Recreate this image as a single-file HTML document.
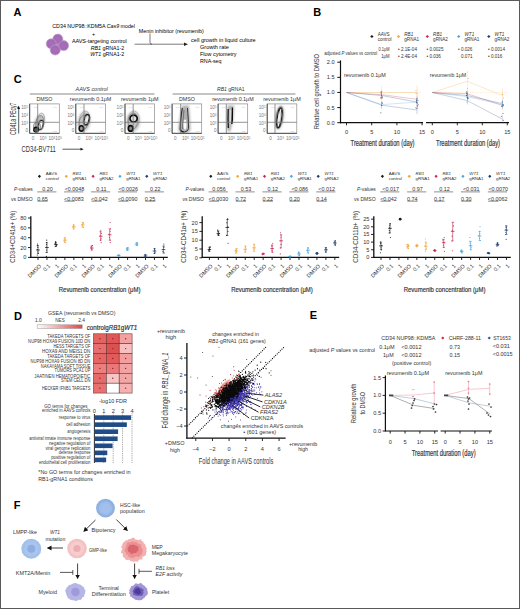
<!DOCTYPE html>
<html><head><meta charset="utf-8"><style>
html,body{margin:0;padding:0;background:#fff;}
#f{position:relative;width:520px;height:609px;overflow:hidden;background:#fff;}
svg{position:absolute;left:0;top:0;font-family:"Liberation Sans", sans-serif;}
</style></head><body><div id="f">
<svg width="520" height="609" viewBox="0 0 520 609">
<rect x="0.5" y="0.5" width="519" height="608" fill="#fff" stroke="#5a5a5a" stroke-width="1"/>
<text x="13.60" y="15.96" font-size="11" fill="#000" font-weight="bold" >A</text>
<text x="313.30" y="15.96" font-size="11" fill="#000" font-weight="bold" >B</text>
<text x="13.80" y="83.16" font-size="11" fill="#000" font-weight="bold" >C</text>
<text x="14.00" y="319.76" font-size="11" fill="#000" font-weight="bold" >D</text>
<text x="309.70" y="318.96" font-size="11" fill="#000" font-weight="bold" >E</text>
<text x="13.80" y="508.96" font-size="11" fill="#000" font-weight="bold" >F</text>
<circle cx="57.00" cy="44.60" r="5.50" fill="#b482c4" />
<circle cx="57.80" cy="39.20" r="5.10" fill="#a56fb7" stroke="#c19ad0" stroke-width="0.6"/>
<circle cx="57.80" cy="39.20" r="3.16" fill="none" stroke="#9a62ad" stroke-width="0.5" opacity="0.7"/>
<circle cx="51.20" cy="43.80" r="5.00" fill="#a56fb7" stroke="#c19ad0" stroke-width="0.6"/>
<circle cx="51.20" cy="43.80" r="3.10" fill="none" stroke="#9a62ad" stroke-width="0.5" opacity="0.7"/>
<circle cx="63.60" cy="45.60" r="5.00" fill="#a56fb7" stroke="#c19ad0" stroke-width="0.6"/>
<circle cx="63.60" cy="45.60" r="3.10" fill="none" stroke="#9a62ad" stroke-width="0.5" opacity="0.7"/>
<circle cx="55.20" cy="50.00" r="5.10" fill="#a56fb7" stroke="#c19ad0" stroke-width="0.6"/>
<circle cx="55.20" cy="50.00" r="3.16" fill="none" stroke="#9a62ad" stroke-width="0.5" opacity="0.7"/>
<text x="52.30" y="27.99" font-size="5.8" textLength="82.70" lengthAdjust="spacingAndGlyphs" >CD34 NUP98::KDM5A <tspan font-style="italic">Cas9</tspan> model</text>
<text x="93.50" y="35.71" font-size="5.3" text-anchor="middle" >+</text>
<text x="71.90" y="42.59" font-size="5.8" textLength="54.80" lengthAdjust="spacingAndGlyphs" >AAVS-targeting control</text>
<text x="90.80" y="49.59" font-size="5.8" textLength="33.40" lengthAdjust="spacingAndGlyphs" ><tspan font-style="italic">RB1</tspan> gRNA1-2</text>
<text x="90.20" y="56.29" font-size="5.8" textLength="34.00" lengthAdjust="spacingAndGlyphs" ><tspan font-style="italic">WT1</tspan> gRNA1-2</text>
<text x="138.80" y="33.09" font-size="5.8" textLength="65.00" lengthAdjust="spacingAndGlyphs" >Menin inhibitor (revumenib)</text>
<line x1="134.60" y1="44.20" x2="185.00" y2="44.20" stroke="#222" stroke-width="0.6" />
<path d="M150,33.5 L150,42.5 Q150,44.2 152,44.2" fill="none" stroke="#222" stroke-width="0.6" />
<path d="M184,42.5 L188,44.2 L184,45.9 Z" fill="#222" stroke="none" stroke-width="1" />
<text x="191.10" y="42.39" font-size="5.8" textLength="64.60" lengthAdjust="spacingAndGlyphs" >cell growth in liquid culture</text>
<text x="200.00" y="48.89" font-size="5.8" textLength="28.90" lengthAdjust="spacingAndGlyphs" >Growth rate</text>
<text x="200.00" y="55.99" font-size="5.8" textLength="36.60" lengthAdjust="spacingAndGlyphs" >Flow cytometry</text>
<text x="200.00" y="62.99" font-size="5.8" textLength="21.50" lengthAdjust="spacingAndGlyphs" >RNA-seq</text>
<path d="M370.20,36.5 L371.90,34.9 L373.60,36.5 L371.90,38.1 Z" fill="#1a1a1a"/>
<text x="377.70" y="35.86" font-size="4.6" fill="#333" >AAVS</text>
<text x="377.70" y="40.76" font-size="4.6" fill="#333" >control</text>
<path d="M396.80,36.5 L398.50,34.9 L400.20,36.5 L398.50,38.1 Z" fill="#f0a63a"/>
<text x="404.30" y="35.86" font-size="4.6" fill="#333" font-style="italic" >RB1</text>
<text x="404.30" y="40.76" font-size="4.6" fill="#333" >gRNA1</text>
<path d="M425.60,36.5 L427.30,34.9 L429.00,36.5 L427.30,38.1 Z" fill="#c42a52"/>
<text x="433.10" y="35.86" font-size="4.6" fill="#333" font-style="italic" >RB1</text>
<text x="433.10" y="40.76" font-size="4.6" fill="#333" >gRNA2</text>
<path d="M457.00,36.5 L458.70,34.9 L460.40,36.5 L458.70,38.1 Z" fill="#4aa6dc"/>
<text x="464.50" y="35.86" font-size="4.6" fill="#333" font-style="italic" >WT1</text>
<text x="464.50" y="40.76" font-size="4.6" fill="#333" >gRNA1</text>
<path d="M487.10,36.5 L488.80,34.9 L490.50,36.5 L488.80,38.1 Z" fill="#1e3c6c"/>
<text x="494.60" y="35.86" font-size="4.6" fill="#333" font-style="italic" >WT1</text>
<text x="494.60" y="40.76" font-size="4.6" fill="#333" >gRNA2</text>
<text x="324.20" y="55.40" font-size="5.0" textLength="53.00" lengthAdjust="spacingAndGlyphs" fill="#333" >adjusted <tspan font-style="italic">P</tspan> values vs control</text>
<text x="389.60" y="50.86" font-size="4.6" text-anchor="end" textLength="11.10" lengthAdjust="spacingAndGlyphs" fill="#333" >0.1μM</text>
<text x="389.60" y="58.16" font-size="4.6" text-anchor="end" textLength="8.40" lengthAdjust="spacingAndGlyphs" fill="#333" >1μM</text>
<text x="398.00" y="50.86" font-size="4.6" fill="#333" >• 2.1E-04</text>
<text x="398.00" y="58.16" font-size="4.6" fill="#333" >• 2.4E-04</text>
<text x="426.50" y="50.86" font-size="4.6" fill="#333" >• 0.0025</text>
<text x="426.50" y="58.16" font-size="4.6" fill="#333" >• 0.036</text>
<text x="458.00" y="50.86" font-size="4.6" fill="#333" >• 0.026</text>
<text x="461.00" y="58.16" font-size="4.6" fill="#333" >0.071</text>
<text x="488.00" y="50.86" font-size="4.6" fill="#333" >• 0.0014</text>
<text x="488.00" y="58.16" font-size="4.6" fill="#333" >• 0.016</text>
<line x1="340.50" y1="60.40" x2="340.50" y2="123.30" stroke="#111" stroke-width="1.2" />
<line x1="337.30" y1="62.20" x2="340.50" y2="62.20" stroke="#111" stroke-width="1" />
<text x="334.60" y="64.22" font-size="5.6" text-anchor="end" fill="#333" >2.0</text>
<line x1="337.30" y1="77.33" x2="340.50" y2="77.33" stroke="#111" stroke-width="1" />
<text x="334.60" y="79.34" font-size="5.6" text-anchor="end" fill="#333" >1.5</text>
<line x1="337.30" y1="92.45" x2="340.50" y2="92.45" stroke="#111" stroke-width="1" />
<text x="334.60" y="94.47" font-size="5.6" text-anchor="end" fill="#333" >1.0</text>
<line x1="337.30" y1="107.58" x2="340.50" y2="107.58" stroke="#111" stroke-width="1" />
<text x="334.60" y="109.59" font-size="5.6" text-anchor="end" fill="#333" >0.5</text>
<line x1="337.30" y1="122.70" x2="340.50" y2="122.70" stroke="#111" stroke-width="1" />
<text x="334.60" y="124.72" font-size="5.6" text-anchor="end" fill="#333" >0.0</text>
<line x1="340.00" y1="122.70" x2="423.00" y2="122.70" stroke="#111" stroke-width="1.2" />
<line x1="346.50" y1="122.70" x2="346.50" y2="125.30" stroke="#111" stroke-width="0.9" />
<text x="346.50" y="134.02" font-size="5.6" text-anchor="middle" fill="#333" >0</text>
<line x1="371.70" y1="122.70" x2="371.70" y2="125.30" stroke="#111" stroke-width="0.9" />
<text x="371.70" y="134.02" font-size="5.6" text-anchor="middle" fill="#333" >5</text>
<line x1="396.90" y1="122.70" x2="396.90" y2="125.30" stroke="#111" stroke-width="0.9" />
<text x="396.90" y="134.02" font-size="5.6" text-anchor="middle" fill="#333" >10</text>
<line x1="422.10" y1="122.70" x2="422.10" y2="125.30" stroke="#111" stroke-width="0.9" />
<text x="422.10" y="134.02" font-size="5.6" text-anchor="middle" fill="#333" >15</text>
<text x="382.54" y="145.62" font-size="8.4" text-anchor="middle" textLength="64.00" lengthAdjust="spacingAndGlyphs" fill="#333" stroke="#333" stroke-width="0.18">Treatment duration (day)</text>
<text x="343.90" y="76.56" font-size="6.0" textLength="42.00" lengthAdjust="spacingAndGlyphs" fill="#333" >revumenib 0.1μM</text>
<line x1="426.00" y1="122.70" x2="509.00" y2="122.70" stroke="#111" stroke-width="1.2" />
<line x1="432.30" y1="122.70" x2="432.30" y2="125.30" stroke="#111" stroke-width="0.9" />
<text x="432.30" y="134.02" font-size="5.6" text-anchor="middle" fill="#333" >0</text>
<line x1="457.30" y1="122.70" x2="457.30" y2="125.30" stroke="#111" stroke-width="0.9" />
<text x="457.30" y="134.02" font-size="5.6" text-anchor="middle" fill="#333" >5</text>
<line x1="482.30" y1="122.70" x2="482.30" y2="125.30" stroke="#111" stroke-width="0.9" />
<text x="482.30" y="134.02" font-size="5.6" text-anchor="middle" fill="#333" >10</text>
<line x1="507.30" y1="122.70" x2="507.30" y2="125.30" stroke="#111" stroke-width="0.9" />
<text x="507.30" y="134.02" font-size="5.6" text-anchor="middle" fill="#333" >15</text>
<text x="468.05" y="145.62" font-size="8.4" text-anchor="middle" textLength="64.00" lengthAdjust="spacingAndGlyphs" fill="#333" stroke="#333" stroke-width="0.18">Treatment duration (day)</text>
<text x="429.70" y="76.56" font-size="6.0" textLength="36.50" lengthAdjust="spacingAndGlyphs" fill="#333" >revumenib 1μM</text>
<text x="316.60" y="94.41" font-size="7.8" text-anchor="middle" textLength="75.40" lengthAdjust="spacingAndGlyphs" fill="#333" transform="rotate(-90 316.60 91.60)" >Relative cell growth to DMSO</text>
<path d="M346.5,92.5 L381.8,92.5 L417.1,92.5" fill="none" stroke="#f0a63a" stroke-width="0.6" opacity="0.45"/>
<line x1="381.78" y1="85.25" x2="381.78" y2="99.65" stroke="#f0a63a" stroke-width="0.4" opacity="0.6"/>
<circle cx="381.36" cy="96.72" r="0.50" fill="#f0a63a" />
<circle cx="380.75" cy="98.39" r="0.50" fill="#f0a63a" />
<circle cx="381.87" cy="91.29" r="0.50" fill="#f0a63a" />
<line x1="417.06" y1="85.25" x2="417.06" y2="99.65" stroke="#f0a63a" stroke-width="0.4" opacity="0.6"/>
<circle cx="417.08" cy="93.75" r="0.50" fill="#f0a63a" />
<circle cx="415.95" cy="90.70" r="0.50" fill="#f0a63a" />
<circle cx="416.08" cy="93.23" r="0.50" fill="#f0a63a" />
<path d="M346.5,92.5 L381.8,94.6 L417.1,99.4" fill="none" stroke="#c42a52" stroke-width="0.6" opacity="0.45"/>
<line x1="381.78" y1="90.57" x2="381.78" y2="98.57" stroke="#c42a52" stroke-width="0.4" opacity="0.6"/>
<circle cx="381.60" cy="95.24" r="0.50" fill="#c42a52" />
<circle cx="381.12" cy="93.29" r="0.50" fill="#c42a52" />
<circle cx="382.09" cy="98.04" r="0.50" fill="#c42a52" />
<line x1="417.06" y1="95.41" x2="417.06" y2="103.41" stroke="#c42a52" stroke-width="0.4" opacity="0.6"/>
<circle cx="416.81" cy="98.22" r="0.50" fill="#c42a52" />
<circle cx="418.20" cy="104.71" r="0.50" fill="#c42a52" />
<circle cx="416.56" cy="101.01" r="0.50" fill="#c42a52" />
<path d="M346.5,92.5 L381.8,95.5 L417.1,102.1" fill="none" stroke="#1e3c6c" stroke-width="0.6" opacity="0.45"/>
<line x1="381.78" y1="91.47" x2="381.78" y2="99.47" stroke="#1e3c6c" stroke-width="0.4" opacity="0.6"/>
<circle cx="380.93" cy="97.25" r="0.50" fill="#1e3c6c" />
<circle cx="382.54" cy="97.10" r="0.50" fill="#1e3c6c" />
<circle cx="381.01" cy="91.99" r="0.50" fill="#1e3c6c" />
<line x1="417.06" y1="98.13" x2="417.06" y2="106.13" stroke="#1e3c6c" stroke-width="0.4" opacity="0.6"/>
<circle cx="416.75" cy="100.17" r="0.50" fill="#1e3c6c" />
<circle cx="417.17" cy="103.04" r="0.50" fill="#1e3c6c" />
<circle cx="416.35" cy="102.51" r="0.50" fill="#1e3c6c" />
<path d="M346.5,92.5 L381.8,104.6 L417.1,102.1" fill="none" stroke="#4aa6dc" stroke-width="0.6" opacity="0.45"/>
<line x1="381.78" y1="100.55" x2="381.78" y2="108.55" stroke="#4aa6dc" stroke-width="0.4" opacity="0.6"/>
<circle cx="382.21" cy="102.37" r="0.50" fill="#4aa6dc" />
<circle cx="381.99" cy="105.62" r="0.50" fill="#4aa6dc" />
<circle cx="381.67" cy="103.02" r="0.50" fill="#4aa6dc" />
<line x1="417.06" y1="98.13" x2="417.06" y2="106.13" stroke="#4aa6dc" stroke-width="0.4" opacity="0.6"/>
<circle cx="417.54" cy="106.87" r="0.50" fill="#4aa6dc" />
<circle cx="416.45" cy="99.08" r="0.50" fill="#4aa6dc" />
<circle cx="417.96" cy="100.59" r="0.50" fill="#4aa6dc" />
<path d="M346.5,92.5 L381.8,105.2 L417.1,110.0" fill="none" stroke="#3c4c88" stroke-width="0.6" opacity="0.45"/>
<line x1="381.78" y1="101.16" x2="381.78" y2="109.16" stroke="#3c4c88" stroke-width="0.4" opacity="0.6"/>
<circle cx="382.33" cy="103.30" r="0.50" fill="#3c4c88" />
<circle cx="380.86" cy="112.77" r="0.50" fill="#3c4c88" />
<circle cx="381.58" cy="105.23" r="0.50" fill="#3c4c88" />
<line x1="417.06" y1="106.00" x2="417.06" y2="114.00" stroke="#3c4c88" stroke-width="0.4" opacity="0.6"/>
<circle cx="417.03" cy="108.39" r="0.50" fill="#3c4c88" />
<circle cx="415.95" cy="107.65" r="0.50" fill="#3c4c88" />
<circle cx="417.24" cy="105.85" r="0.50" fill="#3c4c88" />
<path d="M432.3,92.5 L467.3,81.3 L502.3,95.5" fill="none" stroke="#f0a63a" stroke-width="0.6" opacity="0.45"/>
<line x1="467.30" y1="74.06" x2="467.30" y2="88.46" stroke="#f0a63a" stroke-width="0.4" opacity="0.6"/>
<circle cx="468.20" cy="78.23" r="0.50" fill="#f0a63a" />
<circle cx="467.53" cy="88.41" r="0.50" fill="#f0a63a" />
<circle cx="467.49" cy="71.97" r="0.50" fill="#f0a63a" />
<line x1="502.30" y1="88.27" x2="502.30" y2="102.67" stroke="#f0a63a" stroke-width="0.4" opacity="0.6"/>
<circle cx="503.37" cy="98.10" r="0.50" fill="#f0a63a" />
<circle cx="502.24" cy="94.56" r="0.50" fill="#f0a63a" />
<circle cx="502.78" cy="93.95" r="0.50" fill="#f0a63a" />
<path d="M432.3,92.5 L467.3,93.7 L502.3,105.5" fill="none" stroke="#c42a52" stroke-width="0.6" opacity="0.45"/>
<line x1="467.30" y1="89.66" x2="467.30" y2="97.66" stroke="#c42a52" stroke-width="0.4" opacity="0.6"/>
<circle cx="467.65" cy="98.86" r="0.50" fill="#c42a52" />
<circle cx="466.78" cy="93.43" r="0.50" fill="#c42a52" />
<circle cx="467.03" cy="93.37" r="0.50" fill="#c42a52" />
<line x1="502.30" y1="101.46" x2="502.30" y2="109.46" stroke="#c42a52" stroke-width="0.4" opacity="0.6"/>
<circle cx="502.21" cy="104.94" r="0.50" fill="#c42a52" />
<circle cx="501.50" cy="106.18" r="0.50" fill="#c42a52" />
<circle cx="502.94" cy="106.11" r="0.50" fill="#c42a52" />
<path d="M432.3,92.5 L467.3,95.5 L502.3,103.6" fill="none" stroke="#1e3c6c" stroke-width="0.6" opacity="0.45"/>
<line x1="467.30" y1="91.47" x2="467.30" y2="99.47" stroke="#1e3c6c" stroke-width="0.4" opacity="0.6"/>
<circle cx="466.41" cy="95.52" r="0.50" fill="#1e3c6c" />
<circle cx="468.19" cy="98.26" r="0.50" fill="#1e3c6c" />
<circle cx="466.29" cy="92.12" r="0.50" fill="#1e3c6c" />
<line x1="502.30" y1="99.64" x2="502.30" y2="107.64" stroke="#1e3c6c" stroke-width="0.4" opacity="0.6"/>
<circle cx="503.22" cy="104.75" r="0.50" fill="#1e3c6c" />
<circle cx="503.07" cy="105.13" r="0.50" fill="#1e3c6c" />
<circle cx="502.10" cy="101.94" r="0.50" fill="#1e3c6c" />
<path d="M432.3,92.5 L467.3,96.7 L502.3,104.6" fill="none" stroke="#4aa6dc" stroke-width="0.6" opacity="0.45"/>
<line x1="467.30" y1="92.69" x2="467.30" y2="100.69" stroke="#4aa6dc" stroke-width="0.4" opacity="0.6"/>
<circle cx="466.96" cy="101.94" r="0.50" fill="#4aa6dc" />
<circle cx="466.46" cy="92.00" r="0.50" fill="#4aa6dc" />
<circle cx="466.52" cy="96.92" r="0.50" fill="#4aa6dc" />
<line x1="502.30" y1="100.55" x2="502.30" y2="108.55" stroke="#4aa6dc" stroke-width="0.4" opacity="0.6"/>
<circle cx="502.26" cy="106.58" r="0.50" fill="#4aa6dc" />
<circle cx="502.51" cy="104.53" r="0.50" fill="#4aa6dc" />
<circle cx="502.11" cy="104.80" r="0.50" fill="#4aa6dc" />
<path d="M432.3,92.5 L467.3,100.6 L502.3,119.1" fill="none" stroke="#3c4c88" stroke-width="0.6" opacity="0.45"/>
<line x1="467.30" y1="96.62" x2="467.30" y2="104.62" stroke="#3c4c88" stroke-width="0.4" opacity="0.6"/>
<circle cx="466.99" cy="94.28" r="0.50" fill="#3c4c88" />
<circle cx="467.76" cy="97.81" r="0.50" fill="#3c4c88" />
<circle cx="467.34" cy="97.51" r="0.50" fill="#3c4c88" />
<line x1="502.30" y1="115.07" x2="502.30" y2="123.07" stroke="#3c4c88" stroke-width="0.4" opacity="0.6"/>
<circle cx="501.23" cy="116.24" r="0.50" fill="#3c4c88" />
<circle cx="503.26" cy="120.14" r="0.50" fill="#3c4c88" />
<circle cx="503.01" cy="113.47" r="0.50" fill="#3c4c88" />
<line x1="346.50" y1="92.45" x2="422.00" y2="92.45" stroke="#f0a63a" stroke-width="0.4" stroke-dasharray="1 1" opacity="0.6"/>
<line x1="432.30" y1="92.45" x2="508.00" y2="92.45" stroke="#f0a63a" stroke-width="0.4" stroke-dasharray="1 1" opacity="0.6"/>
<text x="13.20" y="121.90" font-size="8.6" text-anchor="middle" textLength="32.50" lengthAdjust="spacingAndGlyphs" fill="#333" transform="rotate(-90 13.20 118.80)" >CD41a PEcy7</text>
<line x1="18.70" y1="133.50" x2="18.70" y2="108.00" stroke="#111" stroke-width="0.7" />
<path d="M17.3,109 L18.7,105.6 L20.1,109 Z" fill="#111" stroke="none" stroke-width="1" />
<text x="21.50" y="151.75" font-size="8.2" textLength="34.30" lengthAdjust="spacingAndGlyphs" fill="#333" >CD34-BV711</text>
<line x1="62.50" y1="149.20" x2="81.00" y2="149.20" stroke="#111" stroke-width="0.7" />
<path d="M80.5,147.8 L83.6,149.2 L80.5,150.6 Z" fill="#111" stroke="none" stroke-width="1" />
<text x="75.60" y="91.02" font-size="5.9" textLength="32.20" lengthAdjust="spacingAndGlyphs" fill="#333" font-style="italic" >AAVS control</text>
<line x1="29.80" y1="94.00" x2="154.50" y2="94.00" stroke="#8a8a8a" stroke-width="1.2" />
<text x="217.00" y="91.12" font-size="5.9" textLength="27.60" lengthAdjust="spacingAndGlyphs" fill="#333" ><tspan font-style="italic">RB1</tspan> gRNA1</text>
<line x1="172.60" y1="94.00" x2="295.40" y2="94.00" stroke="#8a8a8a" stroke-width="1.2" />
<defs><filter id="bl" x="-50%" y="-50%" width="200%" height="200%"><feGaussianBlur stdDeviation="0.6"/></filter><filter id="bl2" x="-50%" y="-50%" width="200%" height="200%"><feGaussianBlur stdDeviation="1.1"/></filter></defs>
<text x="44.50" y="101.42" font-size="5.9" text-anchor="middle" textLength="16.00" lengthAdjust="spacingAndGlyphs" fill="#333" >DMSO</text>
<rect x="29.70" y="103.90" width="29.60" height="29.40" fill="#fff" stroke="#8a8a8a" stroke-width="0.7"/>
<ellipse cx="39.50" cy="122.50" rx="4.8" ry="8.5" fill="#bdbdbd" stroke="none" stroke-width="1" transform="rotate(15 39.50 122.50)" filter="url(#bl2)"/>
<ellipse cx="40.50" cy="120.50" rx="3.8" ry="7.5" fill="none" stroke="#999" stroke-width="0.7" transform="rotate(12 40.50 120.50)" />
<ellipse cx="39.50" cy="122.50" rx="3.6" ry="7" fill="none" stroke="#777" stroke-width="0.7" transform="rotate(15 39.50 122.50)" />
<ellipse cx="40.80" cy="125.00" rx="2.2" ry="4.6" fill="#fff" stroke="#1a1a1a" stroke-width="1.3" transform="rotate(12 40.80 125.00)" filter="url(#bl)"/>
<ellipse cx="36.00" cy="129.60" rx="2.3" ry="2.3" fill="#555" stroke="#111" stroke-width="1.5" filter="url(#bl)"/>
<ellipse cx="37.00" cy="127.00" rx="3.5" ry="4.5" fill="none" stroke="#666" stroke-width="0.7" />
<line x1="37.70" y1="103.90" x2="37.70" y2="133.30" stroke="#7a7a7a" stroke-width="0.8" />
<line x1="29.70" y1="122.30" x2="59.30" y2="122.30" stroke="#7a7a7a" stroke-width="0.8" />
<line x1="29.70" y1="103.90" x2="29.70" y2="133.30" stroke="#333" stroke-width="0.8" />
<line x1="29.70" y1="133.30" x2="59.30" y2="133.30" stroke="#333" stroke-width="0.8" />
<text x="28.10" y="109.06" font-size="4.6" text-anchor="end" fill="#777" >10<tspan dy="-1" font-size="3">5</tspan></text>
<text x="28.10" y="117.06" font-size="4.6" text-anchor="end" fill="#777" >10<tspan dy="-1" font-size="3">4</tspan></text>
<text x="28.10" y="124.96" font-size="4.6" text-anchor="end" fill="#777" >10<tspan dy="-1" font-size="3">3</tspan></text>
<text x="28.10" y="131.96" font-size="4.6" text-anchor="end" fill="#777" >0</text>
<text x="33.00" y="139.76" font-size="4.6" text-anchor="middle" fill="#777" >0</text>
<text x="42.90" y="139.76" font-size="4.6" text-anchor="middle" fill="#777" >10<tspan dy="-1.2" font-size="3">3</tspan></text>
<text x="55.20" y="139.76" font-size="4.6" text-anchor="middle" fill="#777" >10<tspan dy="-1.2" font-size="3">4</tspan><tspan dy="1.2">10</tspan><tspan dy="-1.2" font-size="3">5</tspan></text>
<text x="33.70" y="107.76" font-size="2.4" fill="#aaa" >0.1</text>
<text x="53.30" y="107.76" font-size="2.4" fill="#aaa" >0.6</text>
<text x="53.30" y="131.66" font-size="2.4" fill="#aaa" >0.2</text>
<text x="90.60" y="101.42" font-size="5.9" text-anchor="middle" textLength="41.50" lengthAdjust="spacingAndGlyphs" fill="#333" >revumenib 0.1μM</text>
<rect x="75.80" y="103.90" width="29.60" height="29.40" fill="#fff" stroke="#8a8a8a" stroke-width="0.7"/>
<ellipse cx="84.00" cy="121.50" rx="6.5" ry="10.5" fill="#c4c4c4" stroke="none" stroke-width="1" transform="rotate(10 84.00 121.50)" filter="url(#bl2)"/>
<ellipse cx="84.50" cy="120.00" rx="5.2" ry="9" fill="none" stroke="#aaa" stroke-width="0.7" transform="rotate(10 84.50 120.00)" />
<ellipse cx="83.50" cy="122.50" rx="4.4" ry="7.5" fill="none" stroke="#777" stroke-width="0.7" transform="rotate(10 83.50 122.50)" />
<ellipse cx="86.60" cy="119.80" rx="2.3" ry="5.2" fill="#eee" stroke="#111" stroke-width="1.5" transform="rotate(12 86.60 119.80)" filter="url(#bl)"/>
<ellipse cx="81.40" cy="128.40" rx="2.2" ry="2.7" fill="#999" stroke="#111" stroke-width="1.6" filter="url(#bl)"/>
<line x1="84.00" y1="103.90" x2="84.00" y2="133.30" stroke="#7a7a7a" stroke-width="0.8" />
<line x1="75.80" y1="122.30" x2="105.40" y2="122.30" stroke="#7a7a7a" stroke-width="0.8" />
<line x1="75.80" y1="103.90" x2="75.80" y2="133.30" stroke="#333" stroke-width="0.8" />
<line x1="75.80" y1="133.30" x2="105.40" y2="133.30" stroke="#333" stroke-width="0.8" />
<text x="74.20" y="109.06" font-size="4.6" text-anchor="end" fill="#777" >10<tspan dy="-1" font-size="3">5</tspan></text>
<text x="74.20" y="117.06" font-size="4.6" text-anchor="end" fill="#777" >10<tspan dy="-1" font-size="3">4</tspan></text>
<text x="74.20" y="124.96" font-size="4.6" text-anchor="end" fill="#777" >10<tspan dy="-1" font-size="3">3</tspan></text>
<text x="74.20" y="131.96" font-size="4.6" text-anchor="end" fill="#777" >0</text>
<text x="79.10" y="139.76" font-size="4.6" text-anchor="middle" fill="#777" >0</text>
<text x="89.00" y="139.76" font-size="4.6" text-anchor="middle" fill="#777" >10<tspan dy="-1.2" font-size="3">3</tspan></text>
<text x="101.30" y="139.76" font-size="4.6" text-anchor="middle" fill="#777" >10<tspan dy="-1.2" font-size="3">4</tspan><tspan dy="1.2">10</tspan><tspan dy="-1.2" font-size="3">5</tspan></text>
<text x="79.80" y="107.76" font-size="2.4" fill="#aaa" >0.1</text>
<text x="99.40" y="107.76" font-size="2.4" fill="#aaa" >0.6</text>
<text x="99.40" y="131.66" font-size="2.4" fill="#aaa" >0.2</text>
<text x="139.80" y="101.42" font-size="5.9" text-anchor="middle" textLength="37.50" lengthAdjust="spacingAndGlyphs" fill="#333" >revumenib 1μM</text>
<rect x="125.00" y="103.90" width="29.60" height="29.40" fill="#fff" stroke="#8a8a8a" stroke-width="0.7"/>
<ellipse cx="133.00" cy="121.50" rx="7" ry="10.5" fill="#c4c4c4" stroke="none" stroke-width="1" transform="rotate(5 133.00 121.50)" filter="url(#bl2)"/>
<ellipse cx="133.50" cy="120.00" rx="5.8" ry="9" fill="none" stroke="#aaa" stroke-width="0.7" transform="rotate(5 133.50 120.00)" />
<ellipse cx="133.00" cy="121.00" rx="4.8" ry="8" fill="none" stroke="#777" stroke-width="0.7" transform="rotate(5 133.00 121.00)" />
<ellipse cx="133.60" cy="118.50" rx="3.6" ry="3.4" fill="#ddd" stroke="#111" stroke-width="1.7" filter="url(#bl)"/>
<line x1="130.00" y1="116.00" x2="130.00" y2="130.00" stroke="#111" stroke-width="1.6" filter="url(#bl)"/>
<ellipse cx="130.60" cy="128.40" rx="2.3" ry="2.8" fill="#888" stroke="#111" stroke-width="1.7" filter="url(#bl)"/>
<line x1="133.20" y1="103.90" x2="133.20" y2="133.30" stroke="#7a7a7a" stroke-width="0.8" />
<line x1="125.00" y1="122.30" x2="154.60" y2="122.30" stroke="#7a7a7a" stroke-width="0.8" />
<line x1="125.00" y1="103.90" x2="125.00" y2="133.30" stroke="#333" stroke-width="0.8" />
<line x1="125.00" y1="133.30" x2="154.60" y2="133.30" stroke="#333" stroke-width="0.8" />
<text x="123.40" y="109.06" font-size="4.6" text-anchor="end" fill="#777" >10<tspan dy="-1" font-size="3">5</tspan></text>
<text x="123.40" y="117.06" font-size="4.6" text-anchor="end" fill="#777" >10<tspan dy="-1" font-size="3">4</tspan></text>
<text x="123.40" y="124.96" font-size="4.6" text-anchor="end" fill="#777" >10<tspan dy="-1" font-size="3">3</tspan></text>
<text x="123.40" y="131.96" font-size="4.6" text-anchor="end" fill="#777" >0</text>
<text x="128.30" y="139.76" font-size="4.6" text-anchor="middle" fill="#777" >0</text>
<text x="138.20" y="139.76" font-size="4.6" text-anchor="middle" fill="#777" >10<tspan dy="-1.2" font-size="3">3</tspan></text>
<text x="150.50" y="139.76" font-size="4.6" text-anchor="middle" fill="#777" >10<tspan dy="-1.2" font-size="3">4</tspan><tspan dy="1.2">10</tspan><tspan dy="-1.2" font-size="3">5</tspan></text>
<text x="129.00" y="107.76" font-size="2.4" fill="#aaa" >0.1</text>
<text x="148.60" y="107.76" font-size="2.4" fill="#aaa" >0.6</text>
<text x="148.60" y="131.66" font-size="2.4" fill="#aaa" >0.2</text>
<text x="186.90" y="101.42" font-size="5.9" text-anchor="middle" textLength="16.00" lengthAdjust="spacingAndGlyphs" fill="#333" >DMSO</text>
<rect x="172.10" y="103.90" width="29.60" height="29.40" fill="#fff" stroke="#8a8a8a" stroke-width="0.7"/>
<path d="M182,105.5 C180.5,112 179,122 178.3,129.5 Q178.5,133 184,133 Q190.5,133 190.5,129 C190.3,120 189.5,112 189,105.5 Z" fill="#b0b0b0" stroke="none" stroke-width="1" filter="url(#bl2)"/>
<path d="M182.3,108 C181,116 180.2,124 180.2,129.5 Q181,132 184.5,132" fill="none" stroke="#1a1a1a" stroke-width="1.1" filter="url(#bl)"/>
<path d="M187.5,108 C188,116 188.6,123 188.6,128.5 Q188,131.5 184.5,132" fill="none" stroke="#333" stroke-width="1.0" filter="url(#bl)"/>
<path d="M184,110 C183.3,117 182.5,124 182.6,129" fill="none" stroke="#555" stroke-width="0.7" />
<ellipse cx="185.00" cy="124.50" rx="1.5" ry="5" fill="#fafafa" stroke="none" stroke-width="1" />
<line x1="180.70" y1="103.90" x2="180.70" y2="133.30" stroke="#7a7a7a" stroke-width="0.8" />
<line x1="172.10" y1="122.30" x2="201.70" y2="122.30" stroke="#7a7a7a" stroke-width="0.8" />
<line x1="172.10" y1="103.90" x2="172.10" y2="133.30" stroke="#333" stroke-width="0.8" />
<line x1="172.10" y1="133.30" x2="201.70" y2="133.30" stroke="#333" stroke-width="0.8" />
<text x="170.50" y="109.06" font-size="4.6" text-anchor="end" fill="#777" >10<tspan dy="-1" font-size="3">5</tspan></text>
<text x="170.50" y="117.06" font-size="4.6" text-anchor="end" fill="#777" >10<tspan dy="-1" font-size="3">4</tspan></text>
<text x="170.50" y="124.96" font-size="4.6" text-anchor="end" fill="#777" >10<tspan dy="-1" font-size="3">3</tspan></text>
<text x="170.50" y="131.96" font-size="4.6" text-anchor="end" fill="#777" >0</text>
<text x="175.40" y="139.76" font-size="4.6" text-anchor="middle" fill="#777" >0</text>
<text x="185.30" y="139.76" font-size="4.6" text-anchor="middle" fill="#777" >10<tspan dy="-1.2" font-size="3">3</tspan></text>
<text x="197.60" y="139.76" font-size="4.6" text-anchor="middle" fill="#777" >10<tspan dy="-1.2" font-size="3">4</tspan><tspan dy="1.2">10</tspan><tspan dy="-1.2" font-size="3">5</tspan></text>
<text x="176.10" y="107.76" font-size="2.4" fill="#aaa" >0.1</text>
<text x="195.70" y="107.76" font-size="2.4" fill="#aaa" >0.6</text>
<text x="195.70" y="131.66" font-size="2.4" fill="#aaa" >0.2</text>
<text x="232.90" y="101.42" font-size="5.9" text-anchor="middle" textLength="41.50" lengthAdjust="spacingAndGlyphs" fill="#333" >revumenib 0.1μM</text>
<rect x="218.10" y="103.90" width="29.60" height="29.40" fill="#fff" stroke="#8a8a8a" stroke-width="0.7"/>
<path d="M227.5,105.5 C227,113 226.8,122 227.3,131 L230,132 C232,126 234,118 234,105.5 Z" fill="#b0b0b0" stroke="none" stroke-width="1" filter="url(#bl2)"/>
<path d="M228.2,109 C227.9,116 227.9,122 228.3,128" fill="none" stroke="#111" stroke-width="1.3" filter="url(#bl)"/>
<path d="M232.6,107.5 C232.6,114 232.5,119 231.8,124" fill="none" stroke="#111" stroke-width="1.5" filter="url(#bl)"/>
<line x1="230.20" y1="110.00" x2="230.20" y2="124.00" stroke="#f6f6f6" stroke-width="0.9" />
<line x1="226.30" y1="103.90" x2="226.30" y2="133.30" stroke="#7a7a7a" stroke-width="0.8" />
<line x1="218.10" y1="122.30" x2="247.70" y2="122.30" stroke="#7a7a7a" stroke-width="0.8" />
<line x1="218.10" y1="103.90" x2="218.10" y2="133.30" stroke="#333" stroke-width="0.8" />
<line x1="218.10" y1="133.30" x2="247.70" y2="133.30" stroke="#333" stroke-width="0.8" />
<text x="216.50" y="109.06" font-size="4.6" text-anchor="end" fill="#777" >10<tspan dy="-1" font-size="3">5</tspan></text>
<text x="216.50" y="117.06" font-size="4.6" text-anchor="end" fill="#777" >10<tspan dy="-1" font-size="3">4</tspan></text>
<text x="216.50" y="124.96" font-size="4.6" text-anchor="end" fill="#777" >10<tspan dy="-1" font-size="3">3</tspan></text>
<text x="216.50" y="131.96" font-size="4.6" text-anchor="end" fill="#777" >0</text>
<text x="221.40" y="139.76" font-size="4.6" text-anchor="middle" fill="#777" >0</text>
<text x="231.30" y="139.76" font-size="4.6" text-anchor="middle" fill="#777" >10<tspan dy="-1.2" font-size="3">3</tspan></text>
<text x="243.60" y="139.76" font-size="4.6" text-anchor="middle" fill="#777" >10<tspan dy="-1.2" font-size="3">4</tspan><tspan dy="1.2">10</tspan><tspan dy="-1.2" font-size="3">5</tspan></text>
<text x="222.10" y="107.76" font-size="2.4" fill="#aaa" >0.1</text>
<text x="241.70" y="107.76" font-size="2.4" fill="#aaa" >0.6</text>
<text x="241.70" y="131.66" font-size="2.4" fill="#aaa" >0.2</text>
<text x="282.00" y="101.42" font-size="5.9" text-anchor="middle" textLength="37.50" lengthAdjust="spacingAndGlyphs" fill="#333" >revumenib 1μM</text>
<rect x="267.20" y="103.90" width="29.60" height="29.40" fill="#fff" stroke="#8a8a8a" stroke-width="0.7"/>
<ellipse cx="279.40" cy="117.50" rx="4.4" ry="12.5" fill="#c4c4c4" stroke="none" stroke-width="1" transform="rotate(8 279.40 117.50)" filter="url(#bl2)"/>
<ellipse cx="279.40" cy="117.50" rx="3.6" ry="11.5" fill="none" stroke="#999" stroke-width="0.7" transform="rotate(8 279.40 117.50)" />
<ellipse cx="279.40" cy="117.80" rx="2.2" ry="10" fill="#f4f4f4" stroke="#111" stroke-width="1.5" transform="rotate(8 279.40 117.80)" filter="url(#bl)"/>
<line x1="275.00" y1="103.90" x2="275.00" y2="133.30" stroke="#7a7a7a" stroke-width="0.8" />
<line x1="267.20" y1="122.30" x2="296.80" y2="122.30" stroke="#7a7a7a" stroke-width="0.8" />
<line x1="267.20" y1="103.90" x2="267.20" y2="133.30" stroke="#333" stroke-width="0.8" />
<line x1="267.20" y1="133.30" x2="296.80" y2="133.30" stroke="#333" stroke-width="0.8" />
<text x="265.60" y="109.06" font-size="4.6" text-anchor="end" fill="#777" >10<tspan dy="-1" font-size="3">5</tspan></text>
<text x="265.60" y="117.06" font-size="4.6" text-anchor="end" fill="#777" >10<tspan dy="-1" font-size="3">4</tspan></text>
<text x="265.60" y="124.96" font-size="4.6" text-anchor="end" fill="#777" >10<tspan dy="-1" font-size="3">3</tspan></text>
<text x="265.60" y="131.96" font-size="4.6" text-anchor="end" fill="#777" >0</text>
<text x="270.50" y="139.76" font-size="4.6" text-anchor="middle" fill="#777" >0</text>
<text x="280.40" y="139.76" font-size="4.6" text-anchor="middle" fill="#777" >10<tspan dy="-1.2" font-size="3">3</tspan></text>
<text x="292.70" y="139.76" font-size="4.6" text-anchor="middle" fill="#777" >10<tspan dy="-1.2" font-size="3">4</tspan><tspan dy="1.2">10</tspan><tspan dy="-1.2" font-size="3">5</tspan></text>
<text x="271.20" y="107.76" font-size="2.4" fill="#aaa" >0.1</text>
<text x="290.80" y="107.76" font-size="2.4" fill="#aaa" >0.6</text>
<text x="290.80" y="131.66" font-size="2.4" fill="#aaa" >0.2</text>
<path d="M37.80,176.3 L39.40,174.7 L41.00,176.3 L39.40,177.9 Z" fill="#1a1a1a"/>
<text x="45.70" y="175.48" font-size="4.4" fill="#333" >AAVS</text>
<text x="45.70" y="180.08" font-size="4.4" fill="#333" >control</text>
<path d="M64.65,176.3 L66.25,174.7 L67.85,176.3 L66.25,177.9 Z" fill="#f0a63a"/>
<text x="72.55" y="175.48" font-size="4.4" fill="#333" font-style="italic" >RB1</text>
<text x="72.55" y="180.08" font-size="4.4" fill="#333" >gRNA1</text>
<path d="M91.50,176.3 L93.10,174.7 L94.70,176.3 L93.10,177.9 Z" fill="#c42a52"/>
<text x="99.40" y="175.48" font-size="4.4" fill="#333" font-style="italic" >RB1</text>
<text x="99.40" y="180.08" font-size="4.4" fill="#333" >gRNA2</text>
<path d="M118.35,176.3 L119.95,174.7 L121.55,176.3 L119.95,177.9 Z" fill="#4aa6dc"/>
<text x="126.25" y="175.48" font-size="4.4" fill="#333" font-style="italic" >WT1</text>
<text x="126.25" y="180.08" font-size="4.4" fill="#333" >gRNA1</text>
<path d="M145.20,176.3 L146.80,174.7 L148.40,176.3 L146.80,177.9 Z" fill="#1e3c6c"/>
<text x="153.10" y="175.48" font-size="4.4" fill="#333" font-style="italic" >WT1</text>
<text x="153.10" y="180.08" font-size="4.4" fill="#333" >gRNA2</text>
<text x="14.00" y="191.24" font-size="5.4" textLength="18.80" lengthAdjust="spacingAndGlyphs" fill="#333" ><tspan font-style="italic">P</tspan>-values</text>
<text x="11.00" y="200.64" font-size="5.4" textLength="21.60" lengthAdjust="spacingAndGlyphs" fill="#333" >vs DMSO</text>
<line x1="37.20" y1="191.90" x2="56.40" y2="191.90" stroke="#444" stroke-width="0.6" />
<text x="47.60" y="191.14" font-size="5.4" text-anchor="middle" fill="#333" >0.20</text>
<line x1="37.50" y1="201.20" x2="47.80" y2="201.20" stroke="#444" stroke-width="0.6" />
<text x="37.20" y="200.64" font-size="5.4" fill="#333" >0.65</text>
<line x1="64.10" y1="191.90" x2="83.30" y2="191.90" stroke="#444" stroke-width="0.6" />
<text x="74.50" y="191.14" font-size="5.4" text-anchor="middle" fill="#333" >&lt;0.0048</text>
<line x1="64.40" y1="201.20" x2="74.70" y2="201.20" stroke="#444" stroke-width="0.6" />
<text x="64.10" y="200.64" font-size="5.4" fill="#333" >&lt;0.0083</text>
<line x1="91.00" y1="191.90" x2="110.20" y2="191.90" stroke="#444" stroke-width="0.6" />
<text x="101.40" y="191.14" font-size="5.4" text-anchor="middle" fill="#333" >0.11</text>
<line x1="91.30" y1="201.20" x2="101.60" y2="201.20" stroke="#444" stroke-width="0.6" />
<text x="91.00" y="200.64" font-size="5.4" fill="#333" >&lt;0.042</text>
<line x1="117.90" y1="191.90" x2="137.10" y2="191.90" stroke="#444" stroke-width="0.6" />
<text x="128.30" y="191.14" font-size="5.4" text-anchor="middle" fill="#333" >&lt;0.0026</text>
<line x1="118.20" y1="201.20" x2="128.50" y2="201.20" stroke="#444" stroke-width="0.6" />
<text x="117.90" y="200.64" font-size="5.4" fill="#333" >&lt;0.0090</text>
<line x1="144.80" y1="191.90" x2="164.00" y2="191.90" stroke="#444" stroke-width="0.6" />
<text x="155.20" y="191.14" font-size="5.4" text-anchor="middle" fill="#333" >0.22</text>
<line x1="145.10" y1="201.20" x2="155.40" y2="201.20" stroke="#444" stroke-width="0.6" />
<text x="144.80" y="200.64" font-size="5.4" fill="#333" >0.25</text>
<line x1="30.80" y1="216.20" x2="30.80" y2="258.00" stroke="#111" stroke-width="1.3" />
<line x1="30.20" y1="257.40" x2="167.80" y2="257.40" stroke="#111" stroke-width="1.3" />
<line x1="28.00" y1="257.40" x2="30.80" y2="257.40" stroke="#111" stroke-width="0.9" />
<text x="26.40" y="259.42" font-size="5.6" text-anchor="end" fill="#333" >0</text>
<line x1="28.00" y1="247.55" x2="30.80" y2="247.55" stroke="#111" stroke-width="0.9" />
<text x="26.40" y="249.57" font-size="5.6" text-anchor="end" fill="#333" >20</text>
<line x1="28.00" y1="237.70" x2="30.80" y2="237.70" stroke="#111" stroke-width="0.9" />
<text x="26.40" y="239.72" font-size="5.6" text-anchor="end" fill="#333" >40</text>
<line x1="28.00" y1="227.85" x2="30.80" y2="227.85" stroke="#111" stroke-width="0.9" />
<text x="26.40" y="229.87" font-size="5.6" text-anchor="end" fill="#333" >60</text>
<line x1="28.00" y1="218.00" x2="30.80" y2="218.00" stroke="#111" stroke-width="0.9" />
<text x="26.40" y="220.02" font-size="5.6" text-anchor="end" fill="#333" >80</text>
<text x="12.20" y="239.46" font-size="7.4" text-anchor="middle" textLength="52.00" lengthAdjust="spacingAndGlyphs" fill="#333" transform="rotate(-90 12.20 236.80)" >CD34+CD41a+ (%)</text>
<line x1="38.00" y1="257.40" x2="38.00" y2="260.00" stroke="#111" stroke-width="0.9" />
<text x="40.20" y="266.98" font-size="5.5" text-anchor="end" fill="#333" transform="rotate(-45 40.20 265.00)" >DMSO</text>
<line x1="46.96" y1="257.40" x2="46.96" y2="260.00" stroke="#111" stroke-width="0.9" />
<text x="49.16" y="266.98" font-size="5.5" text-anchor="end" fill="#333" transform="rotate(-45 49.16 265.00)" >0.1</text>
<line x1="55.92" y1="257.40" x2="55.92" y2="260.00" stroke="#111" stroke-width="0.9" />
<text x="58.12" y="266.98" font-size="5.5" text-anchor="end" fill="#333" transform="rotate(-45 58.12 265.00)" >1</text>
<line x1="64.88" y1="257.40" x2="64.88" y2="260.00" stroke="#111" stroke-width="0.9" />
<text x="67.08" y="266.98" font-size="5.5" text-anchor="end" fill="#333" transform="rotate(-45 67.08 265.00)" >DMSO</text>
<line x1="73.84" y1="257.40" x2="73.84" y2="260.00" stroke="#111" stroke-width="0.9" />
<text x="76.04" y="266.98" font-size="5.5" text-anchor="end" fill="#333" transform="rotate(-45 76.04 265.00)" >0.1</text>
<line x1="82.80" y1="257.40" x2="82.80" y2="260.00" stroke="#111" stroke-width="0.9" />
<text x="85.00" y="266.98" font-size="5.5" text-anchor="end" fill="#333" transform="rotate(-45 85.00 265.00)" >1</text>
<line x1="91.76" y1="257.40" x2="91.76" y2="260.00" stroke="#111" stroke-width="0.9" />
<text x="93.96" y="266.98" font-size="5.5" text-anchor="end" fill="#333" transform="rotate(-45 93.96 265.00)" >DMSO</text>
<line x1="100.72" y1="257.40" x2="100.72" y2="260.00" stroke="#111" stroke-width="0.9" />
<text x="102.92" y="266.98" font-size="5.5" text-anchor="end" fill="#333" transform="rotate(-45 102.92 265.00)" >0.1</text>
<line x1="109.68" y1="257.40" x2="109.68" y2="260.00" stroke="#111" stroke-width="0.9" />
<text x="111.88" y="266.98" font-size="5.5" text-anchor="end" fill="#333" transform="rotate(-45 111.88 265.00)" >1</text>
<line x1="118.64" y1="257.40" x2="118.64" y2="260.00" stroke="#111" stroke-width="0.9" />
<text x="120.84" y="266.98" font-size="5.5" text-anchor="end" fill="#333" transform="rotate(-45 120.84 265.00)" >DMSO</text>
<line x1="127.60" y1="257.40" x2="127.60" y2="260.00" stroke="#111" stroke-width="0.9" />
<text x="129.80" y="266.98" font-size="5.5" text-anchor="end" fill="#333" transform="rotate(-45 129.80 265.00)" >0.1</text>
<line x1="136.56" y1="257.40" x2="136.56" y2="260.00" stroke="#111" stroke-width="0.9" />
<text x="138.76" y="266.98" font-size="5.5" text-anchor="end" fill="#333" transform="rotate(-45 138.76 265.00)" >1</text>
<line x1="145.52" y1="257.40" x2="145.52" y2="260.00" stroke="#111" stroke-width="0.9" />
<text x="147.72" y="266.98" font-size="5.5" text-anchor="end" fill="#333" transform="rotate(-45 147.72 265.00)" >DMSO</text>
<line x1="154.48" y1="257.40" x2="154.48" y2="260.00" stroke="#111" stroke-width="0.9" />
<text x="156.68" y="266.98" font-size="5.5" text-anchor="end" fill="#333" transform="rotate(-45 156.68 265.00)" >0.1</text>
<line x1="163.44" y1="257.40" x2="163.44" y2="260.00" stroke="#111" stroke-width="0.9" />
<text x="165.64" y="266.98" font-size="5.5" text-anchor="end" fill="#333" transform="rotate(-45 165.64 265.00)" >1</text>
<text x="99.60" y="291.70" font-size="7.5" text-anchor="middle" textLength="81.70" lengthAdjust="spacingAndGlyphs" fill="#333" stroke="#333" stroke-width="0.18">Revumenib concentration (μM)</text>
<circle cx="37.83" cy="247.35" r="0.55" fill="#1a1a1a" />
<circle cx="37.84" cy="251.74" r="0.55" fill="#1a1a1a" />
<circle cx="37.37" cy="249.57" r="0.55" fill="#1a1a1a" />
<circle cx="38.21" cy="253.46" r="0.55" fill="#1a1a1a" />
<circle cx="37.30" cy="245.58" r="0.55" fill="#1a1a1a" />
<circle cx="37.31" cy="254.94" r="0.55" fill="#1a1a1a" />
<circle cx="37.53" cy="244.10" r="0.55" fill="#1a1a1a" />
<line x1="38.00" y1="253.46" x2="38.00" y2="245.58" stroke="#1a1a1a" stroke-width="0.6" />
<line x1="36.20" y1="250.01" x2="39.80" y2="250.01" stroke="#1a1a1a" stroke-width="0.8" />
<line x1="36.90" y1="253.46" x2="39.10" y2="253.46" stroke="#1a1a1a" stroke-width="0.5" />
<line x1="36.90" y1="245.58" x2="39.10" y2="245.58" stroke="#1a1a1a" stroke-width="0.5" />
<circle cx="46.42" cy="244.59" r="0.55" fill="#1a1a1a" />
<circle cx="46.70" cy="250.01" r="0.55" fill="#1a1a1a" />
<circle cx="46.24" cy="247.06" r="0.55" fill="#1a1a1a" />
<circle cx="46.16" cy="252.47" r="0.55" fill="#1a1a1a" />
<circle cx="46.40" cy="242.62" r="0.55" fill="#1a1a1a" />
<circle cx="46.32" cy="256.41" r="0.55" fill="#1a1a1a" />
<circle cx="46.74" cy="240.16" r="0.55" fill="#1a1a1a" />
<line x1="46.96" y1="252.47" x2="46.96" y2="242.62" stroke="#1a1a1a" stroke-width="0.6" />
<line x1="45.16" y1="247.55" x2="48.76" y2="247.55" stroke="#1a1a1a" stroke-width="0.8" />
<line x1="45.86" y1="252.47" x2="48.06" y2="252.47" stroke="#1a1a1a" stroke-width="0.5" />
<line x1="45.86" y1="242.62" x2="48.06" y2="242.62" stroke="#1a1a1a" stroke-width="0.5" />
<circle cx="55.16" cy="243.41" r="0.55" fill="#1a1a1a" />
<circle cx="56.52" cy="245.58" r="0.55" fill="#1a1a1a" />
<circle cx="56.10" cy="244.40" r="0.55" fill="#1a1a1a" />
<circle cx="55.36" cy="246.56" r="0.55" fill="#1a1a1a" />
<circle cx="55.52" cy="242.62" r="0.55" fill="#1a1a1a" />
<circle cx="55.68" cy="241.64" r="0.55" fill="#1a1a1a" />
<line x1="55.92" y1="246.56" x2="55.92" y2="242.62" stroke="#1a1a1a" stroke-width="0.6" />
<line x1="54.12" y1="244.59" x2="57.72" y2="244.59" stroke="#1a1a1a" stroke-width="0.8" />
<line x1="54.82" y1="246.56" x2="57.02" y2="246.56" stroke="#1a1a1a" stroke-width="0.5" />
<line x1="54.82" y1="242.62" x2="57.02" y2="242.62" stroke="#1a1a1a" stroke-width="0.5" />
<circle cx="64.66" cy="238.68" r="0.55" fill="#f0a63a" />
<circle cx="64.28" cy="241.39" r="0.55" fill="#f0a63a" />
<circle cx="65.44" cy="239.92" r="0.55" fill="#f0a63a" />
<circle cx="65.67" cy="242.62" r="0.55" fill="#f0a63a" />
<circle cx="64.83" cy="237.70" r="0.55" fill="#f0a63a" />
<line x1="64.88" y1="242.62" x2="64.88" y2="237.70" stroke="#f0a63a" stroke-width="0.6" />
<line x1="63.08" y1="240.16" x2="66.68" y2="240.16" stroke="#f0a63a" stroke-width="0.8" />
<line x1="63.78" y1="242.62" x2="65.98" y2="242.62" stroke="#f0a63a" stroke-width="0.5" />
<line x1="63.78" y1="237.70" x2="65.98" y2="237.70" stroke="#f0a63a" stroke-width="0.5" />
<circle cx="73.81" cy="225.68" r="0.55" fill="#f0a63a" />
<circle cx="73.18" cy="227.85" r="0.55" fill="#f0a63a" />
<circle cx="73.20" cy="226.67" r="0.55" fill="#f0a63a" />
<circle cx="73.59" cy="228.83" r="0.55" fill="#f0a63a" />
<circle cx="73.46" cy="224.89" r="0.55" fill="#f0a63a" />
<line x1="73.84" y1="228.83" x2="73.84" y2="224.89" stroke="#f0a63a" stroke-width="0.6" />
<line x1="72.04" y1="226.86" x2="75.64" y2="226.86" stroke="#f0a63a" stroke-width="0.8" />
<line x1="72.74" y1="228.83" x2="74.94" y2="228.83" stroke="#f0a63a" stroke-width="0.5" />
<line x1="72.74" y1="224.89" x2="74.94" y2="224.89" stroke="#f0a63a" stroke-width="0.5" />
<circle cx="83.33" cy="223.42" r="0.55" fill="#f0a63a" />
<circle cx="82.26" cy="226.13" r="0.55" fill="#f0a63a" />
<circle cx="82.04" cy="224.65" r="0.55" fill="#f0a63a" />
<circle cx="83.52" cy="227.36" r="0.55" fill="#f0a63a" />
<circle cx="82.85" cy="222.43" r="0.55" fill="#f0a63a" />
<line x1="82.80" y1="227.36" x2="82.80" y2="222.43" stroke="#f0a63a" stroke-width="0.6" />
<line x1="81.00" y1="224.89" x2="84.60" y2="224.89" stroke="#f0a63a" stroke-width="0.8" />
<line x1="81.70" y1="227.36" x2="83.90" y2="227.36" stroke="#f0a63a" stroke-width="0.5" />
<line x1="81.70" y1="222.43" x2="83.90" y2="222.43" stroke="#f0a63a" stroke-width="0.5" />
<circle cx="91.19" cy="246.56" r="0.55" fill="#c42a52" />
<circle cx="91.83" cy="249.03" r="0.55" fill="#c42a52" />
<circle cx="91.00" cy="247.80" r="0.55" fill="#c42a52" />
<circle cx="91.80" cy="250.01" r="0.55" fill="#c42a52" />
<circle cx="92.53" cy="245.58" r="0.55" fill="#c42a52" />
<line x1="91.76" y1="250.01" x2="91.76" y2="245.58" stroke="#c42a52" stroke-width="0.6" />
<line x1="89.96" y1="248.04" x2="93.56" y2="248.04" stroke="#c42a52" stroke-width="0.8" />
<line x1="90.66" y1="250.01" x2="92.86" y2="250.01" stroke="#c42a52" stroke-width="0.5" />
<line x1="90.66" y1="245.58" x2="92.86" y2="245.58" stroke="#c42a52" stroke-width="0.5" />
<circle cx="101.30" cy="233.56" r="0.55" fill="#c42a52" />
<circle cx="101.03" cy="238.19" r="0.55" fill="#c42a52" />
<circle cx="100.34" cy="235.78" r="0.55" fill="#c42a52" />
<circle cx="100.51" cy="240.16" r="0.55" fill="#c42a52" />
<circle cx="100.19" cy="231.79" r="0.55" fill="#c42a52" />
<circle cx="101.16" cy="242.62" r="0.55" fill="#c42a52" />
<circle cx="100.77" cy="230.31" r="0.55" fill="#c42a52" />
<line x1="100.72" y1="240.16" x2="100.72" y2="231.79" stroke="#c42a52" stroke-width="0.6" />
<line x1="98.92" y1="236.22" x2="102.52" y2="236.22" stroke="#c42a52" stroke-width="0.8" />
<line x1="99.62" y1="240.16" x2="101.82" y2="240.16" stroke="#c42a52" stroke-width="0.5" />
<line x1="99.62" y1="231.79" x2="101.82" y2="231.79" stroke="#c42a52" stroke-width="0.5" />
<circle cx="110.13" cy="231.20" r="0.55" fill="#c42a52" />
<circle cx="109.41" cy="237.45" r="0.55" fill="#c42a52" />
<circle cx="109.24" cy="234.15" r="0.55" fill="#c42a52" />
<circle cx="110.18" cy="240.16" r="0.55" fill="#c42a52" />
<circle cx="110.46" cy="228.83" r="0.55" fill="#c42a52" />
<circle cx="110.24" cy="242.62" r="0.55" fill="#c42a52" />
<circle cx="110.17" cy="222.43" r="0.55" fill="#c42a52" />
<line x1="109.68" y1="240.16" x2="109.68" y2="228.83" stroke="#c42a52" stroke-width="0.6" />
<line x1="107.88" y1="234.74" x2="111.48" y2="234.74" stroke="#c42a52" stroke-width="0.8" />
<line x1="108.58" y1="240.16" x2="110.78" y2="240.16" stroke="#c42a52" stroke-width="0.5" />
<line x1="108.58" y1="228.83" x2="110.78" y2="228.83" stroke="#c42a52" stroke-width="0.5" />
<circle cx="119.15" cy="255.13" r="0.55" fill="#4aa6dc" />
<circle cx="119.02" cy="255.68" r="0.55" fill="#4aa6dc" />
<circle cx="118.20" cy="255.38" r="0.55" fill="#4aa6dc" />
<circle cx="118.67" cy="255.92" r="0.55" fill="#4aa6dc" />
<circle cx="118.41" cy="254.94" r="0.55" fill="#4aa6dc" />
<line x1="118.64" y1="255.92" x2="118.64" y2="254.94" stroke="#4aa6dc" stroke-width="0.6" />
<line x1="116.84" y1="255.43" x2="120.44" y2="255.43" stroke="#4aa6dc" stroke-width="0.8" />
<line x1="117.54" y1="255.92" x2="119.74" y2="255.92" stroke="#4aa6dc" stroke-width="0.5" />
<line x1="117.54" y1="254.94" x2="119.74" y2="254.94" stroke="#4aa6dc" stroke-width="0.5" />
<circle cx="126.85" cy="248.14" r="0.55" fill="#4aa6dc" />
<circle cx="126.84" cy="249.77" r="0.55" fill="#4aa6dc" />
<circle cx="127.25" cy="248.88" r="0.55" fill="#4aa6dc" />
<circle cx="127.21" cy="250.50" r="0.55" fill="#4aa6dc" />
<circle cx="127.91" cy="247.55" r="0.55" fill="#4aa6dc" />
<line x1="127.60" y1="250.50" x2="127.60" y2="247.55" stroke="#4aa6dc" stroke-width="0.6" />
<line x1="125.80" y1="249.03" x2="129.40" y2="249.03" stroke="#4aa6dc" stroke-width="0.8" />
<line x1="126.50" y1="250.50" x2="128.70" y2="250.50" stroke="#4aa6dc" stroke-width="0.5" />
<line x1="126.50" y1="247.55" x2="128.70" y2="247.55" stroke="#4aa6dc" stroke-width="0.5" />
<circle cx="137.29" cy="243.22" r="0.55" fill="#4aa6dc" />
<circle cx="136.48" cy="244.84" r="0.55" fill="#4aa6dc" />
<circle cx="137.26" cy="243.95" r="0.55" fill="#4aa6dc" />
<circle cx="137.34" cy="245.58" r="0.55" fill="#4aa6dc" />
<circle cx="137.29" cy="242.62" r="0.55" fill="#4aa6dc" />
<line x1="136.56" y1="245.58" x2="136.56" y2="242.62" stroke="#4aa6dc" stroke-width="0.6" />
<line x1="134.76" y1="244.10" x2="138.36" y2="244.10" stroke="#4aa6dc" stroke-width="0.8" />
<line x1="135.46" y1="245.58" x2="137.66" y2="245.58" stroke="#4aa6dc" stroke-width="0.5" />
<line x1="135.46" y1="242.62" x2="137.66" y2="242.62" stroke="#4aa6dc" stroke-width="0.5" />
<circle cx="145.30" cy="255.04" r="0.55" fill="#1e3c6c" />
<circle cx="145.07" cy="256.66" r="0.55" fill="#1e3c6c" />
<circle cx="145.08" cy="255.77" r="0.55" fill="#1e3c6c" />
<circle cx="145.03" cy="257.40" r="0.55" fill="#1e3c6c" />
<circle cx="145.05" cy="254.44" r="0.55" fill="#1e3c6c" />
<line x1="145.52" y1="257.40" x2="145.52" y2="254.44" stroke="#1e3c6c" stroke-width="0.6" />
<line x1="143.72" y1="255.92" x2="147.32" y2="255.92" stroke="#1e3c6c" stroke-width="0.8" />
<line x1="144.42" y1="257.40" x2="146.62" y2="257.40" stroke="#1e3c6c" stroke-width="0.5" />
<line x1="144.42" y1="254.44" x2="146.62" y2="254.44" stroke="#1e3c6c" stroke-width="0.5" />
<circle cx="154.68" cy="249.52" r="0.55" fill="#1e3c6c" />
<circle cx="155.12" cy="252.23" r="0.55" fill="#1e3c6c" />
<circle cx="155.02" cy="250.75" r="0.55" fill="#1e3c6c" />
<circle cx="154.45" cy="253.46" r="0.55" fill="#1e3c6c" />
<circle cx="154.72" cy="248.53" r="0.55" fill="#1e3c6c" />
<line x1="154.48" y1="253.46" x2="154.48" y2="248.53" stroke="#1e3c6c" stroke-width="0.6" />
<line x1="152.68" y1="251.00" x2="156.28" y2="251.00" stroke="#1e3c6c" stroke-width="0.8" />
<line x1="153.38" y1="253.46" x2="155.58" y2="253.46" stroke="#1e3c6c" stroke-width="0.5" />
<line x1="153.38" y1="248.53" x2="155.58" y2="248.53" stroke="#1e3c6c" stroke-width="0.5" />
<circle cx="163.92" cy="247.45" r="0.55" fill="#1e3c6c" />
<circle cx="162.78" cy="251.24" r="0.55" fill="#1e3c6c" />
<circle cx="163.70" cy="249.18" r="0.55" fill="#1e3c6c" />
<circle cx="164.10" cy="252.97" r="0.55" fill="#1e3c6c" />
<circle cx="163.89" cy="246.07" r="0.55" fill="#1e3c6c" />
<circle cx="163.84" cy="244.10" r="0.55" fill="#1e3c6c" />
<line x1="163.44" y1="252.97" x2="163.44" y2="246.07" stroke="#1e3c6c" stroke-width="0.6" />
<line x1="161.64" y1="249.52" x2="165.24" y2="249.52" stroke="#1e3c6c" stroke-width="0.8" />
<line x1="162.34" y1="252.97" x2="164.54" y2="252.97" stroke="#1e3c6c" stroke-width="0.5" />
<line x1="162.34" y1="246.07" x2="164.54" y2="246.07" stroke="#1e3c6c" stroke-width="0.5" />
<path d="M209.20,176.3 L210.80,174.7 L212.40,176.3 L210.80,177.9 Z" fill="#1a1a1a"/>
<text x="217.10" y="175.48" font-size="4.4" fill="#333" >AAVS</text>
<text x="217.10" y="180.08" font-size="4.4" fill="#333" >control</text>
<path d="M236.05,176.3 L237.65,174.7 L239.25,176.3 L237.65,177.9 Z" fill="#f0a63a"/>
<text x="243.95" y="175.48" font-size="4.4" fill="#333" font-style="italic" >RB1</text>
<text x="243.95" y="180.08" font-size="4.4" fill="#333" >gRNA1</text>
<path d="M262.90,176.3 L264.50,174.7 L266.10,176.3 L264.50,177.9 Z" fill="#c42a52"/>
<text x="270.80" y="175.48" font-size="4.4" fill="#333" font-style="italic" >RB1</text>
<text x="270.80" y="180.08" font-size="4.4" fill="#333" >gRNA2</text>
<path d="M289.75,176.3 L291.35,174.7 L292.95,176.3 L291.35,177.9 Z" fill="#4aa6dc"/>
<text x="297.65" y="175.48" font-size="4.4" fill="#333" font-style="italic" >WT1</text>
<text x="297.65" y="180.08" font-size="4.4" fill="#333" >gRNA1</text>
<path d="M316.60,176.3 L318.20,174.7 L319.80,176.3 L318.20,177.9 Z" fill="#1e3c6c"/>
<text x="324.50" y="175.48" font-size="4.4" fill="#333" font-style="italic" >WT1</text>
<text x="324.50" y="180.08" font-size="4.4" fill="#333" >gRNA2</text>
<text x="185.40" y="191.24" font-size="5.4" textLength="18.80" lengthAdjust="spacingAndGlyphs" fill="#333" ><tspan font-style="italic">P</tspan>-values</text>
<text x="182.40" y="200.64" font-size="5.4" textLength="21.60" lengthAdjust="spacingAndGlyphs" fill="#333" >vs DMSO</text>
<line x1="208.60" y1="191.90" x2="227.80" y2="191.90" stroke="#444" stroke-width="0.6" />
<text x="219.00" y="191.14" font-size="5.4" text-anchor="middle" fill="#333" >0.056</text>
<line x1="208.90" y1="201.20" x2="219.20" y2="201.20" stroke="#444" stroke-width="0.6" />
<text x="208.60" y="200.64" font-size="5.4" fill="#333" >&lt;0.0030</text>
<line x1="235.50" y1="191.90" x2="254.70" y2="191.90" stroke="#444" stroke-width="0.6" />
<text x="245.90" y="191.14" font-size="5.4" text-anchor="middle" fill="#333" >0.53</text>
<line x1="235.80" y1="201.20" x2="246.10" y2="201.20" stroke="#444" stroke-width="0.6" />
<text x="235.50" y="200.64" font-size="5.4" fill="#333" >0.72</text>
<line x1="262.40" y1="191.90" x2="281.60" y2="191.90" stroke="#444" stroke-width="0.6" />
<text x="272.80" y="191.14" font-size="5.4" text-anchor="middle" fill="#333" >0.12</text>
<line x1="262.70" y1="201.20" x2="273.00" y2="201.20" stroke="#444" stroke-width="0.6" />
<text x="262.40" y="200.64" font-size="5.4" fill="#333" >0.22</text>
<line x1="289.30" y1="191.90" x2="308.50" y2="191.90" stroke="#444" stroke-width="0.6" />
<text x="299.70" y="191.14" font-size="5.4" text-anchor="middle" fill="#333" >&lt;0.086</text>
<line x1="289.60" y1="201.20" x2="299.90" y2="201.20" stroke="#444" stroke-width="0.6" />
<text x="289.30" y="200.64" font-size="5.4" fill="#333" >0.20</text>
<line x1="316.20" y1="191.90" x2="335.40" y2="191.90" stroke="#444" stroke-width="0.6" />
<text x="326.60" y="191.14" font-size="5.4" text-anchor="middle" fill="#333" >&lt;0.012</text>
<line x1="316.50" y1="201.20" x2="326.80" y2="201.20" stroke="#444" stroke-width="0.6" />
<text x="316.20" y="200.64" font-size="5.4" fill="#333" >0.14</text>
<line x1="202.20" y1="216.20" x2="202.20" y2="258.00" stroke="#111" stroke-width="1.3" />
<line x1="201.60" y1="257.40" x2="339.20" y2="257.40" stroke="#111" stroke-width="1.3" />
<line x1="199.40" y1="257.80" x2="202.20" y2="257.80" stroke="#111" stroke-width="0.9" />
<text x="197.80" y="259.82" font-size="5.6" text-anchor="end" fill="#333" >0</text>
<line x1="199.40" y1="249.00" x2="202.20" y2="249.00" stroke="#111" stroke-width="0.9" />
<text x="197.80" y="251.02" font-size="5.6" text-anchor="end" fill="#333" >5</text>
<line x1="199.40" y1="240.20" x2="202.20" y2="240.20" stroke="#111" stroke-width="0.9" />
<text x="197.80" y="242.22" font-size="5.6" text-anchor="end" fill="#333" >10</text>
<line x1="199.40" y1="231.40" x2="202.20" y2="231.40" stroke="#111" stroke-width="0.9" />
<text x="197.80" y="233.42" font-size="5.6" text-anchor="end" fill="#333" >15</text>
<line x1="199.40" y1="222.60" x2="202.20" y2="222.60" stroke="#111" stroke-width="0.9" />
<text x="197.80" y="224.62" font-size="5.6" text-anchor="end" fill="#333" >20</text>
<text x="183.60" y="239.46" font-size="7.4" text-anchor="middle" textLength="52.00" lengthAdjust="spacingAndGlyphs" fill="#333" transform="rotate(-90 183.60 236.80)" >CD34-CD41a+ (%)</text>
<line x1="209.40" y1="257.40" x2="209.40" y2="260.00" stroke="#111" stroke-width="0.9" />
<text x="211.60" y="266.98" font-size="5.5" text-anchor="end" fill="#333" transform="rotate(-45 211.60 265.00)" >DMSO</text>
<line x1="218.36" y1="257.40" x2="218.36" y2="260.00" stroke="#111" stroke-width="0.9" />
<text x="220.56" y="266.98" font-size="5.5" text-anchor="end" fill="#333" transform="rotate(-45 220.56 265.00)" >0.1</text>
<line x1="227.32" y1="257.40" x2="227.32" y2="260.00" stroke="#111" stroke-width="0.9" />
<text x="229.52" y="266.98" font-size="5.5" text-anchor="end" fill="#333" transform="rotate(-45 229.52 265.00)" >1</text>
<line x1="236.28" y1="257.40" x2="236.28" y2="260.00" stroke="#111" stroke-width="0.9" />
<text x="238.48" y="266.98" font-size="5.5" text-anchor="end" fill="#333" transform="rotate(-45 238.48 265.00)" >DMSO</text>
<line x1="245.24" y1="257.40" x2="245.24" y2="260.00" stroke="#111" stroke-width="0.9" />
<text x="247.44" y="266.98" font-size="5.5" text-anchor="end" fill="#333" transform="rotate(-45 247.44 265.00)" >0.1</text>
<line x1="254.20" y1="257.40" x2="254.20" y2="260.00" stroke="#111" stroke-width="0.9" />
<text x="256.40" y="266.98" font-size="5.5" text-anchor="end" fill="#333" transform="rotate(-45 256.40 265.00)" >1</text>
<line x1="263.16" y1="257.40" x2="263.16" y2="260.00" stroke="#111" stroke-width="0.9" />
<text x="265.36" y="266.98" font-size="5.5" text-anchor="end" fill="#333" transform="rotate(-45 265.36 265.00)" >DMSO</text>
<line x1="272.12" y1="257.40" x2="272.12" y2="260.00" stroke="#111" stroke-width="0.9" />
<text x="274.32" y="266.98" font-size="5.5" text-anchor="end" fill="#333" transform="rotate(-45 274.32 265.00)" >0.1</text>
<line x1="281.08" y1="257.40" x2="281.08" y2="260.00" stroke="#111" stroke-width="0.9" />
<text x="283.28" y="266.98" font-size="5.5" text-anchor="end" fill="#333" transform="rotate(-45 283.28 265.00)" >1</text>
<line x1="290.04" y1="257.40" x2="290.04" y2="260.00" stroke="#111" stroke-width="0.9" />
<text x="292.24" y="266.98" font-size="5.5" text-anchor="end" fill="#333" transform="rotate(-45 292.24 265.00)" >DMSO</text>
<line x1="299.00" y1="257.40" x2="299.00" y2="260.00" stroke="#111" stroke-width="0.9" />
<text x="301.20" y="266.98" font-size="5.5" text-anchor="end" fill="#333" transform="rotate(-45 301.20 265.00)" >0.1</text>
<line x1="307.96" y1="257.40" x2="307.96" y2="260.00" stroke="#111" stroke-width="0.9" />
<text x="310.16" y="266.98" font-size="5.5" text-anchor="end" fill="#333" transform="rotate(-45 310.16 265.00)" >1</text>
<line x1="316.92" y1="257.40" x2="316.92" y2="260.00" stroke="#111" stroke-width="0.9" />
<text x="319.12" y="266.98" font-size="5.5" text-anchor="end" fill="#333" transform="rotate(-45 319.12 265.00)" >DMSO</text>
<line x1="325.88" y1="257.40" x2="325.88" y2="260.00" stroke="#111" stroke-width="0.9" />
<text x="328.08" y="266.98" font-size="5.5" text-anchor="end" fill="#333" transform="rotate(-45 328.08 265.00)" >0.1</text>
<line x1="334.84" y1="257.40" x2="334.84" y2="260.00" stroke="#111" stroke-width="0.9" />
<text x="337.04" y="266.98" font-size="5.5" text-anchor="end" fill="#333" transform="rotate(-45 337.04 265.00)" >1</text>
<text x="271.99" y="291.70" font-size="7.5" text-anchor="middle" textLength="81.70" lengthAdjust="spacingAndGlyphs" fill="#333" stroke="#333" stroke-width="0.18">Revumenib concentration (μM)</text>
<circle cx="209.36" cy="248.11" r="0.55" fill="#1a1a1a" />
<circle cx="208.89" cy="250.36" r="0.55" fill="#1a1a1a" />
<circle cx="209.86" cy="249.25" r="0.55" fill="#1a1a1a" />
<circle cx="209.13" cy="251.24" r="0.55" fill="#1a1a1a" />
<circle cx="209.88" cy="247.19" r="0.55" fill="#1a1a1a" />
<circle cx="210.15" cy="246.84" r="0.55" fill="#1a1a1a" />
<line x1="209.40" y1="251.24" x2="209.40" y2="247.19" stroke="#1a1a1a" stroke-width="0.6" />
<line x1="207.60" y1="249.48" x2="211.20" y2="249.48" stroke="#1a1a1a" stroke-width="0.8" />
<line x1="208.30" y1="251.24" x2="210.50" y2="251.24" stroke="#1a1a1a" stroke-width="0.5" />
<line x1="208.30" y1="247.19" x2="210.50" y2="247.19" stroke="#1a1a1a" stroke-width="0.5" />
<circle cx="218.19" cy="232.06" r="0.55" fill="#1a1a1a" />
<circle cx="218.20" cy="234.52" r="0.55" fill="#1a1a1a" />
<circle cx="219.07" cy="233.38" r="0.55" fill="#1a1a1a" />
<circle cx="218.72" cy="235.40" r="0.55" fill="#1a1a1a" />
<circle cx="217.83" cy="231.00" r="0.55" fill="#1a1a1a" />
<circle cx="217.76" cy="230.12" r="0.55" fill="#1a1a1a" />
<line x1="218.36" y1="235.40" x2="218.36" y2="231.00" stroke="#1a1a1a" stroke-width="0.6" />
<line x1="216.56" y1="233.64" x2="220.16" y2="233.64" stroke="#1a1a1a" stroke-width="0.8" />
<line x1="217.26" y1="235.40" x2="219.46" y2="235.40" stroke="#1a1a1a" stroke-width="0.5" />
<line x1="217.26" y1="231.00" x2="219.46" y2="231.00" stroke="#1a1a1a" stroke-width="0.5" />
<circle cx="226.76" cy="222.73" r="0.55" fill="#1a1a1a" />
<circle cx="227.97" cy="231.44" r="0.55" fill="#1a1a1a" />
<circle cx="227.81" cy="226.69" r="0.55" fill="#1a1a1a" />
<circle cx="226.75" cy="235.40" r="0.55" fill="#1a1a1a" />
<circle cx="227.84" cy="219.56" r="0.55" fill="#1a1a1a" />
<circle cx="228.09" cy="243.32" r="0.55" fill="#1a1a1a" />
<circle cx="227.57" cy="218.68" r="0.55" fill="#1a1a1a" />
<line x1="227.32" y1="235.40" x2="227.32" y2="219.56" stroke="#1a1a1a" stroke-width="0.6" />
<line x1="225.52" y1="227.48" x2="229.12" y2="227.48" stroke="#1a1a1a" stroke-width="0.8" />
<line x1="226.22" y1="235.40" x2="228.42" y2="235.40" stroke="#1a1a1a" stroke-width="0.5" />
<line x1="226.22" y1="219.56" x2="228.42" y2="219.56" stroke="#1a1a1a" stroke-width="0.5" />
<circle cx="236.04" cy="249.52" r="0.55" fill="#f0a63a" />
<circle cx="236.36" cy="251.94" r="0.55" fill="#f0a63a" />
<circle cx="235.69" cy="250.66" r="0.55" fill="#f0a63a" />
<circle cx="235.50" cy="253.00" r="0.55" fill="#f0a63a" />
<circle cx="237.03" cy="248.60" r="0.55" fill="#f0a63a" />
<line x1="236.28" y1="253.00" x2="236.28" y2="248.60" stroke="#f0a63a" stroke-width="0.6" />
<line x1="234.48" y1="250.89" x2="238.08" y2="250.89" stroke="#f0a63a" stroke-width="0.8" />
<line x1="235.18" y1="253.00" x2="237.38" y2="253.00" stroke="#f0a63a" stroke-width="0.5" />
<line x1="235.18" y1="248.60" x2="237.38" y2="248.60" stroke="#f0a63a" stroke-width="0.5" />
<circle cx="245.48" cy="247.30" r="0.55" fill="#f0a63a" />
<circle cx="245.28" cy="250.71" r="0.55" fill="#f0a63a" />
<circle cx="245.93" cy="248.97" r="0.55" fill="#f0a63a" />
<circle cx="245.13" cy="252.12" r="0.55" fill="#f0a63a" />
<circle cx="245.83" cy="245.96" r="0.55" fill="#f0a63a" />
<line x1="245.24" y1="252.12" x2="245.24" y2="245.96" stroke="#f0a63a" stroke-width="0.6" />
<line x1="243.44" y1="249.30" x2="247.04" y2="249.30" stroke="#f0a63a" stroke-width="0.8" />
<line x1="244.14" y1="252.12" x2="246.34" y2="252.12" stroke="#f0a63a" stroke-width="0.5" />
<line x1="244.14" y1="245.96" x2="246.34" y2="245.96" stroke="#f0a63a" stroke-width="0.5" />
<circle cx="254.72" cy="245.68" r="0.55" fill="#f0a63a" />
<circle cx="253.74" cy="249.57" r="0.55" fill="#f0a63a" />
<circle cx="253.80" cy="247.53" r="0.55" fill="#f0a63a" />
<circle cx="253.87" cy="251.24" r="0.55" fill="#f0a63a" />
<circle cx="253.78" cy="244.20" r="0.55" fill="#f0a63a" />
<line x1="254.20" y1="251.24" x2="254.20" y2="244.20" stroke="#f0a63a" stroke-width="0.6" />
<line x1="252.40" y1="247.90" x2="256.00" y2="247.90" stroke="#f0a63a" stroke-width="0.8" />
<line x1="253.10" y1="251.24" x2="255.30" y2="251.24" stroke="#f0a63a" stroke-width="0.5" />
<line x1="253.10" y1="244.20" x2="255.30" y2="244.20" stroke="#f0a63a" stroke-width="0.5" />
<circle cx="263.30" cy="253.46" r="0.55" fill="#c42a52" />
<circle cx="262.77" cy="254.23" r="0.55" fill="#c42a52" />
<circle cx="263.03" cy="253.81" r="0.55" fill="#c42a52" />
<circle cx="262.57" cy="254.58" r="0.55" fill="#c42a52" />
<circle cx="263.82" cy="253.18" r="0.55" fill="#c42a52" />
<line x1="263.16" y1="254.58" x2="263.16" y2="253.18" stroke="#c42a52" stroke-width="0.6" />
<line x1="261.36" y1="253.88" x2="264.96" y2="253.88" stroke="#c42a52" stroke-width="0.8" />
<line x1="262.06" y1="254.58" x2="264.26" y2="254.58" stroke="#c42a52" stroke-width="0.5" />
<line x1="262.06" y1="253.18" x2="264.26" y2="253.18" stroke="#c42a52" stroke-width="0.5" />
<circle cx="271.89" cy="246.49" r="0.55" fill="#c42a52" />
<circle cx="272.05" cy="250.36" r="0.55" fill="#c42a52" />
<circle cx="272.25" cy="248.25" r="0.55" fill="#c42a52" />
<circle cx="272.77" cy="252.12" r="0.55" fill="#c42a52" />
<circle cx="271.99" cy="245.08" r="0.55" fill="#c42a52" />
<circle cx="272.79" cy="243.32" r="0.55" fill="#c42a52" />
<line x1="272.12" y1="252.12" x2="272.12" y2="245.08" stroke="#c42a52" stroke-width="0.6" />
<line x1="270.32" y1="248.60" x2="273.92" y2="248.60" stroke="#c42a52" stroke-width="0.8" />
<line x1="271.02" y1="252.12" x2="273.22" y2="252.12" stroke="#c42a52" stroke-width="0.5" />
<line x1="271.02" y1="245.08" x2="273.22" y2="245.08" stroke="#c42a52" stroke-width="0.5" />
<circle cx="281.08" cy="237.27" r="0.55" fill="#c42a52" />
<circle cx="281.13" cy="244.38" r="0.55" fill="#c42a52" />
<circle cx="281.12" cy="240.26" r="0.55" fill="#c42a52" />
<circle cx="280.31" cy="247.90" r="0.55" fill="#c42a52" />
<circle cx="280.98" cy="234.87" r="0.55" fill="#c42a52" />
<circle cx="280.57" cy="232.76" r="0.55" fill="#c42a52" />
<circle cx="280.29" cy="253.88" r="0.55" fill="#c42a52" />
<line x1="281.08" y1="247.90" x2="281.08" y2="234.87" stroke="#c42a52" stroke-width="0.6" />
<line x1="279.28" y1="240.86" x2="282.88" y2="240.86" stroke="#c42a52" stroke-width="0.8" />
<line x1="279.98" y1="247.90" x2="282.18" y2="247.90" stroke="#c42a52" stroke-width="0.5" />
<line x1="279.98" y1="234.87" x2="282.18" y2="234.87" stroke="#c42a52" stroke-width="0.5" />
<circle cx="290.52" cy="256.20" r="0.55" fill="#4aa6dc" />
<circle cx="289.52" cy="256.78" r="0.55" fill="#4aa6dc" />
<circle cx="290.00" cy="256.47" r="0.55" fill="#4aa6dc" />
<circle cx="290.40" cy="257.05" r="0.55" fill="#4aa6dc" />
<circle cx="290.13" cy="255.99" r="0.55" fill="#4aa6dc" />
<line x1="290.04" y1="257.05" x2="290.04" y2="255.99" stroke="#4aa6dc" stroke-width="0.6" />
<line x1="288.24" y1="256.52" x2="291.84" y2="256.52" stroke="#4aa6dc" stroke-width="0.8" />
<line x1="288.94" y1="257.05" x2="291.14" y2="257.05" stroke="#4aa6dc" stroke-width="0.5" />
<line x1="288.94" y1="255.99" x2="291.14" y2="255.99" stroke="#4aa6dc" stroke-width="0.5" />
<circle cx="298.72" cy="252.82" r="0.55" fill="#4aa6dc" />
<circle cx="299.03" cy="254.76" r="0.55" fill="#4aa6dc" />
<circle cx="299.09" cy="253.70" r="0.55" fill="#4aa6dc" />
<circle cx="299.45" cy="255.64" r="0.55" fill="#4aa6dc" />
<circle cx="298.37" cy="252.12" r="0.55" fill="#4aa6dc" />
<line x1="299.00" y1="255.64" x2="299.00" y2="252.12" stroke="#4aa6dc" stroke-width="0.6" />
<line x1="297.20" y1="253.88" x2="300.80" y2="253.88" stroke="#4aa6dc" stroke-width="0.8" />
<line x1="297.90" y1="255.64" x2="300.10" y2="255.64" stroke="#4aa6dc" stroke-width="0.5" />
<line x1="297.90" y1="252.12" x2="300.10" y2="252.12" stroke="#4aa6dc" stroke-width="0.5" />
<circle cx="308.06" cy="248.78" r="0.55" fill="#4aa6dc" />
<circle cx="307.56" cy="251.68" r="0.55" fill="#4aa6dc" />
<circle cx="307.60" cy="250.10" r="0.55" fill="#4aa6dc" />
<circle cx="308.40" cy="253.00" r="0.55" fill="#4aa6dc" />
<circle cx="307.97" cy="247.72" r="0.55" fill="#4aa6dc" />
<line x1="307.96" y1="253.00" x2="307.96" y2="247.72" stroke="#4aa6dc" stroke-width="0.6" />
<line x1="306.16" y1="250.36" x2="309.76" y2="250.36" stroke="#4aa6dc" stroke-width="0.8" />
<line x1="306.86" y1="253.00" x2="309.06" y2="253.00" stroke="#4aa6dc" stroke-width="0.5" />
<line x1="306.86" y1="247.72" x2="309.06" y2="247.72" stroke="#4aa6dc" stroke-width="0.5" />
<circle cx="317.02" cy="252.82" r="0.55" fill="#1e3c6c" />
<circle cx="317.34" cy="253.79" r="0.55" fill="#1e3c6c" />
<circle cx="317.58" cy="253.26" r="0.55" fill="#1e3c6c" />
<circle cx="316.83" cy="254.23" r="0.55" fill="#1e3c6c" />
<circle cx="317.10" cy="252.47" r="0.55" fill="#1e3c6c" />
<line x1="316.92" y1="254.23" x2="316.92" y2="252.47" stroke="#1e3c6c" stroke-width="0.6" />
<line x1="315.12" y1="253.35" x2="318.72" y2="253.35" stroke="#1e3c6c" stroke-width="0.8" />
<line x1="315.82" y1="254.23" x2="318.02" y2="254.23" stroke="#1e3c6c" stroke-width="0.5" />
<line x1="315.82" y1="252.47" x2="318.02" y2="252.47" stroke="#1e3c6c" stroke-width="0.5" />
<circle cx="325.89" cy="248.46" r="0.55" fill="#1e3c6c" />
<circle cx="325.90" cy="250.98" r="0.55" fill="#1e3c6c" />
<circle cx="326.19" cy="249.60" r="0.55" fill="#1e3c6c" />
<circle cx="325.80" cy="252.12" r="0.55" fill="#1e3c6c" />
<circle cx="325.93" cy="247.54" r="0.55" fill="#1e3c6c" />
<line x1="325.88" y1="252.12" x2="325.88" y2="247.54" stroke="#1e3c6c" stroke-width="0.6" />
<line x1="324.08" y1="249.83" x2="327.68" y2="249.83" stroke="#1e3c6c" stroke-width="0.8" />
<line x1="324.78" y1="252.12" x2="326.98" y2="252.12" stroke="#1e3c6c" stroke-width="0.5" />
<line x1="324.78" y1="247.54" x2="326.98" y2="247.54" stroke="#1e3c6c" stroke-width="0.5" />
<circle cx="334.80" cy="241.70" r="0.55" fill="#1e3c6c" />
<circle cx="335.55" cy="244.02" r="0.55" fill="#1e3c6c" />
<circle cx="335.16" cy="242.76" r="0.55" fill="#1e3c6c" />
<circle cx="335.44" cy="245.08" r="0.55" fill="#1e3c6c" />
<circle cx="335.55" cy="240.86" r="0.55" fill="#1e3c6c" />
<line x1="334.84" y1="245.08" x2="334.84" y2="240.86" stroke="#1e3c6c" stroke-width="0.6" />
<line x1="333.04" y1="242.97" x2="336.64" y2="242.97" stroke="#1e3c6c" stroke-width="0.8" />
<line x1="333.74" y1="245.08" x2="335.94" y2="245.08" stroke="#1e3c6c" stroke-width="0.5" />
<line x1="333.74" y1="240.86" x2="335.94" y2="240.86" stroke="#1e3c6c" stroke-width="0.5" />
<path d="M380.80,176.3 L382.40,174.7 L384.00,176.3 L382.40,177.9 Z" fill="#1a1a1a"/>
<text x="388.70" y="175.48" font-size="4.4" fill="#333" >AAVS</text>
<text x="388.70" y="180.08" font-size="4.4" fill="#333" >control</text>
<path d="M407.65,176.3 L409.25,174.7 L410.85,176.3 L409.25,177.9 Z" fill="#f0a63a"/>
<text x="415.55" y="175.48" font-size="4.4" fill="#333" font-style="italic" >RB1</text>
<text x="415.55" y="180.08" font-size="4.4" fill="#333" >gRNA1</text>
<path d="M434.50,176.3 L436.10,174.7 L437.70,176.3 L436.10,177.9 Z" fill="#c42a52"/>
<text x="442.40" y="175.48" font-size="4.4" fill="#333" font-style="italic" >RB1</text>
<text x="442.40" y="180.08" font-size="4.4" fill="#333" >gRNA2</text>
<path d="M461.35,176.3 L462.95,174.7 L464.55,176.3 L462.95,177.9 Z" fill="#4aa6dc"/>
<text x="469.25" y="175.48" font-size="4.4" fill="#333" font-style="italic" >WT1</text>
<text x="469.25" y="180.08" font-size="4.4" fill="#333" >gRNA1</text>
<path d="M488.20,176.3 L489.80,174.7 L491.40,176.3 L489.80,177.9 Z" fill="#1e3c6c"/>
<text x="496.10" y="175.48" font-size="4.4" fill="#333" font-style="italic" >WT1</text>
<text x="496.10" y="180.08" font-size="4.4" fill="#333" >gRNA2</text>
<text x="357.00" y="191.24" font-size="5.4" textLength="18.80" lengthAdjust="spacingAndGlyphs" fill="#333" ><tspan font-style="italic">P</tspan>-values</text>
<text x="354.00" y="200.64" font-size="5.4" textLength="21.60" lengthAdjust="spacingAndGlyphs" fill="#333" >vs DMSO</text>
<line x1="380.20" y1="191.90" x2="399.40" y2="191.90" stroke="#444" stroke-width="0.6" />
<text x="390.60" y="191.14" font-size="5.4" text-anchor="middle" fill="#333" >&lt;0.017</text>
<line x1="380.50" y1="201.20" x2="390.80" y2="201.20" stroke="#444" stroke-width="0.6" />
<text x="380.20" y="200.64" font-size="5.4" fill="#333" >&lt;0.042</text>
<line x1="407.10" y1="191.90" x2="426.30" y2="191.90" stroke="#444" stroke-width="0.6" />
<text x="417.50" y="191.14" font-size="5.4" text-anchor="middle" fill="#333" >0.97</text>
<line x1="407.40" y1="201.20" x2="417.70" y2="201.20" stroke="#444" stroke-width="0.6" />
<text x="407.10" y="200.64" font-size="5.4" fill="#333" >0.74</text>
<line x1="434.00" y1="191.90" x2="453.20" y2="191.90" stroke="#444" stroke-width="0.6" />
<text x="444.40" y="191.14" font-size="5.4" text-anchor="middle" fill="#333" >0.12</text>
<line x1="434.30" y1="201.20" x2="444.60" y2="201.20" stroke="#444" stroke-width="0.6" />
<text x="434.00" y="200.64" font-size="5.4" fill="#333" >0.17</text>
<line x1="460.90" y1="191.90" x2="480.10" y2="191.90" stroke="#444" stroke-width="0.6" />
<text x="471.30" y="191.14" font-size="5.4" text-anchor="middle" fill="#333" >&lt;0.031</text>
<line x1="461.20" y1="201.20" x2="471.50" y2="201.20" stroke="#444" stroke-width="0.6" />
<text x="460.90" y="200.64" font-size="5.4" fill="#333" >0.30</text>
<line x1="487.80" y1="191.90" x2="507.00" y2="191.90" stroke="#444" stroke-width="0.6" />
<text x="498.20" y="191.14" font-size="5.4" text-anchor="middle" fill="#333" >&lt;0.0070</text>
<line x1="488.10" y1="201.20" x2="498.40" y2="201.20" stroke="#444" stroke-width="0.6" />
<text x="487.80" y="200.64" font-size="5.4" fill="#333" >&lt;0.0062</text>
<line x1="373.80" y1="216.20" x2="373.80" y2="258.00" stroke="#111" stroke-width="1.3" />
<line x1="373.20" y1="257.40" x2="510.80" y2="257.40" stroke="#111" stroke-width="1.3" />
<line x1="371.00" y1="257.40" x2="373.80" y2="257.40" stroke="#111" stroke-width="0.9" />
<text x="369.40" y="259.42" font-size="5.6" text-anchor="end" fill="#333" >0</text>
<line x1="371.00" y1="249.75" x2="373.80" y2="249.75" stroke="#111" stroke-width="0.9" />
<text x="369.40" y="251.77" font-size="5.6" text-anchor="end" fill="#333" >5</text>
<line x1="371.00" y1="242.10" x2="373.80" y2="242.10" stroke="#111" stroke-width="0.9" />
<text x="369.40" y="244.12" font-size="5.6" text-anchor="end" fill="#333" >10</text>
<line x1="371.00" y1="234.45" x2="373.80" y2="234.45" stroke="#111" stroke-width="0.9" />
<text x="369.40" y="236.47" font-size="5.6" text-anchor="end" fill="#333" >15</text>
<line x1="371.00" y1="226.80" x2="373.80" y2="226.80" stroke="#111" stroke-width="0.9" />
<text x="369.40" y="228.82" font-size="5.6" text-anchor="end" fill="#333" >20</text>
<line x1="371.00" y1="219.15" x2="373.80" y2="219.15" stroke="#111" stroke-width="0.9" />
<text x="369.40" y="221.17" font-size="5.6" text-anchor="end" fill="#333" >25</text>
<text x="355.20" y="239.46" font-size="7.4" text-anchor="middle" textLength="52.00" lengthAdjust="spacingAndGlyphs" fill="#333" transform="rotate(-90 355.20 236.80)" >CD34-CD11b+ (%)</text>
<line x1="381.00" y1="257.40" x2="381.00" y2="260.00" stroke="#111" stroke-width="0.9" />
<text x="383.20" y="266.98" font-size="5.5" text-anchor="end" fill="#333" transform="rotate(-45 383.20 265.00)" >DMSO</text>
<line x1="389.96" y1="257.40" x2="389.96" y2="260.00" stroke="#111" stroke-width="0.9" />
<text x="392.16" y="266.98" font-size="5.5" text-anchor="end" fill="#333" transform="rotate(-45 392.16 265.00)" >0.1</text>
<line x1="398.92" y1="257.40" x2="398.92" y2="260.00" stroke="#111" stroke-width="0.9" />
<text x="401.12" y="266.98" font-size="5.5" text-anchor="end" fill="#333" transform="rotate(-45 401.12 265.00)" >1</text>
<line x1="407.88" y1="257.40" x2="407.88" y2="260.00" stroke="#111" stroke-width="0.9" />
<text x="410.08" y="266.98" font-size="5.5" text-anchor="end" fill="#333" transform="rotate(-45 410.08 265.00)" >DMSO</text>
<line x1="416.84" y1="257.40" x2="416.84" y2="260.00" stroke="#111" stroke-width="0.9" />
<text x="419.04" y="266.98" font-size="5.5" text-anchor="end" fill="#333" transform="rotate(-45 419.04 265.00)" >0.1</text>
<line x1="425.80" y1="257.40" x2="425.80" y2="260.00" stroke="#111" stroke-width="0.9" />
<text x="428.00" y="266.98" font-size="5.5" text-anchor="end" fill="#333" transform="rotate(-45 428.00 265.00)" >1</text>
<line x1="434.76" y1="257.40" x2="434.76" y2="260.00" stroke="#111" stroke-width="0.9" />
<text x="436.96" y="266.98" font-size="5.5" text-anchor="end" fill="#333" transform="rotate(-45 436.96 265.00)" >DMSO</text>
<line x1="443.72" y1="257.40" x2="443.72" y2="260.00" stroke="#111" stroke-width="0.9" />
<text x="445.92" y="266.98" font-size="5.5" text-anchor="end" fill="#333" transform="rotate(-45 445.92 265.00)" >0.1</text>
<line x1="452.68" y1="257.40" x2="452.68" y2="260.00" stroke="#111" stroke-width="0.9" />
<text x="454.88" y="266.98" font-size="5.5" text-anchor="end" fill="#333" transform="rotate(-45 454.88 265.00)" >1</text>
<line x1="461.64" y1="257.40" x2="461.64" y2="260.00" stroke="#111" stroke-width="0.9" />
<text x="463.84" y="266.98" font-size="5.5" text-anchor="end" fill="#333" transform="rotate(-45 463.84 265.00)" >DMSO</text>
<line x1="470.60" y1="257.40" x2="470.60" y2="260.00" stroke="#111" stroke-width="0.9" />
<text x="472.80" y="266.98" font-size="5.5" text-anchor="end" fill="#333" transform="rotate(-45 472.80 265.00)" >0.1</text>
<line x1="479.56" y1="257.40" x2="479.56" y2="260.00" stroke="#111" stroke-width="0.9" />
<text x="481.76" y="266.98" font-size="5.5" text-anchor="end" fill="#333" transform="rotate(-45 481.76 265.00)" >1</text>
<line x1="488.52" y1="257.40" x2="488.52" y2="260.00" stroke="#111" stroke-width="0.9" />
<text x="490.72" y="266.98" font-size="5.5" text-anchor="end" fill="#333" transform="rotate(-45 490.72 265.00)" >DMSO</text>
<line x1="497.48" y1="257.40" x2="497.48" y2="260.00" stroke="#111" stroke-width="0.9" />
<text x="499.68" y="266.98" font-size="5.5" text-anchor="end" fill="#333" transform="rotate(-45 499.68 265.00)" >0.1</text>
<line x1="506.44" y1="257.40" x2="506.44" y2="260.00" stroke="#111" stroke-width="0.9" />
<text x="508.64" y="266.98" font-size="5.5" text-anchor="end" fill="#333" transform="rotate(-45 508.64 265.00)" >1</text>
<text x="444.59" y="291.70" font-size="7.5" text-anchor="middle" textLength="81.70" lengthAdjust="spacingAndGlyphs" fill="#333" stroke="#333" stroke-width="0.18">Revumenib concentration (μM)</text>
<circle cx="380.62" cy="243.63" r="0.55" fill="#1a1a1a" />
<circle cx="381.10" cy="247.84" r="0.55" fill="#1a1a1a" />
<circle cx="381.71" cy="245.54" r="0.55" fill="#1a1a1a" />
<circle cx="381.54" cy="249.75" r="0.55" fill="#1a1a1a" />
<circle cx="380.42" cy="242.10" r="0.55" fill="#1a1a1a" />
<circle cx="380.39" cy="252.81" r="0.55" fill="#1a1a1a" />
<line x1="381.00" y1="249.75" x2="381.00" y2="242.10" stroke="#1a1a1a" stroke-width="0.6" />
<line x1="379.20" y1="245.92" x2="382.80" y2="245.92" stroke="#1a1a1a" stroke-width="0.8" />
<line x1="379.90" y1="249.75" x2="382.10" y2="249.75" stroke="#1a1a1a" stroke-width="0.5" />
<line x1="379.90" y1="242.10" x2="382.10" y2="242.10" stroke="#1a1a1a" stroke-width="0.5" />
<circle cx="389.87" cy="225.58" r="0.55" fill="#1a1a1a" />
<circle cx="389.28" cy="230.62" r="0.55" fill="#1a1a1a" />
<circle cx="389.55" cy="227.87" r="0.55" fill="#1a1a1a" />
<circle cx="389.28" cy="232.92" r="0.55" fill="#1a1a1a" />
<circle cx="390.23" cy="223.74" r="0.55" fill="#1a1a1a" />
<circle cx="390.41" cy="237.51" r="0.55" fill="#1a1a1a" />
<line x1="389.96" y1="232.92" x2="389.96" y2="223.74" stroke="#1a1a1a" stroke-width="0.6" />
<line x1="388.16" y1="228.33" x2="391.76" y2="228.33" stroke="#1a1a1a" stroke-width="0.8" />
<line x1="388.86" y1="232.92" x2="391.06" y2="232.92" stroke="#1a1a1a" stroke-width="0.5" />
<line x1="388.86" y1="223.74" x2="391.06" y2="223.74" stroke="#1a1a1a" stroke-width="0.5" />
<circle cx="408.52" cy="245.13" r="0.55" fill="#f0a63a" />
<circle cx="407.33" cy="247.23" r="0.55" fill="#f0a63a" />
<circle cx="408.23" cy="246.05" r="0.55" fill="#f0a63a" />
<circle cx="408.14" cy="248.22" r="0.55" fill="#f0a63a" />
<circle cx="407.31" cy="244.39" r="0.55" fill="#f0a63a" />
<circle cx="408.49" cy="248.22" r="0.55" fill="#f0a63a" />
<line x1="407.88" y1="248.22" x2="407.88" y2="244.39" stroke="#f0a63a" stroke-width="0.6" />
<line x1="406.08" y1="246.23" x2="409.68" y2="246.23" stroke="#f0a63a" stroke-width="0.8" />
<line x1="406.78" y1="248.22" x2="408.98" y2="248.22" stroke="#f0a63a" stroke-width="0.5" />
<line x1="406.78" y1="244.39" x2="408.98" y2="244.39" stroke="#f0a63a" stroke-width="0.5" />
<circle cx="417.59" cy="245.13" r="0.55" fill="#f0a63a" />
<circle cx="416.39" cy="246.23" r="0.55" fill="#f0a63a" />
<circle cx="417.56" cy="245.66" r="0.55" fill="#f0a63a" />
<circle cx="416.68" cy="246.69" r="0.55" fill="#f0a63a" />
<circle cx="416.82" cy="244.70" r="0.55" fill="#f0a63a" />
<line x1="416.84" y1="246.69" x2="416.84" y2="244.70" stroke="#f0a63a" stroke-width="0.6" />
<line x1="415.04" y1="245.77" x2="418.64" y2="245.77" stroke="#f0a63a" stroke-width="0.8" />
<line x1="415.74" y1="246.69" x2="417.94" y2="246.69" stroke="#f0a63a" stroke-width="0.5" />
<line x1="415.74" y1="244.70" x2="417.94" y2="244.70" stroke="#f0a63a" stroke-width="0.5" />
<circle cx="426.58" cy="243.75" r="0.55" fill="#f0a63a" />
<circle cx="426.33" cy="247.99" r="0.55" fill="#f0a63a" />
<circle cx="425.26" cy="245.82" r="0.55" fill="#f0a63a" />
<circle cx="425.69" cy="249.75" r="0.55" fill="#f0a63a" />
<circle cx="425.82" cy="242.10" r="0.55" fill="#f0a63a" />
<circle cx="425.54" cy="251.28" r="0.55" fill="#f0a63a" />
<circle cx="425.31" cy="239.04" r="0.55" fill="#f0a63a" />
<line x1="425.80" y1="249.75" x2="425.80" y2="242.10" stroke="#f0a63a" stroke-width="0.6" />
<line x1="424.00" y1="246.23" x2="427.60" y2="246.23" stroke="#f0a63a" stroke-width="0.8" />
<line x1="424.70" y1="249.75" x2="426.90" y2="249.75" stroke="#f0a63a" stroke-width="0.5" />
<line x1="424.70" y1="242.10" x2="426.90" y2="242.10" stroke="#f0a63a" stroke-width="0.5" />
<circle cx="434.47" cy="250.06" r="0.55" fill="#c42a52" />
<circle cx="435.12" cy="250.90" r="0.55" fill="#c42a52" />
<circle cx="433.99" cy="250.44" r="0.55" fill="#c42a52" />
<circle cx="434.85" cy="251.28" r="0.55" fill="#c42a52" />
<circle cx="434.66" cy="249.75" r="0.55" fill="#c42a52" />
<line x1="434.76" y1="251.28" x2="434.76" y2="249.75" stroke="#c42a52" stroke-width="0.6" />
<line x1="432.96" y1="250.51" x2="436.56" y2="250.51" stroke="#c42a52" stroke-width="0.8" />
<line x1="433.66" y1="251.28" x2="435.86" y2="251.28" stroke="#c42a52" stroke-width="0.5" />
<line x1="433.66" y1="249.75" x2="435.86" y2="249.75" stroke="#c42a52" stroke-width="0.5" />
<circle cx="442.95" cy="240.69" r="0.55" fill="#c42a52" />
<circle cx="443.45" cy="245.08" r="0.55" fill="#c42a52" />
<circle cx="443.92" cy="242.38" r="0.55" fill="#c42a52" />
<circle cx="443.74" cy="247.45" r="0.55" fill="#c42a52" />
<circle cx="443.02" cy="239.35" r="0.55" fill="#c42a52" />
<circle cx="444.50" cy="251.28" r="0.55" fill="#c42a52" />
<circle cx="444.18" cy="237.51" r="0.55" fill="#c42a52" />
<line x1="443.72" y1="247.45" x2="443.72" y2="239.35" stroke="#c42a52" stroke-width="0.6" />
<line x1="441.92" y1="242.71" x2="445.52" y2="242.71" stroke="#c42a52" stroke-width="0.8" />
<line x1="442.62" y1="247.45" x2="444.82" y2="247.45" stroke="#c42a52" stroke-width="0.5" />
<line x1="442.62" y1="239.35" x2="444.82" y2="239.35" stroke="#c42a52" stroke-width="0.5" />
<circle cx="453.43" cy="225.88" r="0.55" fill="#c42a52" />
<circle cx="452.05" cy="236.13" r="0.55" fill="#c42a52" />
<circle cx="452.30" cy="230.47" r="0.55" fill="#c42a52" />
<circle cx="451.94" cy="240.88" r="0.55" fill="#c42a52" />
<circle cx="453.13" cy="222.21" r="0.55" fill="#c42a52" />
<circle cx="452.31" cy="250.82" r="0.55" fill="#c42a52" />
<line x1="452.68" y1="240.88" x2="452.68" y2="222.21" stroke="#c42a52" stroke-width="0.6" />
<line x1="450.88" y1="231.39" x2="454.48" y2="231.39" stroke="#c42a52" stroke-width="0.8" />
<line x1="451.58" y1="240.88" x2="453.78" y2="240.88" stroke="#c42a52" stroke-width="0.5" />
<line x1="451.58" y1="222.21" x2="453.78" y2="222.21" stroke="#c42a52" stroke-width="0.5" />
<circle cx="461.05" cy="250.61" r="0.55" fill="#4aa6dc" />
<circle cx="461.52" cy="252.12" r="0.55" fill="#4aa6dc" />
<circle cx="462.30" cy="251.30" r="0.55" fill="#4aa6dc" />
<circle cx="462.15" cy="252.81" r="0.55" fill="#4aa6dc" />
<circle cx="461.25" cy="250.06" r="0.55" fill="#4aa6dc" />
<line x1="461.64" y1="252.81" x2="461.64" y2="250.06" stroke="#4aa6dc" stroke-width="0.6" />
<line x1="459.84" y1="251.43" x2="463.44" y2="251.43" stroke="#4aa6dc" stroke-width="0.8" />
<line x1="460.54" y1="252.81" x2="462.74" y2="252.81" stroke="#4aa6dc" stroke-width="0.5" />
<line x1="460.54" y1="250.06" x2="462.74" y2="250.06" stroke="#4aa6dc" stroke-width="0.5" />
<circle cx="470.04" cy="243.11" r="0.55" fill="#4aa6dc" />
<circle cx="471.27" cy="247.76" r="0.55" fill="#4aa6dc" />
<circle cx="470.71" cy="245.33" r="0.55" fill="#4aa6dc" />
<circle cx="470.92" cy="249.75" r="0.55" fill="#4aa6dc" />
<circle cx="469.94" cy="241.33" r="0.55" fill="#4aa6dc" />
<circle cx="469.89" cy="237.51" r="0.55" fill="#4aa6dc" />
<line x1="470.60" y1="249.75" x2="470.60" y2="241.33" stroke="#4aa6dc" stroke-width="0.6" />
<line x1="468.80" y1="245.77" x2="472.40" y2="245.77" stroke="#4aa6dc" stroke-width="0.8" />
<line x1="469.50" y1="249.75" x2="471.70" y2="249.75" stroke="#4aa6dc" stroke-width="0.5" />
<line x1="469.50" y1="241.33" x2="471.70" y2="241.33" stroke="#4aa6dc" stroke-width="0.5" />
<circle cx="479.86" cy="233.23" r="0.55" fill="#4aa6dc" />
<circle cx="479.44" cy="238.27" r="0.55" fill="#4aa6dc" />
<circle cx="478.88" cy="235.52" r="0.55" fill="#4aa6dc" />
<circle cx="480.26" cy="240.57" r="0.55" fill="#4aa6dc" />
<circle cx="479.78" cy="231.39" r="0.55" fill="#4aa6dc" />
<circle cx="480.04" cy="226.80" r="0.55" fill="#4aa6dc" />
<line x1="479.56" y1="240.57" x2="479.56" y2="231.39" stroke="#4aa6dc" stroke-width="0.6" />
<line x1="477.76" y1="235.98" x2="481.36" y2="235.98" stroke="#4aa6dc" stroke-width="0.8" />
<line x1="478.46" y1="240.57" x2="480.66" y2="240.57" stroke="#4aa6dc" stroke-width="0.5" />
<line x1="478.46" y1="231.39" x2="480.66" y2="231.39" stroke="#4aa6dc" stroke-width="0.5" />
<circle cx="487.85" cy="252.75" r="0.55" fill="#1e3c6c" />
<circle cx="489.09" cy="253.42" r="0.55" fill="#1e3c6c" />
<circle cx="487.83" cy="253.05" r="0.55" fill="#1e3c6c" />
<circle cx="489.10" cy="253.73" r="0.55" fill="#1e3c6c" />
<circle cx="488.45" cy="252.50" r="0.55" fill="#1e3c6c" />
<circle cx="488.26" cy="257.40" r="0.55" fill="#1e3c6c" />
<line x1="488.52" y1="253.73" x2="488.52" y2="252.50" stroke="#1e3c6c" stroke-width="0.6" />
<line x1="486.72" y1="253.12" x2="490.32" y2="253.12" stroke="#1e3c6c" stroke-width="0.8" />
<line x1="487.42" y1="253.73" x2="489.62" y2="253.73" stroke="#1e3c6c" stroke-width="0.5" />
<line x1="487.42" y1="252.50" x2="489.62" y2="252.50" stroke="#1e3c6c" stroke-width="0.5" />
<circle cx="497.56" cy="243.48" r="0.55" fill="#1e3c6c" />
<circle cx="498.16" cy="245.16" r="0.55" fill="#1e3c6c" />
<circle cx="497.11" cy="244.24" r="0.55" fill="#1e3c6c" />
<circle cx="496.89" cy="245.92" r="0.55" fill="#1e3c6c" />
<circle cx="497.52" cy="242.86" r="0.55" fill="#1e3c6c" />
<line x1="497.48" y1="245.92" x2="497.48" y2="242.86" stroke="#1e3c6c" stroke-width="0.6" />
<line x1="495.68" y1="244.39" x2="499.28" y2="244.39" stroke="#1e3c6c" stroke-width="0.8" />
<line x1="496.38" y1="245.92" x2="498.58" y2="245.92" stroke="#1e3c6c" stroke-width="0.5" />
<line x1="496.38" y1="242.86" x2="498.58" y2="242.86" stroke="#1e3c6c" stroke-width="0.5" />
<circle cx="506.02" cy="227.60" r="0.55" fill="#1e3c6c" />
<circle cx="505.82" cy="232.31" r="0.55" fill="#1e3c6c" />
<circle cx="505.90" cy="229.74" r="0.55" fill="#1e3c6c" />
<circle cx="505.72" cy="234.45" r="0.55" fill="#1e3c6c" />
<circle cx="505.96" cy="225.88" r="0.55" fill="#1e3c6c" />
<circle cx="506.14" cy="239.35" r="0.55" fill="#1e3c6c" />
<line x1="506.44" y1="234.45" x2="506.44" y2="225.88" stroke="#1e3c6c" stroke-width="0.6" />
<line x1="504.64" y1="230.17" x2="508.24" y2="230.17" stroke="#1e3c6c" stroke-width="0.8" />
<line x1="505.34" y1="234.45" x2="507.54" y2="234.45" stroke="#1e3c6c" stroke-width="0.5" />
<line x1="505.34" y1="225.88" x2="507.54" y2="225.88" stroke="#1e3c6c" stroke-width="0.5" />
<circle cx="400.20" cy="219.20" r="1.40" fill="#1a1a1a" />
<text x="48.00" y="314.57" font-size="5.2" textLength="67.40" lengthAdjust="spacingAndGlyphs" fill="#333" >GSEA (revumenib vs DMSO)</text>
<text x="35.00" y="322.07" font-size="5.2" textLength="6.80" lengthAdjust="spacingAndGlyphs" fill="#333" >1.0</text>
<text x="60.00" y="322.07" font-size="5.2" text-anchor="middle" textLength="9.40" lengthAdjust="spacingAndGlyphs" fill="#333" >NES</text>
<text x="78.20" y="322.07" font-size="5.2" textLength="6.70" lengthAdjust="spacingAndGlyphs" fill="#333" >2.4</text>
<defs><linearGradient id="nes" x1="0" x2="1" y1="0" y2="0"><stop offset="0" stop-color="#ffffff"/><stop offset="1" stop-color="#e04848"/></linearGradient></defs>
<rect x="37.20" y="324.80" width="45.00" height="3.80" fill="url(#nes)" stroke="#999" stroke-width="0.5"/>
<text x="86.70" y="329.99" font-size="7.2" textLength="50.60" lengthAdjust="spacingAndGlyphs" fill="#333" stroke="#333" stroke-width="0.2">controlg<tspan font-style="italic">RB1</tspan>g<tspan font-style="italic">WT1</tspan></text>
<rect x="93.40" y="333.80" width="12.90" height="9.88" fill="#e46262" stroke="#5a3434" stroke-width="0.55"/>
<circle cx="99.85" cy="338.74" r="0.65" fill="#8a1828" />
<rect x="106.30" y="333.80" width="12.90" height="9.88" fill="#e05656" stroke="#5a3434" stroke-width="0.55"/>
<circle cx="112.75" cy="338.74" r="0.65" fill="#8a1828" />
<rect x="119.20" y="333.80" width="12.90" height="9.88" fill="#f2a0a0" stroke="#5a3434" stroke-width="0.55"/>
<circle cx="125.65" cy="338.74" r="0.65" fill="#8a1828" />
<rect x="93.40" y="343.68" width="12.90" height="9.88" fill="#e76e6e" stroke="#5a3434" stroke-width="0.55"/>
<circle cx="99.85" cy="348.62" r="0.65" fill="#8a1828" />
<rect x="106.30" y="343.68" width="12.90" height="9.88" fill="#dd5050" stroke="#5a3434" stroke-width="0.55"/>
<circle cx="112.75" cy="348.62" r="0.65" fill="#8a1828" />
<rect x="119.20" y="343.68" width="12.90" height="9.88" fill="#f6c0c0" stroke="#5a3434" stroke-width="0.55"/>
<circle cx="125.65" cy="348.62" r="0.65" fill="#8a1828" />
<rect x="93.40" y="353.56" width="12.90" height="9.88" fill="#e56464" stroke="#5a3434" stroke-width="0.55"/>
<circle cx="99.85" cy="358.50" r="0.65" fill="#8a1828" />
<rect x="106.30" y="353.56" width="12.90" height="9.88" fill="#e25a5a" stroke="#5a3434" stroke-width="0.55"/>
<circle cx="112.75" cy="358.50" r="0.65" fill="#8a1828" />
<rect x="119.20" y="353.56" width="12.90" height="9.88" fill="#f29e9e" stroke="#5a3434" stroke-width="0.55"/>
<circle cx="125.65" cy="358.50" r="0.65" fill="#8a1828" />
<rect x="93.40" y="363.44" width="12.90" height="9.88" fill="#ec7e7e" stroke="#5a3434" stroke-width="0.55"/>
<circle cx="99.85" cy="368.38" r="0.65" fill="#8a1828" />
<rect x="106.30" y="363.44" width="12.90" height="9.88" fill="#ea7878" stroke="#5a3434" stroke-width="0.55"/>
<circle cx="112.75" cy="368.38" r="0.65" fill="#8a1828" />
<rect x="119.20" y="363.44" width="12.90" height="9.88" fill="#f2a2a2" stroke="#5a3434" stroke-width="0.55"/>
<circle cx="125.65" cy="368.38" r="0.65" fill="#8a1828" />
<rect x="93.40" y="373.32" width="12.90" height="9.88" fill="#e66a6a" stroke="#5a3434" stroke-width="0.55"/>
<circle cx="99.85" cy="378.26" r="0.65" fill="#8a1828" />
<rect x="106.30" y="373.32" width="12.90" height="9.88" fill="#f6c6c6" stroke="#5a3434" stroke-width="0.55"/>
<circle cx="112.75" cy="378.26" r="0.65" fill="#8a1828" />
<rect x="119.20" y="373.32" width="12.90" height="9.88" fill="#f3a6a6" stroke="#5a3434" stroke-width="0.55"/>
<circle cx="125.65" cy="378.26" r="0.65" fill="#8a1828" />
<rect x="93.40" y="383.20" width="12.90" height="9.88" fill="#e97070" stroke="#5a3434" stroke-width="0.55"/>
<circle cx="99.85" cy="388.14" r="0.65" fill="#8a1828" />
<rect x="106.30" y="383.20" width="12.90" height="9.88" fill="#ffffff" stroke="#5a3434" stroke-width="0.55"/>
<rect x="119.20" y="383.20" width="12.90" height="9.88" fill="#f5b0b0" stroke="#5a3434" stroke-width="0.55"/>
<circle cx="125.65" cy="388.14" r="0.65" fill="#8a1828" />
<text x="90.40" y="338.10" font-size="4.6" text-anchor="end" textLength="43.10" lengthAdjust="spacingAndGlyphs" fill="#333" >TAKEDA TARGETS OF</text>
<text x="90.40" y="342.80" font-size="4.6" text-anchor="end" textLength="62.30" lengthAdjust="spacingAndGlyphs" fill="#333" >NUP98 HOXA9 FUSION 10D DN</text>
<text x="90.40" y="347.98" font-size="4.6" text-anchor="end" textLength="36.90" lengthAdjust="spacingAndGlyphs" fill="#333" >HESS TARGETS OF</text>
<text x="90.40" y="352.68" font-size="4.6" text-anchor="end" textLength="48.50" lengthAdjust="spacingAndGlyphs" fill="#333" >HOXA9 AND MEIS1 DN</text>
<text x="90.40" y="357.86" font-size="4.6" text-anchor="end" textLength="43.10" lengthAdjust="spacingAndGlyphs" fill="#333" >TAKEDA TARGETS OF</text>
<text x="90.40" y="362.56" font-size="4.6" text-anchor="end" textLength="60.00" lengthAdjust="spacingAndGlyphs" fill="#333" >NUP98 HOXA9 FUSION 8D DN</text>
<text x="90.40" y="367.74" font-size="4.6" text-anchor="end" textLength="49.60" lengthAdjust="spacingAndGlyphs" fill="#333" >NAKAYAMA SOFT TISSUE</text>
<text x="90.40" y="372.44" font-size="4.6" text-anchor="end" textLength="35.80" lengthAdjust="spacingAndGlyphs" fill="#333" >TUMORS PCA1 UP</text>
<text x="90.40" y="377.62" font-size="4.6" text-anchor="end" textLength="56.10" lengthAdjust="spacingAndGlyphs" fill="#333" >JAATINEN HEMATOPOIETIC</text>
<text x="90.40" y="382.32" font-size="4.6" text-anchor="end" textLength="29.30" lengthAdjust="spacingAndGlyphs" fill="#333" >STEM CELL DN</text>
<text x="90.40" y="389.80" font-size="4.6" text-anchor="end" textLength="48.50" lengthAdjust="spacingAndGlyphs" fill="#333" >HECKER IFNB1 TARGETS</text>
<text x="113.00" y="402.73" font-size="6.2" text-anchor="middle" textLength="27.90" lengthAdjust="spacingAndGlyphs" fill="#333" >-log10 FDR</text>
<text x="87.40" y="407.89" font-size="4.7" text-anchor="end" textLength="43.20" lengthAdjust="spacingAndGlyphs" fill="#333" >GO terms for changes</text>
<text x="90.40" y="412.49" font-size="4.7" text-anchor="end" textLength="48.40" lengthAdjust="spacingAndGlyphs" fill="#333" >enriched in AAVS controls</text>
<text x="94.40" y="412.82" font-size="5.6" text-anchor="middle" fill="#333" >0</text>
<text x="103.80" y="412.82" font-size="5.6" text-anchor="middle" fill="#333" >1</text>
<line x1="103.80" y1="413.50" x2="103.80" y2="463.00" stroke="#444" stroke-width="0.6" stroke-dasharray="0.8 1.0"/>
<text x="113.20" y="412.82" font-size="5.6" text-anchor="middle" fill="#333" >2</text>
<line x1="113.20" y1="413.50" x2="113.20" y2="463.00" stroke="#444" stroke-width="0.6" stroke-dasharray="0.8 1.0"/>
<text x="122.60" y="412.82" font-size="5.6" text-anchor="middle" fill="#333" >3</text>
<line x1="122.60" y1="413.50" x2="122.60" y2="463.00" stroke="#444" stroke-width="0.6" stroke-dasharray="0.8 1.0"/>
<text x="132.00" y="412.82" font-size="5.6" text-anchor="middle" fill="#333" >4</text>
<line x1="132.00" y1="413.50" x2="132.00" y2="463.00" stroke="#444" stroke-width="0.6" stroke-dasharray="0.8 1.0"/>
<line x1="94.40" y1="414.00" x2="94.40" y2="463.00" stroke="#111" stroke-width="0.9" />
<rect x="94.80" y="415.30" width="36.26" height="4.60" fill="#1f4c86" />
<text x="90.40" y="419.12" font-size="4.5" text-anchor="end" textLength="31.60" lengthAdjust="spacingAndGlyphs" fill="#333" >response to virus</text>
<rect x="94.80" y="422.35" width="32.03" height="4.60" fill="#1f4c86" />
<text x="90.40" y="426.17" font-size="4.5" text-anchor="end" textLength="24.20" lengthAdjust="spacingAndGlyphs" fill="#333" >cell adhesion</text>
<rect x="94.80" y="429.40" width="23.29" height="4.60" fill="#1f4c86" />
<text x="90.40" y="433.22" font-size="4.5" text-anchor="end" textLength="23.10" lengthAdjust="spacingAndGlyphs" fill="#333" >angiogenesis</text>
<rect x="94.80" y="436.45" width="22.82" height="4.60" fill="#1f4c86" />
<text x="90.40" y="440.27" font-size="4.5" text-anchor="end" textLength="61.20" lengthAdjust="spacingAndGlyphs" fill="#333" >antiviral innate immune response</text>
<rect x="94.80" y="443.50" width="17.74" height="4.60" fill="#1f4c86" />
<text x="90.40" y="445.22" font-size="4.5" text-anchor="end" textLength="41.50" lengthAdjust="spacingAndGlyphs" fill="#333" >negative regulation of</text>
<text x="90.40" y="449.52" font-size="4.5" text-anchor="end" textLength="45.00" lengthAdjust="spacingAndGlyphs" fill="#333" >viral genome replication</text>
<rect x="94.80" y="450.55" width="12.48" height="4.60" fill="#1f4c86" />
<text x="90.40" y="454.37" font-size="4.5" text-anchor="end" textLength="31.60" lengthAdjust="spacingAndGlyphs" fill="#333" >defense response</text>
<rect x="94.80" y="457.60" width="11.35" height="4.60" fill="#1f4c86" />
<text x="90.40" y="459.32" font-size="4.5" text-anchor="end" textLength="39.20" lengthAdjust="spacingAndGlyphs" fill="#333" >positive regulation of</text>
<text x="90.40" y="463.62" font-size="4.5" text-anchor="end" textLength="51.50" lengthAdjust="spacingAndGlyphs" fill="#333" >endothelial cell proliferation</text>
<text x="38.30" y="474.22" font-size="5.9" textLength="92.20" lengthAdjust="spacingAndGlyphs" fill="#333" >*No GO terms for changes enriched in</text>
<text x="38.30" y="481.02" font-size="5.9" textLength="54.50" lengthAdjust="spacingAndGlyphs" fill="#333" >RB1-gRNA1 conditions</text>
<text x="170.90" y="333.37" font-size="5.2" text-anchor="middle" textLength="28.00" lengthAdjust="spacingAndGlyphs" fill="#333" >+revumenib</text>
<text x="170.80" y="339.07" font-size="5.2" text-anchor="middle" textLength="10.80" lengthAdjust="spacingAndGlyphs" fill="#333" >high</text>
<text x="235.50" y="336.32" font-size="5.6" text-anchor="middle" textLength="46.70" lengthAdjust="spacingAndGlyphs" fill="#333" >changes enriched in</text>
<text x="237.00" y="343.22" font-size="5.6" text-anchor="middle" textLength="57.40" lengthAdjust="spacingAndGlyphs" fill="#333" ><tspan font-style="italic">RB1</tspan>-gRNA1 (161 genes)</text>
<text x="164.60" y="393.50" font-size="8.6" text-anchor="middle" textLength="76.00" lengthAdjust="spacingAndGlyphs" fill="#333" transform="rotate(-90 164.60 390.40)" >Fold change in <tspan font-style="italic">RB1_gRNA_1</tspan></text>
<text x="236.10" y="463.60" font-size="8.6" text-anchor="middle" textLength="74.50" lengthAdjust="spacingAndGlyphs" fill="#333" >Fold change in AAVS controls</text>
<text x="174.70" y="445.27" font-size="5.2" text-anchor="middle" textLength="19.70" lengthAdjust="spacingAndGlyphs" fill="#333" >+DMSO</text>
<text x="175.00" y="451.87" font-size="5.2" text-anchor="middle" textLength="10.00" lengthAdjust="spacingAndGlyphs" fill="#333" >high</text>
<text x="303.10" y="446.27" font-size="5.2" text-anchor="middle" textLength="28.30" lengthAdjust="spacingAndGlyphs" fill="#333" >+revumenib</text>
<text x="303.10" y="451.47" font-size="5.2" text-anchor="middle" textLength="9.70" lengthAdjust="spacingAndGlyphs" fill="#333" >high</text>
<line x1="187.70" y1="425.80" x2="266.60" y2="346.40" stroke="#000" stroke-width="1.15" stroke-dasharray="0.01 2.2" stroke-linecap="round"/>
<line x1="192.30" y1="437.70" x2="284.80" y2="346.40" stroke="#000" stroke-width="1.15" stroke-dasharray="0.01 2.2" stroke-linecap="round"/>
<path d="M225.2 404.2h0M242.8 390.7h0M222.9 403.1h0M241.7 397.4h0M229.7 409.4h0M240.4 392.4h0M249.2 390.0h0M233.3 396.4h0M253.8 379.3h0M232.2 405.8h0M234.2 394.4h0M230.4 396.8h0M238.2 396.4h0M242.2 388.3h0M222.4 409.7h0M222.7 404.3h0M221.5 403.7h0M227.8 400.4h0M258.3 373.2h0M245.6 396.4h0M233.7 399.8h0M233.8 396.9h0M238.4 399.3h0M241.0 395.2h0M249.5 385.1h0M238.0 389.8h0M242.9 391.5h0M241.0 388.5h0M245.4 389.6h0M237.6 397.8h0M240.9 391.9h0M247.1 385.8h0M239.4 393.5h0M235.9 393.6h0M237.0 396.4h0M226.9 403.0h0M244.6 399.1h0M245.3 394.0h0M242.1 393.2h0M237.9 397.4h0M247.9 384.7h0M236.9 409.9h0M239.3 398.2h0M244.9 395.1h0M260.0 388.7h0M237.7 397.4h0M238.0 398.4h0M233.7 397.1h0M244.7 391.1h0M239.7 401.6h0M230.7 403.6h0M242.7 388.7h0M223.4 410.9h0M237.1 395.7h0M249.5 390.0h0M235.9 397.9h0M243.0 408.8h0M250.1 402.3h0M244.9 393.0h0M230.7 398.1h0M254.8 381.7h0M241.1 402.4h0M241.1 405.4h0M229.8 401.3h0M245.1 397.7h0M239.2 391.7h0M222.2 410.0h0M230.6 401.2h0M238.9 392.3h0M239.2 389.6h0M230.8 397.0h0M240.2 396.4h0M230.2 398.6h0M230.0 412.2h0M244.7 385.9h0M235.0 404.4h0M235.0 394.3h0M250.7 381.6h0M238.6 413.2h0M244.5 386.2h0M221.3 405.6h0M237.2 424.5h0M244.1 390.3h0M241.7 407.6h0M239.3 403.9h0M247.6 402.6h0M231.7 407.0h0M251.0 390.4h0M225.2 409.1h0M244.0 394.4h0M230.8 402.6h0M226.9 405.7h0M245.7 390.1h0M248.9 381.5h0M236.4 400.7h0M238.1 402.5h0M222.5 409.6h0M247.8 389.7h0M244.2 387.1h0M227.7 399.3h0M235.2 403.0h0M226.9 413.6h0M233.4 395.1h0M236.0 405.4h0M236.9 396.4h0M246.0 391.1h0M221.3 411.2h0M233.8 406.1h0M240.2 397.8h0M248.6 401.2h0M241.5 393.4h0M229.1 401.5h0M242.9 394.3h0M248.5 397.2h0M239.7 411.6h0M234.9 398.3h0M228.1 400.5h0M239.4 398.5h0M230.5 404.2h0M235.4 409.2h0M241.7 387.9h0M235.0 393.4h0M235.3 394.1h0M236.2 403.5h0M235.8 407.8h0M237.2 391.1h0M231.4 395.9h0M238.6 395.6h0M235.4 394.3h0M230.8 403.5h0M230.2 406.7h0M250.9 402.0h0M233.7 399.4h0M228.5 398.7h0M241.8 387.4h0M234.6 398.6h0M236.2 400.3h0M235.3 403.3h0M228.4 408.7h0M227.4 409.4h0M236.6 393.3h0M247.1 388.6h0M242.4 393.9h0M228.4 413.1h0M230.0 405.4h0M248.6 392.9h0M242.6 389.6h0M232.4 399.9h0M239.0 406.7h0M231.0 407.7h0M246.6 403.0h0M255.3 378.6h0M221.5 407.6h0M235.1 411.6h0M240.6 394.7h0M242.5 391.2h0M222.9 407.7h0M231.0 395.8h0M235.4 395.3h0M237.0 396.3h0M233.2 408.7h0M237.6 394.4h0M221.3 405.4h0M245.2 396.3h0M243.0 389.4h0M236.5 392.4h0M240.2 399.7h0M237.2 405.8h0M231.3 404.6h0M243.3 395.7h0M234.3 401.8h0M250.6 396.6h0M245.7 401.8h0M243.1 387.9h0M229.6 399.7h0M225.2 403.1h0M232.0 396.2h0M242.9 387.9h0M226.6 409.6h0M226.7 403.6h0M233.4 397.0h0M226.3 402.1h0M252.4 383.6h0M237.1 401.5h0M242.1 393.8h0M248.8 399.9h0M226.7 400.5h0M242.8 398.4h0M237.5 392.5h0M234.1 395.1h0M237.9 396.5h0M234.1 401.0h0M231.5 406.0h0M247.3 391.6h0M243.3 393.5h0M235.9 398.0h0M225.7 402.1h0M230.6 403.1h0M228.8 398.5h0M242.3 399.4h0M231.2 404.7h0M244.3 395.3h0M239.0 394.5h0M240.7 405.3h0M240.6 392.5h0M235.9 411.9h0M255.1 409.8h0M237.6 393.6h0M241.3 402.7h0M234.7 396.9h0M241.1 396.1h0M236.2 396.2h0M227.4 407.2h0M238.2 390.3h0M235.5 411.5h0M236.9 391.6h0M220.1 405.4h0M221.2 404.1h0M235.6 395.3h0M235.2 393.8h0M225.9 403.7h0M230.0 398.8h0M237.8 396.0h0M257.7 398.4h0M236.8 392.7h0M254.7 384.9h0M222.0 407.1h0M233.6 403.2h0M225.2 401.6h0M232.2 395.6h0M237.1 408.5h0M241.1 397.0h0M237.1 400.5h0M237.0 396.1h0M231.5 395.4h0M248.9 391.6h0M237.7 408.7h0M231.0 402.9h0M228.7 404.3h0M247.5 383.8h0M242.5 407.5h0M240.6 404.5h0M240.4 397.0h0M251.3 390.8h0M236.0 407.1h0M238.4 399.4h0M234.1 396.8h0M232.6 403.5h0M240.2 388.5h0M231.0 406.1h0M246.3 406.2h0M233.0 401.6h0M232.7 405.0h0M226.3 401.6h0M243.7 385.0h0M236.6 406.7h0M234.5 393.0h0M228.6 408.3h0M237.3 400.3h0M238.5 391.3h0M231.8 398.1h0M243.1 406.7h0M225.9 403.6h0M243.7 387.6h0M243.9 385.3h0M235.7 395.4h0M226.9 408.6h0M252.8 383.7h0M242.0 395.8h0M242.0 396.4h0M231.8 397.2h0M242.0 389.9h0M223.6 404.0h0M231.5 401.2h0M232.3 404.9h0M237.7 405.2h0M233.2 395.4h0M234.2 395.8h0M246.6 396.2h0M226.7 412.6h0M234.3 396.0h0M251.9 379.7h0M252.3 387.2h0M227.2 403.6h0M239.0 390.2h0M216.6 411.1h0M236.6 401.8h0M247.9 383.8h0M231.2 398.4h0M230.5 403.7h0M235.0 395.4h0M229.3 398.0h0M224.6 406.1h0M228.0 400.2h0M228.3 403.0h0M240.2 399.8h0M251.8 378.5h0M235.7 398.9h0M251.6 391.9h0M241.6 400.1h0M231.9 401.0h0M234.5 404.3h0M227.4 406.2h0M236.0 397.8h0M246.3 410.1h0M251.3 388.7h0M235.8 392.5h0M236.7 401.1h0M231.8 398.2h0M230.4 397.2h0M246.3 390.4h0M224.6 405.3h0M230.6 404.0h0M238.8 397.8h0M241.5 405.5h0M237.3 392.6h0M242.9 398.4h0M236.7 397.6h0M229.2 400.6h0M239.8 397.0h0M231.6 419.4h0M233.8 404.3h0M243.2 407.5h0M228.2 402.1h0M251.2 390.1h0M236.5 393.0h0M226.8 403.6h0M233.9 400.8h0M235.1 396.0h0M242.2 400.3h0M240.4 391.8h0M238.2 404.5h0M234.5 398.0h0M231.1 407.9h0M232.0 398.5h0M236.3 403.5h0M254.2 387.6h0M242.5 391.5h0M238.8 397.0h0M234.0 402.1h0M251.7 386.5h0M237.4 399.6h0M231.3 402.3h0M229.6 402.7h0M241.9 398.3h0M241.3 398.7h0M243.1 396.2h0M245.8 398.0h0M240.0 393.5h0M242.7 387.5h0M224.9 404.2h0M245.1 386.8h0M235.3 395.4h0M222.3 408.0h0M236.5 393.1h0M241.7 407.6h0M245.6 390.5h0M246.9 395.1h0M232.3 400.5h0M243.2 401.8h0M220.9 406.3h0M230.0 402.0h0M245.4 386.5h0M223.5 402.4h0M238.0 404.9h0M242.1 391.5h0M244.3 397.3h0M248.1 395.4h0M249.6 397.8h0M245.1 387.5h0M222.0 405.5h0M240.1 397.7h0M230.3 398.9h0M246.2 412.9h0M231.5 399.4h0M239.9 398.1h0M239.8 413.3h0M240.4 390.8h0M245.7 392.7h0M236.5 397.1h0M242.6 390.0h0M223.6 412.7h0M236.9 391.8h0M238.0 396.1h0M241.5 402.3h0M230.2 400.3h0M238.8 396.4h0M246.0 397.7h0M234.7 404.0h0M241.4 397.2h0M241.8 407.0h0M241.0 391.8h0M217.9 413.8h0M227.7 399.1h0M254.0 383.6h0M239.7 397.5h0M224.7 403.0h0M243.7 414.5h0M232.6 400.3h0M241.8 387.4h0M229.5 409.5h0M236.8 403.8h0M237.6 394.9h0M233.5 400.4h0M243.3 394.0h0M228.5 421.2h0M237.7 402.1h0M247.1 395.7h0M247.0 382.3h0M248.2 396.2h0M239.9 392.0h0M234.2 397.3h0M224.9 402.2h0M244.3 388.1h0M240.0 394.6h0M239.6 398.3h0M236.7 393.0h0M238.1 395.6h0M225.3 403.6h0M248.3 396.6h0M234.1 400.9h0M240.5 391.6h0M222.4 406.0h0M231.0 407.2h0M241.8 392.7h0M216.3 414.1h0M244.3 397.0h0M240.5 388.4h0M234.8 399.5h0M227.0 403.2h0M257.4 375.5h0M237.5 396.6h0M230.7 401.3h0M230.2 404.9h0M234.9 400.9h0M228.4 406.9h0M235.8 398.2h0M236.2 400.0h0M244.1 388.9h0M235.9 400.2h0M236.2 395.1h0M236.6 394.3h0M234.3 406.7h0M240.5 396.7h0M243.6 396.3h0M239.2 392.5h0M237.0 394.8h0M231.3 397.5h0M242.3 391.1h0M222.2 404.0h0M243.1 403.5h0M230.4 401.9h0M232.0 395.7h0M227.5 407.5h0M247.2 384.1h0M232.7 405.5h0M240.1 389.1h0M232.5 406.3h0M241.5 392.7h0M219.8 406.1h0M243.4 397.2h0M246.8 396.4h0M244.1 391.7h0M231.9 404.1h0M246.3 394.9h0M242.4 387.0h0M238.6 407.5h0M249.7 402.2h0M231.5 399.9h0M239.5 392.2h0M225.7 407.1h0M234.1 412.9h0M231.4 403.7h0M256.6 392.7h0M251.5 394.4h0M225.0 404.1h0M228.6 400.5h0M260.9 387.0h0M243.0 397.7h0M249.3 393.0h0M238.8 409.4h0M239.6 401.2h0M237.8 395.4h0M230.4 397.3h0M238.1 390.9h0M251.8 380.1h0M232.6 401.3h0M233.7 407.4h0M229.6 405.7h0M234.0 394.8h0M240.6 398.1h0M241.2 394.7h0M229.7 399.3h0M227.3 399.7h0M228.3 401.6h0M232.5 396.5h0M233.1 398.7h0M244.4 387.7h0M225.9 401.8h0M229.6 407.3h0M241.4 403.2h0M209.5 416.5h0M248.7 397.1h0M228.7 403.3h0M221.7 412.0h0M224.5 403.1h0M222.0 412.0h0M233.1 396.8h0M240.5 408.5h0M238.0 402.9h0M236.9 399.0h0M231.3 397.4h0M242.4 393.6h0M225.1 400.7h0M246.3 387.6h0M227.7 399.6h0M234.6 401.8h0M234.8 396.1h0M256.3 387.9h0M233.3 410.6h0M224.7 409.3h0M242.9 401.7h0M221.9 411.9h0M248.8 390.8h0M243.7 393.5h0M233.0 394.0h0M237.1 398.8h0M233.0 397.1h0M249.3 391.3h0M229.7 402.2h0M231.5 396.8h0M250.8 383.1h0M234.8 403.2h0M257.4 384.4h0M228.2 399.2h0M238.3 410.7h0M238.7 393.1h0M240.3 395.6h0M228.6 398.7h0M261.9 391.8h0M242.5 399.2h0M247.7 400.5h0M236.9 392.1h0M235.9 399.9h0M251.0 390.5h0M234.3 398.0h0M237.4 412.0h0M230.5 397.4h0M237.9 398.1h0M234.6 398.9h0M238.3 396.0h0M233.2 408.7h0M230.0 406.8h0M244.7 392.9h0M237.6 398.3h0M246.1 389.4h0M237.7 403.8h0M258.6 387.5h0M226.2 404.1h0M230.7 396.4h0M230.0 401.2h0M241.4 404.6h0M240.2 392.1h0M236.6 398.3h0M237.0 402.8h0M248.6 400.1h0M234.8 392.6h0M222.3 406.9h0M226.9 414.0h0M227.9 398.2h0M224.8 405.7h0M231.1 406.7h0M240.3 399.4h0M218.3 407.0h0M234.4 403.7h0M238.2 391.5h0M236.4 396.9h0M230.6 400.5h0M223.5 408.1h0M244.1 401.5h0M239.1 400.2h0M240.8 400.1h0M230.7 395.9h0M227.2 407.7h0M223.1 411.0h0M237.1 395.6h0M242.3 387.5h0M227.2 403.0h0M240.2 405.4h0M252.4 387.1h0M226.6 404.5h0M237.6 397.0h0M240.1 394.8h0M240.3 390.1h0M230.0 404.7h0M238.2 402.6h0M249.5 389.7h0M238.8 395.7h0M245.3 396.3h0M246.7 397.5h0M241.9 390.3h0M231.8 400.2h0M235.2 392.6h0M220.3 405.7h0M237.2 390.9h0M222.8 407.0h0M239.1 390.6h0M237.7 393.5h0M230.2 401.4h0M230.9 397.5h0M261.1 377.3h0M241.6 402.6h0M237.1 397.9h0M228.5 400.1h0M218.2 411.9h0M231.5 401.9h0M244.0 386.3h0M241.5 389.3h0M232.5 397.1h0M232.4 407.0h0M244.3 394.3h0M242.7 393.0h0M227.0 410.7h0M228.7 409.2h0M238.6 398.1h0M242.2 397.5h0M238.2 395.3h0M239.9 398.9h0M234.6 402.5h0M244.6 384.9h0M238.6 394.3h0M231.8 397.5h0M234.4 401.5h0M233.4 395.5h0M238.6 396.2h0M226.0 413.7h0M235.2 399.7h0M232.0 399.1h0M241.2 390.7h0M241.7 402.3h0M234.6 393.7h0M233.7 402.0h0M251.5 388.6h0M234.1 408.0h0M230.4 396.6h0M230.5 400.5h0M237.7 391.5h0M231.8 396.4h0M234.4 402.3h0M229.5 398.4h0M234.8 399.8h0M238.1 404.1h0M238.5 394.7h0M237.9 405.0h0M229.1 402.6h0M239.0 394.2h0M235.2 400.8h0M234.6 395.4h0M244.5 386.5h0M223.5 409.1h0M239.7 389.6h0M234.0 412.4h0M242.4 400.7h0M233.6 414.6h0M239.1 394.1h0M232.1 397.9h0M228.0 402.5h0M241.5 390.4h0M233.5 403.7h0M234.7 398.2h0M228.8 403.9h0M244.6 396.8h0M235.1 396.5h0M232.6 402.9h0M243.8 395.4h0M235.7 403.6h0M233.2 395.8h0M230.0 402.4h0M241.8 390.4h0M243.1 389.4h0M228.1 403.7h0M233.4 400.3h0M240.4 389.1h0M244.4 392.4h0M239.0 403.4h0M241.1 397.3h0M226.4 415.6h0M231.0 405.4h0M248.0 387.3h0M230.1 406.2h0M228.7 403.0h0M239.3 406.8h0M241.5 393.5h0M235.3 393.5h0M243.1 394.3h0M234.4 401.4h0M237.5 391.0h0M237.9 396.4h0M233.6 400.0h0M242.4 386.2h0M230.5 400.5h0M221.9 403.8h0M224.5 405.2h0M222.7 409.5h0M240.4 389.5h0M231.9 411.7h0M235.1 406.5h0M235.7 405.7h0M248.7 384.9h0M244.2 396.1h0M223.3 402.9h0M231.4 401.2h0M238.6 401.3h0M236.9 398.1h0M233.3 399.2h0M229.0 397.8h0M236.1 392.8h0M246.8 391.5h0M242.6 392.9h0M239.4 399.7h0M249.0 397.3h0M235.7 394.1h0M238.3 401.2h0M239.6 397.8h0M235.1 399.5h0M235.5 400.4h0M233.3 408.0h0M248.2 396.6h0M227.5 402.8h0M236.4 404.3h0M247.0 397.6h0M241.3 393.7h0M233.1 400.1h0M234.0 394.6h0M223.0 414.3h0M237.3 391.4h0M234.3 402.3h0M231.1 402.8h0M259.6 383.6h0M246.6 387.2h0M235.4 393.9h0M237.6 405.6h0M236.7 391.0h0M232.9 396.1h0M225.7 403.0h0M231.1 401.6h0M246.1 400.8h0M235.8 401.1h0M228.7 408.9h0M240.9 388.5h0M235.1 403.7h0M236.7 396.1h0M236.4 395.2h0M239.6 391.5h0M229.1 397.6h0M232.9 395.8h0M229.9 398.7h0M231.2 401.1h0M239.5 399.7h0M231.6 400.8h0M236.0 392.6h0M240.5 392.9h0M238.5 392.3h0M208.4 418.1h0M246.6 401.4h0M225.4 401.4h0M240.0 397.3h0M244.0 389.2h0M232.5 405.8h0M240.9 410.1h0M260.6 394.4h0M222.3 409.4h0M235.0 398.3h0M237.8 390.9h0M236.3 393.9h0M230.9 408.4h0M234.7 403.4h0M238.2 390.0h0M234.0 393.5h0M220.5 407.5h0M243.6 400.5h0M226.8 409.7h0M246.2 397.7h0M236.5 391.5h0M241.6 389.8h0M234.7 399.7h0M234.7 393.7h0M229.5 400.2h0M230.1 402.5h0M232.4 409.4h0M230.7 406.4h0M232.1 401.0h0M240.7 392.3h0M240.9 392.3h0M235.8 398.4h0M238.4 401.7h0M233.4 399.1h0M237.8 393.3h0M232.1 403.1h0M242.1 387.0h0M229.6 401.7h0M217.1 412.9h0M246.7 401.8h0M234.5 407.5h0M259.4 390.1h0M220.2 415.4h0M239.1 398.7h0M234.3 398.7h0M238.2 404.1h0M240.5 390.5h0M239.8 396.7h0M237.3 390.8h0M231.3 402.5h0M232.1 400.0h0M227.5 412.2h0M244.8 394.9h0M223.0 402.7h0M249.8 392.1h0M234.6 402.7h0M233.0 402.7h0M230.9 400.4h0M228.4 405.4h0M230.9 396.0h0M230.7 403.5h0M227.8 405.6h0M237.9 392.2h0M212.1 417.5h0M236.4 399.6h0M245.3 413.1h0M225.8 411.4h0M259.5 393.0h0M227.4 399.1h0M244.6 396.2h0M249.5 387.1h0M241.0 398.5h0M235.6 391.9h0M246.6 393.8h0M241.4 404.7h0M225.3 403.8h0M238.5 394.2h0M237.5 404.0h0M244.2 390.1h0M240.3 398.9h0M242.1 403.9h0M247.3 395.2h0M220.1 411.3h0M236.7 396.3h0M232.1 398.1h0M240.6 389.6h0M249.2 394.3h0M238.4 393.6h0M227.4 410.9h0M227.5 412.8h0M259.5 384.5h0M242.2 399.5h0M247.0 393.3h0M243.2 399.1h0M231.9 395.6h0M232.7 401.4h0M231.3 401.1h0M227.8 407.4h0M236.7 395.5h0M234.8 402.7h0M237.1 394.1h0M244.9 388.8h0M232.1 399.8h0M244.7 384.6h0M236.7 400.1h0M234.4 402.1h0M244.7 395.1h0M224.2 409.6h0M228.5 403.6h0M215.0 410.0h0M232.1 407.3h0M240.0 400.9h0M238.9 408.4h0M238.5 408.0h0M233.8 403.0h0M241.6 390.7h0M238.8 402.3h0M230.7 397.1h0M229.2 401.0h0M219.4 414.3h0M236.8 405.4h0M233.2 400.2h0M230.6 398.7h0M239.6 393.0h0M228.7 401.9h0M247.6 398.9h0M227.9 404.9h0M252.0 390.2h0M241.4 391.9h0M229.6 408.0h0M233.2 401.7h0M254.8 390.0h0M244.5 386.4h0M226.5 401.2h0M227.2 400.7h0M233.5 405.3h0M255.8 379.8h0M240.6 388.0h0M244.2 397.1h0M240.7 420.0h0M242.7 390.2h0M227.7 406.7h0M251.7 407.3h0M239.1 398.0h0M241.3 394.7h0M234.6 396.7h0M244.3 396.7h0M229.3 408.4h0M241.3 404.9h0M239.4 405.4h0M242.7 393.3h0M248.8 382.6h0M251.6 385.5h0M240.5 389.1h0M224.9 403.5h0M248.6 392.0h0M235.3 403.1h0M244.2 393.5h0M236.5 394.1h0M226.7 399.9h0M237.3 397.6h0M231.4 397.0h0M239.6 398.9h0M226.7 403.1h0M236.7 394.6h0M237.6 394.7h0M243.0 387.8h0M227.7 405.9h0M255.1 394.5h0M232.2 395.4h0M248.1 396.2h0M239.1 404.2h0M242.9 395.7h0M236.8 391.6h0M238.4 413.6h0M230.8 410.7h0M241.8 389.5h0M239.8 391.9h0M252.8 391.5h0M233.4 403.6h0M232.0 411.7h0M244.2 388.8h0M216.2 408.2h0M230.2 401.4h0M236.1 398.9h0M231.0 403.3h0M226.3 401.0h0M227.4 403.2h0M249.4 385.9h0M243.7 389.6h0M226.8 402.1h0M235.5 396.3h0M231.2 401.7h0M227.6 399.2h0M238.3 400.8h0M240.8 388.0h0M233.8 393.6h0M223.3 415.9h0M230.7 405.7h0M231.3 401.4h0M228.9 405.7h0M234.4 403.4h0M220.8 405.9h0M236.6 392.3h0M236.5 398.8h0M239.9 398.1h0M241.5 394.5h0M237.3 404.8h0M258.8 386.7h0M239.8 395.8h0M235.1 408.8h0M242.1 400.0h0M247.8 387.4h0M245.0 388.0h0M219.7 412.3h0M232.5 396.0h0M247.7 388.2h0M232.3 395.1h0M237.1 400.7h0M235.8 417.0h0M236.3 393.1h0M239.5 398.9h0M237.5 399.7h0M226.6 402.7h0M240.6 393.4h0M234.3 396.6h0M249.7 392.3h0M233.2 404.5h0M237.2 393.6h0M236.9 413.3h0M220.7 412.5h0M239.5 398.3h0M220.6 408.6h0M250.7 393.0h0M231.1 396.0h0M227.9 402.2h0M234.5 412.7h0M221.3 404.4h0M228.0 409.1h0M247.6 391.6h0M243.4 396.5h0M239.1 397.5h0M240.2 395.7h0M228.1 404.5h0M229.2 405.4h0M240.5 395.4h0M227.9 403.8h0M240.1 389.1h0M234.3 399.7h0M239.7 404.2h0M229.2 400.6h0M249.4 387.4h0M229.3 407.9h0M225.8 405.6h0M218.1 416.2h0M242.7 391.6h0M227.5 399.2h0M235.1 396.8h0M236.3 409.0h0M246.0 386.4h0M226.5 404.6h0M233.0 398.9h0M247.7 386.7h0M236.0 395.6h0M237.2 397.2h0M241.4 398.4h0M231.3 398.6h0M240.0 400.9h0M253.2 390.1h0M234.3 401.5h0M246.7 387.2h0M238.1 408.4h0M235.6 399.4h0M233.7 395.3h0M227.9 400.0h0M234.7 399.7h0M242.8 394.0h0M235.8 399.6h0M236.8 402.3h0M238.0 393.9h0M249.6 394.9h0M229.2 405.0h0M237.7 402.1h0M232.7 412.8h0M237.4 397.8h0M253.5 384.5h0M230.4 409.2h0M238.9 399.7h0M229.9 408.1h0M243.3 389.4h0M228.1 401.8h0M246.6 406.4h0M254.1 391.1h0M232.7 397.4h0M236.9 393.3h0M230.2 398.3h0M239.6 389.0h0M235.9 394.1h0M232.9 397.3h0M243.7 387.3h0M245.1 385.4h0M247.7 395.2h0M230.0 397.0h0M228.4 398.8h0M226.4 401.0h0M227.7 398.5h0M235.3 401.8h0M229.8 397.0h0M223.5 403.0h0M243.5 387.3h0M240.1 394.2h0M233.1 407.0h0M257.1 383.8h0M252.7 384.3h0M252.8 395.1h0M242.3 387.6h0M226.9 407.1h0M229.1 406.1h0M236.6 392.7h0M215.0 412.1h0M236.9 391.7h0M254.7 393.8h0M234.9 392.8h0M244.8 397.2h0M223.5 403.5h0M242.1 404.1h0M235.6 391.8h0M251.1 404.4h0M240.9 396.0h0M233.0 401.8h0M246.6 384.1h0M238.3 402.4h0M226.6 400.8h0M233.6 403.0h0M244.2 404.7h0M237.2 395.5h0M238.1 400.9h0M238.4 398.0h0M240.6 401.8h0M238.0 401.7h0M242.1 406.3h0M238.2 396.1h0M234.7 400.9h0M238.2 404.1h0M241.0 399.1h0M248.1 389.2h0M236.3 398.0h0M220.3 419.8h0M231.1 402.2h0M260.4 386.9h0M231.3 398.8h0M244.2 401.1h0M232.9 408.8h0M230.9 401.3h0M226.6 408.2h0M220.1 407.5h0M242.2 387.2h0M231.9 397.3h0M237.8 392.7h0M246.6 401.9h0M252.7 383.0h0M232.4 413.4h0M246.3 394.9h0M238.5 391.5h0M245.8 394.3h0M247.1 392.7h0M242.4 389.4h0M231.8 398.5h0M241.4 409.8h0M238.5 392.1h0M232.6 396.8h0M233.9 399.0h0M243.6 393.4h0M224.7 404.1h0M239.4 400.6h0M236.4 392.4h0M235.2 396.0h0M235.6 407.2h0M243.4 390.5h0M240.1 395.5h0M228.6 401.1h0M250.7 404.5h0M224.3 404.6h0M242.1 395.4h0M250.2 401.4h0M234.6 392.9h0M238.2 399.5h0" stroke="#3a2ea6" stroke-width="1.0" stroke-linecap="round" fill="none"/>
<path d="M229.0 386.5h0M228.9 383.6h0M225.4 389.4h0M225.6 385.6h0M215.3 398.4h0M220.9 393.4h0M231.1 385.0h0M230.3 385.4h0M219.7 393.2h0M215.5 397.6h0M221.7 391.0h0M231.1 383.1h0M217.1 395.4h0M219.0 394.7h0M229.2 385.9h0M236.8 378.5h0M227.9 386.9h0M205.2 406.4h0M223.6 390.0h0M223.6 389.7h0M221.5 392.5h0M230.3 385.1h0M232.9 381.5h0M219.0 392.8h0M209.7 403.0h0M218.5 395.5h0M233.4 383.2h0M222.7 389.1h0M219.2 393.2h0M231.4 383.4h0M215.3 398.0h0M230.6 385.2h0M222.4 392.1h0M226.1 387.7h0M229.4 382.9h0M222.4 387.4h0M218.0 396.0h0M208.7 402.0h0M217.3 396.5h0M219.8 390.2h0M219.0 395.3h0M226.1 387.7h0M229.8 382.6h0M240.2 376.8h0M218.5 391.8h0M220.3 390.1h0M226.0 388.0h0M226.7 387.0h0M223.3 386.4h0M233.3 382.9h0M216.9 393.6h0M212.0 397.8h0M233.7 381.6h0M234.0 381.3h0M238.4 374.8h0M228.7 385.7h0M227.8 384.5h0M223.0 385.1h0M222.3 391.6h0M224.6 389.8h0M231.8 381.6h0M226.1 384.7h0M209.2 401.2h0M219.1 393.1h0M219.8 393.2h0M229.3 386.5h0M225.9 387.8h0M216.9 393.7h0M221.2 390.8h0M222.2 390.8h0M227.6 384.9h0M216.3 392.3h0M215.3 393.6h0M229.7 385.3h0M234.0 381.7h0M236.4 379.7h0M221.7 391.4h0M217.2 396.4h0M238.2 378.1h0M217.4 396.0h0M224.3 389.1h0M226.7 385.9h0M224.6 388.5h0M227.2 388.1h0M219.0 393.0h0M234.1 381.5h0M218.7 394.3h0M224.7 387.8h0M228.6 386.9h0M215.0 397.2h0M224.5 387.7h0M212.9 396.1h0M229.1 385.8h0M201.3 408.0h0M220.8 393.5h0M225.2 389.3h0M229.2 384.3h0M221.9 389.1h0M223.4 389.5h0M224.7 387.1h0M222.0 390.3h0M222.1 392.2h0M207.9 403.7h0M226.8 388.2h0M229.8 385.4h0M221.6 390.7h0M229.5 384.7h0M214.3 397.5h0M216.2 395.7h0M219.9 391.6h0M235.2 380.6h0M226.6 388.3h0M224.0 391.0h0M231.0 384.2h0M222.0 392.5h0M237.6 378.4h0M216.0 397.5h0M214.3 393.0h0M228.9 385.6h0M225.5 385.2h0M218.2 395.8h0M212.3 398.0h0M222.7 388.0h0M222.1 390.2h0M219.5 393.0h0M219.3 394.5h0M219.4 393.2h0M219.5 391.0h0M217.4 395.8h0M230.0 384.3h0M213.1 396.7h0M237.0 379.6h0M215.9 395.8h0M224.0 389.1h0M219.8 389.0h0M218.2 393.1h0M215.4 396.9h0M225.1 386.2h0M205.8 404.7h0M217.9 393.1h0M232.3 383.9h0M225.0 388.5h0M221.1 392.4h0M205.5 402.1h0M227.9 382.9h0M233.2 382.2h0M229.0 382.8h0M217.2 394.8h0M220.7 390.0h0M223.6 388.3h0M223.4 387.9h0M216.8 396.1h0M229.0 386.8h0M225.5 387.8h0M220.0 388.7h0M222.5 389.4h0M217.1 396.4h0M228.7 384.3h0M232.2 382.0h0M220.2 390.1h0M221.6 392.4h0M218.5 394.1h0M203.8 406.7h0M208.6 401.5h0M216.8 394.0h0M230.1 385.1h0M219.9 391.2h0M227.5 386.1h0M223.3 389.5h0M223.8 391.2h0M215.3 392.6h0M233.7 375.9h0M239.3 371.7h0M209.3 397.4h0M225.2 379.3h0M225.1 379.8h0M221.7 383.0h0M235.9 376.3h0M232.2 378.0h0M206.1 396.0h0M219.4 383.5h0M216.6 391.0h0M215.8 389.9h0M223.5 380.5h0M210.1 390.4h0M219.1 388.8h0M227.0 382.9h0M234.2 370.4h0M218.3 387.9h0M230.5 374.6h0" stroke="#c42020" stroke-width="1.0" stroke-linecap="round" fill="none"/>
<ellipse cx="225" cy="384" rx="7" ry="1.8" transform="rotate(-40 225 384)" fill="#d04030" opacity="0.45" filter="url(#bl)"/>
<path d="M241.4 385.3h0M232.1 386.9h0M230.4 394.2h0M244.1 385.5h0M229.7 388.5h0M229.0 386.6h0M240.4 381.5h0M242.0 379.0h0M221.9 400.1h0M232.0 389.6h0M213.4 396.9h0M221.0 404.0h0M233.3 388.5h0M241.3 381.7h0M231.7 387.7h0M227.5 399.3h0M225.0 392.2h0M225.8 390.5h0M224.8 393.4h0M228.9 389.6h0M230.1 391.2h0M224.5 391.7h0M229.1 390.7h0M236.9 389.7h0M224.3 396.9h0M241.9 386.2h0M224.8 400.3h0M229.6 396.6h0M223.3 395.5h0M222.4 398.4h0M222.1 399.4h0M238.1 393.1h0M230.3 390.8h0M229.5 391.4h0M236.0 392.1h0M228.2 390.9h0M242.6 386.8h0M228.7 398.5h0M232.3 394.3h0M221.6 395.9h0M251.0 382.6h0M244.3 383.6h0M234.7 386.6h0M239.9 384.5h0M224.4 396.9h0M238.0 388.8h0M233.4 389.1h0M231.7 390.5h0M233.3 386.0h0M229.0 394.2h0M216.3 406.9h0M217.9 399.5h0M223.8 399.9h0M232.4 386.1h0M241.0 386.1h0M230.1 387.7h0M224.6 397.4h0M222.7 400.6h0M235.4 387.0h0M228.8 395.2h0M240.1 380.5h0M217.1 394.2h0M227.7 394.5h0M227.9 396.0h0M237.9 391.0h0M231.3 392.2h0M242.5 380.0h0M232.6 387.7h0M234.6 387.7h0M211.6 405.7h0M226.7 391.9h0M233.8 391.0h0M225.9 399.5h0M232.7 390.1h0M224.6 397.9h0M234.3 391.0h0M230.7 393.8h0M211.2 407.4h0M229.3 389.3h0M241.4 385.3h0M234.3 387.3h0M229.4 389.2h0M239.3 389.1h0M241.6 382.9h0M226.9 397.3h0M231.0 395.6h0M237.6 383.9h0M222.2 395.2h0M232.0 389.9h0M237.7 385.9h0M227.6 392.0h0M219.4 405.6h0M232.1 386.0h0M218.1 401.9h0M226.1 396.3h0M231.9 384.4h0M241.5 378.6h0M234.9 387.3h0M216.0 402.1h0M223.9 401.5h0M234.4 394.5h0M242.2 379.3h0M232.2 388.2h0M232.1 389.9h0M236.9 388.8h0M232.1 389.5h0M238.3 389.3h0M232.5 390.4h0M234.0 386.5h0M230.9 389.4h0M231.1 385.7h0M231.7 388.5h0M224.0 397.8h0M234.0 384.4h0M223.4 397.7h0M228.4 393.1h0M227.8 395.5h0M229.8 391.7h0M239.5 387.3h0M221.9 395.6h0M234.5 388.9h0M220.0 396.2h0M220.4 395.5h0M232.6 390.4h0M227.6 390.7h0M233.9 395.5h0M229.5 400.8h0M231.6 387.0h0M240.6 388.4h0M242.4 374.4h0M233.5 396.8h0M222.1 394.5h0M246.6 380.1h0M218.9 405.1h0M244.4 379.9h0M224.3 405.0h0M233.5 385.8h0M227.3 395.0h0M231.7 391.9h0M227.6 396.3h0M223.7 392.4h0M231.4 386.8h0M248.3 385.6h0M228.1 389.8h0M230.0 394.3h0M234.4 390.4h0M224.9 397.4h0M230.8 391.2h0M237.0 386.0h0M221.1 387.5h0M229.3 393.6h0M230.7 394.1h0M218.6 400.8h0M244.6 386.8h0M224.1 395.2h0M224.5 394.5h0M232.2 394.4h0M229.9 394.1h0M239.3 394.1h0M230.9 386.0h0M231.1 390.1h0M225.9 394.1h0M231.8 395.4h0M226.3 404.2h0M233.3 388.5h0M237.9 384.3h0M238.1 390.4h0M217.9 404.3h0M227.3 392.8h0M229.8 392.8h0M230.3 390.7h0M231.3 389.6h0M227.0 394.9h0M221.9 403.2h0M227.6 392.3h0M227.7 399.5h0M239.0 387.7h0M219.8 404.4h0M226.5 404.4h0M224.4 390.1h0M226.6 398.0h0M238.6 384.4h0M227.1 389.1h0M222.0 398.9h0M233.7 388.0h0M223.7 400.9h0M243.6 380.9h0M226.4 390.7h0M217.5 402.7h0M214.9 399.2h0M223.0 397.4h0M223.5 396.9h0M232.7 389.6h0M227.6 393.0h0M229.7 394.2h0M233.4 385.8h0M222.6 402.1h0M224.2 395.6h0M217.2 396.6h0M230.5 390.9h0M238.3 388.0h0M232.4 388.4h0M241.9 386.1h0M239.4 381.7h0M230.2 387.6h0M229.0 393.5h0M237.2 387.2h0M235.7 381.8h0M231.7 389.8h0M227.5 397.6h0M242.9 385.1h0M230.5 390.3h0M225.3 398.6h0M221.3 390.9h0M230.5 386.0h0M243.3 376.8h0M240.9 384.5h0M222.7 392.4h0M243.1 384.9h0M238.3 383.8h0M234.5 384.4h0M245.5 381.3h0M228.1 388.5h0M227.6 391.8h0M233.3 395.8h0M224.8 392.8h0M229.6 398.2h0M226.7 394.2h0M233.5 387.6h0M236.4 390.6h0M227.7 396.8h0M226.5 393.0h0M240.7 383.8h0M236.2 382.3h0M223.8 400.2h0M234.4 393.6h0M247.8 384.2h0M220.2 397.0h0M223.8 394.2h0M221.4 394.9h0M225.0 393.2h0M240.8 388.6h0M227.6 400.7h0M220.8 395.9h0M228.8 389.5h0M239.0 380.3h0M236.7 387.9h0M227.2 392.9h0M234.9 383.5h0M233.4 390.1h0M226.9 387.9h0M228.8 385.0h0M223.8 393.6h0M230.8 388.2h0M224.6 395.0h0M230.7 392.3h0M224.7 401.7h0M227.2 392.0h0M232.1 389.1h0M235.6 392.3h0M238.3 384.6h0M226.3 397.0h0M237.5 384.7h0M214.6 396.5h0M216.7 396.3h0M238.8 388.3h0M237.3 380.7h0M237.0 383.3h0M232.6 388.7h0M226.3 393.8h0M240.2 383.6h0M248.0 382.8h0M233.8 394.4h0M217.5 401.3h0M229.4 394.4h0M223.5 398.1h0M219.3 401.5h0M229.3 397.2h0M237.3 392.9h0M233.3 387.9h0M234.3 387.6h0M237.0 386.9h0M222.1 396.9h0M225.7 396.8h0M233.4 392.5h0M240.8 388.7h0M239.6 383.8h0M240.9 378.3h0M235.1 386.4h0M234.2 393.6h0M228.5 396.7h0M225.8 395.8h0M224.7 395.7h0M229.8 393.8h0M232.7 387.7h0M221.6 400.0h0M251.9 373.4h0M235.8 390.4h0M234.8 381.7h0M235.2 387.9h0M234.6 395.3h0M235.6 388.2h0M232.9 387.9h0M228.2 385.1h0M238.6 387.1h0M233.9 386.0h0M228.3 387.7h0M231.4 397.4h0M222.3 396.7h0M223.3 396.8h0M219.1 399.4h0M230.6 394.8h0M227.2 395.1h0M236.9 385.1h0M228.9 392.0h0M236.3 384.7h0M244.8 382.2h0M236.4 385.9h0M225.0 393.6h0M234.9 383.9h0M235.9 390.2h0M231.2 389.2h0M242.5 380.8h0M228.8 386.7h0M232.0 391.8h0M231.3 387.7h0M235.0 394.0h0M225.9 391.3h0M223.7 393.7h0M233.5 391.9h0M240.6 391.2h0M218.6 407.4h0M235.1 388.6h0M235.4 387.5h0M232.7 391.6h0M226.0 391.3h0M238.8 389.5h0M231.0 383.1h0M238.0 388.7h0M235.7 386.2h0M226.6 390.9h0M240.6 384.9h0M232.4 391.3h0M227.7 387.5h0M226.5 392.5h0M232.4 389.4h0M221.4 396.5h0M221.4 396.1h0M229.8 391.4h0M229.0 395.9h0M223.3 397.3h0M229.6 391.0h0M227.2 391.1h0M231.5 390.0h0M229.0 392.6h0M236.7 388.8h0M221.3 397.5h0M233.7 388.5h0M234.9 392.6h0M223.8 397.0h0M232.8 394.2h0M237.7 392.7h0M241.6 386.1h0M228.7 396.9h0M221.7 400.0h0M217.8 403.3h0M232.5 390.8h0M233.3 394.6h0M220.0 405.3h0M237.7 384.1h0M214.6 398.1h0M233.2 384.9h0M235.5 382.2h0M218.4 401.2h0M221.5 391.5h0M235.6 387.1h0M232.9 397.5h0M233.0 392.5h0M239.0 381.4h0M230.9 392.6h0M239.6 385.8h0M238.2 384.1h0M227.9 392.1h0M246.2 384.3h0M234.6 385.0h0M226.1 389.4h0M234.5 385.9h0M222.4 396.0h0M220.5 397.8h0M247.8 380.3h0M243.9 384.3h0M229.8 389.2h0M219.7 399.2h0M226.3 397.3h0M236.9 386.3h0M233.5 388.7h0M230.5 385.4h0M232.1 391.1h0M229.5 389.4h0M238.0 393.3h0M229.3 390.7h0M250.6 376.8h0M230.9 395.5h0M233.5 395.6h0M224.8 396.5h0M220.4 400.9h0M223.4 392.5h0M238.1 376.8h0M230.4 388.9h0M248.9 378.4h0M244.6 383.0h0M241.3 388.4h0M228.2 394.1h0M232.6 397.2h0M232.1 391.1h0M240.2 380.9h0M214.8 404.0h0M238.5 385.0h0M228.2 398.6h0M229.8 395.6h0M229.3 393.6h0M241.8 385.7h0M235.2 391.7h0M230.7 387.2h0M228.8 397.4h0M230.9 391.0h0M225.3 394.1h0M229.9 389.3h0M219.3 397.8h0M241.3 385.5h0M244.5 378.7h0M223.3 401.5h0M226.5 397.2h0M228.4 392.0h0M229.8 393.2h0M227.6 401.7h0M227.9 398.3h0M241.6 391.4h0M244.4 390.8h0M229.2 392.4h0M224.5 400.2h0M239.0 388.4h0M229.9 391.7h0M237.8 390.2h0M240.5 383.6h0M240.7 388.3h0M238.7 384.9h0M237.5 388.0h0M236.8 385.9h0M212.2 397.1h0M224.9 394.2h0M230.1 393.5h0M226.2 391.4h0M235.6 383.5h0M217.3 399.3h0M215.3 395.1h0M231.3 386.3h0M230.4 391.0h0M221.7 391.0h0M226.2 390.8h0M225.1 396.5h0M228.0 393.9h0M225.7 392.9h0M238.5 390.9h0M230.0 396.9h0M240.9 387.6h0M233.8 388.1h0M234.0 396.1h0M243.3 381.2h0M233.6 384.7h0M225.3 399.6h0M239.4 376.3h0M224.9 396.4h0M237.8 385.8h0M239.1 381.8h0M228.8 390.2h0M224.8 391.2h0M223.4 392.3h0M252.3 380.0h0M245.9 384.3h0M226.6 387.4h0M237.3 383.1h0M233.1 388.5h0M234.4 388.9h0M231.0 395.8h0M243.4 380.6h0M243.1 377.9h0M236.1 391.0h0M228.7 392.7h0M230.4 392.7h0M214.9 406.1h0M229.8 393.9h0M231.4 396.7h0M221.6 393.0h0M224.8 398.2h0M225.0 396.6h0M223.0 389.8h0M220.5 394.4h0M226.4 393.0h0M249.2 375.7h0M236.2 397.8h0M228.7 393.8h0M231.2 389.9h0M224.5 400.1h0M236.8 387.1h0M229.7 389.4h0M231.2 390.2h0M222.8 397.8h0M214.9 397.5h0M221.9 392.0h0M227.4 394.5h0M239.8 382.7h0M232.6 390.6h0M230.3 394.4h0M228.6 400.0h0M231.2 393.9h0M236.9 377.6h0M246.9 382.2h0M228.4 393.6h0M216.5 396.9h0M235.4 386.1h0M243.9 378.1h0M228.0 392.3h0M226.4 392.8h0M220.2 397.9h0M229.4 393.9h0M228.2 393.7h0M216.9 400.4h0M225.9 388.1h0M228.8 389.0h0M230.8 391.6h0M222.8 399.6h0M231.2 400.2h0M230.0 394.5h0M231.0 386.8h0M226.3 390.2h0M238.4 381.7h0M228.2 392.8h0M239.8 377.4h0M242.5 388.0h0M210.8 400.8h0M233.4 383.5h0M235.6 388.2h0M234.3 388.3h0M240.1 379.9h0M225.4 398.6h0M236.5 382.7h0M232.3 388.4h0M223.4 400.6h0M238.2 392.0h0M233.3 386.6h0M234.0 385.0h0M244.2 378.6h0M228.2 399.9h0M214.2 404.6h0M240.6 389.4h0M233.5 391.5h0M228.6 392.0h0M233.4 393.5h0M236.6 386.6h0M215.6 400.7h0M243.1 382.2h0M245.7 384.8h0M226.5 389.5h0M239.4 381.7h0M239.4 385.4h0M234.3 384.3h0M237.1 384.2h0M236.2 384.8h0M238.3 390.8h0M237.1 389.4h0M228.0 393.1h0M235.2 392.5h0M226.5 393.7h0M227.8 393.4h0M232.1 389.1h0M226.5 393.9h0M237.5 390.4h0M238.5 388.5h0M232.3 387.3h0M237.8 389.8h0M226.4 399.3h0M234.8 387.2h0M216.2 400.4h0M240.5 384.9h0M229.8 390.9h0M224.3 398.2h0M235.5 388.4h0M230.5 390.8h0M242.9 379.8h0M234.2 390.0h0M239.7 383.2h0M228.1 388.1h0M242.4 384.9h0M226.1 390.0h0M224.3 390.3h0M225.9 387.5h0M227.5 401.5h0M216.3 395.4h0M226.4 396.5h0M228.0 396.3h0M231.7 389.8h0M227.3 396.1h0M238.7 380.6h0M235.6 382.1h0M227.7 390.2h0M244.4 382.8h0M245.5 388.4h0M219.7 406.1h0M225.4 399.4h0M225.6 392.2h0M226.2 396.4h0M224.4 402.7h0M230.9 393.9h0M237.0 385.4h0M216.1 400.5h0M222.8 399.4h0M224.7 399.4h0M228.7 397.5h0M225.9 396.3h0M234.6 385.1h0M246.9 383.9h0M225.5 390.7h0M222.8 398.5h0M233.0 383.2h0M234.3 386.9h0M228.3 390.7h0M230.8 389.8h0M226.3 395.4h0M226.4 399.1h0M226.2 398.3h0M226.9 396.6h0M219.0 399.8h0M230.0 385.7h0M216.2 408.9h0M225.3 399.2h0M232.8 392.8h0M223.6 394.3h0M232.4 396.1h0M233.3 380.3h0M239.2 384.7h0M240.7 383.1h0M227.6 392.8h0M239.9 383.0h0M231.1 396.3h0M234.1 392.6h0M232.6 395.0h0M226.2 398.8h0M228.0 397.9h0M238.1 381.9h0M230.2 395.7h0M239.1 385.1h0M232.9 385.5h0M226.8 392.7h0M234.8 389.5h0M230.6 393.7h0M206.7 412.9h0M240.7 378.8h0M250.3 374.5h0M238.3 387.3h0M226.9 397.8h0M232.5 386.7h0M215.4 401.3h0M235.8 383.9h0M221.0 398.6h0M235.6 392.3h0M218.1 393.1h0M226.7 396.5h0M217.7 404.6h0M239.8 382.1h0M224.4 396.4h0M232.2 387.7h0M222.7 396.5h0M226.8 396.5h0M226.0 398.3h0M237.6 392.4h0M226.8 383.9h0M224.7 397.4h0M227.1 388.1h0M219.2 398.7h0M226.1 387.4h0M225.3 388.0h0M222.9 396.3h0M223.8 399.4h0M222.3 399.9h0M242.9 383.1h0M245.4 372.6h0M232.8 389.4h0M234.3 391.1h0M234.7 387.5h0M216.4 403.1h0M234.7 387.7h0M232.9 389.4h0M225.1 391.9h0M241.4 383.5h0M238.5 388.9h0M241.2 385.6h0M229.1 388.9h0M226.9 394.3h0M238.9 386.5h0M231.0 386.8h0M233.9 391.6h0M228.2 394.3h0M229.5 389.8h0M219.5 400.9h0M229.2 386.7h0M221.8 402.2h0M237.1 386.1h0M238.6 384.8h0M226.0 395.4h0M238.1 382.2h0M231.7 389.8h0M237.1 383.5h0M231.0 388.2h0M233.4 393.3h0M234.8 383.2h0M240.7 383.1h0M221.2 397.7h0M230.0 399.1h0M233.1 392.2h0M232.0 392.0h0M234.8 384.5h0M232.0 385.7h0M222.3 389.2h0M216.8 400.0h0M238.7 386.1h0M233.7 393.3h0M226.9 393.3h0M225.2 403.3h0M229.6 395.4h0M224.0 397.5h0M218.7 397.2h0M238.7 384.4h0M226.5 395.0h0M231.3 393.8h0M225.2 394.3h0M225.4 398.2h0M229.3 396.3h0M234.8 392.7h0M235.8 384.2h0M228.8 389.7h0M239.1 385.7h0M231.3 393.1h0M228.7 394.4h0M230.2 389.8h0M245.5 377.6h0M237.7 386.3h0M242.1 381.3h0M229.8 393.1h0M231.5 392.1h0M228.5 386.4h0M232.5 392.7h0M217.6 402.7h0M224.9 399.1h0M230.9 389.8h0M231.7 386.1h0M225.1 398.5h0M226.2 398.9h0M227.5 397.2h0M237.4 389.8h0M249.9 383.1h0M239.3 390.1h0M229.4 397.1h0M229.7 390.4h0M228.8 395.4h0M225.1 399.2h0M225.7 398.1h0M229.3 389.2h0M229.3 400.2h0M226.3 391.9h0M222.5 396.8h0M224.7 401.3h0M235.5 394.4h0M232.6 400.1h0M222.3 397.0h0M228.2 396.2h0M235.9 390.6h0M223.1 399.4h0M229.6 391.8h0M226.9 390.2h0M234.6 388.7h0M249.5 381.6h0M233.5 392.0h0M244.9 378.4h0M235.4 386.0h0M241.7 384.3h0M239.9 390.2h0M232.2 385.9h0M235.3 385.3h0M217.0 402.6h0M225.1 390.4h0M232.9 387.2h0M238.5 382.9h0M222.2 401.6h0M213.3 401.5h0M231.3 395.8h0M234.6 389.8h0M225.7 390.7h0M218.6 407.2h0M230.1 393.0h0M238.9 385.9h0M230.8 384.9h0M223.3 403.1h0M225.7 396.5h0M222.1 397.7h0M222.7 393.9h0M232.6 387.3h0M231.4 390.1h0M219.2 402.0h0M215.3 399.4h0M224.0 400.6h0M223.0 389.7h0M219.3 394.7h0M226.4 385.3h0M229.7 394.4h0M231.1 393.2h0M223.9 394.5h0M225.4 392.6h0M232.8 386.2h0M239.4 380.2h0M221.1 394.5h0M210.5 403.7h0M240.8 387.0h0M242.8 388.5h0M238.1 386.8h0M228.6 393.9h0M224.9 393.5h0M230.0 392.2h0M231.3 392.3h0M222.0 396.5h0M238.4 389.5h0M234.7 383.3h0M228.8 387.5h0M212.4 401.6h0M224.5 395.5h0M219.2 391.8h0M226.2 392.7h0M220.6 401.1h0M233.5 389.5h0M222.2 392.9h0M219.3 400.8h0M229.8 393.6h0M234.4 387.4h0M227.8 391.4h0M228.8 391.1h0M238.9 383.7h0M231.8 392.7h0M238.5 381.3h0M233.5 388.0h0M224.3 396.5h0M234.6 392.6h0M223.8 397.7h0M243.2 379.6h0M217.7 397.5h0M235.3 384.9h0M226.7 395.3h0M243.7 376.3h0M266.1 368.7h0M220.0 402.1h0M225.1 398.7h0M233.0 384.5h0M219.2 398.9h0M235.9 386.1h0M237.7 381.1h0M224.4 396.2h0M234.5 392.8h0M226.8 390.8h0M233.1 389.3h0M247.5 375.0h0M238.8 388.0h0M239.8 385.4h0M229.9 393.7h0M220.3 398.0h0M220.1 397.2h0M222.3 393.6h0M230.5 387.1h0M221.5 397.0h0M235.1 386.6h0M230.7 393.6h0M206.4 409.9h0M223.4 401.5h0M238.0 395.4h0M223.7 394.7h0M231.0 392.0h0M224.5 395.9h0M220.5 402.1h0M237.8 388.9h0M230.2 393.3h0M225.2 403.5h0M225.7 398.6h0M223.2 397.9h0M231.4 388.4h0M235.2 392.1h0M239.6 382.5h0M238.1 390.1h0M233.8 380.0h0M232.0 386.0h0M226.0 394.7h0M228.8 390.4h0M231.1 390.0h0M226.2 399.7h0M225.6 386.0h0M222.4 396.3h0M241.2 385.0h0M218.0 400.6h0M231.8 393.8h0M239.9 380.9h0M233.0 394.7h0M237.3 381.5h0M233.3 382.9h0M224.9 400.0h0M235.8 385.3h0M231.1 392.9h0M237.3 384.8h0M238.8 388.9h0M230.1 390.2h0M240.9 389.2h0M230.3 394.2h0M230.8 391.8h0M232.0 387.2h0M232.5 390.1h0M234.1 383.1h0M232.5 392.9h0M241.4 378.8h0M246.9 379.3h0M228.0 394.2h0M232.6 395.4h0M239.4 389.8h0M210.6 408.3h0M222.3 397.4h0M224.7 401.6h0M218.1 406.7h0M224.3 388.4h0M236.6 388.9h0M239.7 382.8h0M220.4 406.8h0M220.7 402.0h0M231.9 392.7h0M228.4 396.9h0M230.2 388.7h0M220.4 395.1h0M225.0 397.2h0M241.4 380.0h0M234.5 395.6h0M231.8 391.8h0M226.8 390.3h0M223.1 390.7h0M230.5 390.8h0M228.1 393.2h0M239.8 382.7h0M224.8 399.3h0M237.9 383.2h0M224.6 396.9h0M230.1 389.6h0M223.4 397.1h0M222.6 401.1h0M226.3 389.8h0M226.7 388.2h0M230.8 386.2h0M232.8 396.6h0M215.6 405.7h0M243.7 381.1h0M225.7 393.1h0M228.5 394.6h0M231.2 389.4h0M227.8 396.9h0M243.8 383.7h0M224.3 397.4h0M228.9 391.7h0M239.3 379.0h0M230.0 391.5h0M237.8 385.9h0M233.8 393.0h0M233.6 389.2h0M219.7 399.6h0M245.9 377.2h0M222.3 393.4h0M232.7 388.9h0M239.7 380.2h0M247.2 380.6h0M227.5 394.3h0M234.2 393.0h0M235.3 392.9h0M226.9 395.5h0M231.7 389.2h0M224.4 395.3h0M232.9 389.9h0M231.7 392.5h0M241.0 377.3h0M229.8 386.9h0M225.2 398.0h0M227.3 392.5h0M229.9 395.6h0M221.8 403.1h0M236.4 384.7h0M216.8 395.8h0M227.9 395.5h0M229.2 392.4h0M227.8 393.9h0M234.4 384.7h0M225.9 396.0h0M225.9 397.1h0M230.4 392.8h0M236.6 390.0h0M231.9 387.5h0M228.9 394.1h0M235.6 388.7h0M227.7 393.0h0M211.3 404.9h0M231.1 388.7h0M221.3 400.8h0M232.6 387.6h0M227.1 396.1h0M241.0 381.6h0M242.0 387.1h0M234.6 390.2h0M224.4 391.6h0M224.7 400.0h0M225.9 396.3h0M229.9 390.4h0M238.6 382.9h0M241.2 378.4h0M234.7 388.5h0M241.0 383.8h0M237.6 385.4h0M225.2 393.4h0M234.9 386.6h0M238.2 384.6h0M225.1 395.7h0M245.8 382.4h0M217.4 402.5h0M220.6 394.6h0M233.4 392.6h0M231.9 394.0h0M232.2 386.4h0M237.2 381.8h0M228.1 388.9h0M236.5 391.4h0M242.0 385.3h0M229.2 398.6h0M228.6 401.3h0M223.2 400.8h0M222.7 399.6h0M236.8 387.4h0M231.5 386.3h0M223.3 391.8h0M230.3 391.9h0M230.5 386.2h0M220.0 396.7h0M226.8 394.2h0M228.1 403.3h0M237.5 382.7h0M224.7 399.9h0M221.9 398.8h0M245.5 379.5h0M216.9 400.1h0M227.0 400.6h0M233.3 389.2h0M230.4 388.8h0M241.4 390.4h0M229.5 387.8h0M241.4 386.3h0M219.5 405.1h0M233.7 389.6h0M236.7 387.0h0M223.5 401.7h0M227.2 391.0h0M243.1 384.8h0M233.8 389.0h0M224.4 401.2h0M242.6 383.0h0M229.0 391.0h0M231.8 387.7h0M225.4 397.2h0M231.7 389.2h0M228.5 399.8h0M235.1 384.3h0M237.6 386.0h0M218.3 403.3h0M244.5 378.5h0M235.4 393.7h0M224.0 393.2h0M233.2 389.8h0M238.2 382.3h0M234.8 388.6h0M231.6 386.6h0M235.2 392.5h0M229.8 393.2h0M231.1 386.1h0M230.8 392.9h0M234.9 386.0h0M224.0 395.2h0M231.2 389.6h0M223.3 405.3h0M222.9 404.5h0M235.6 383.3h0M218.4 396.0h0M223.9 400.2h0M248.6 381.3h0M234.0 385.4h0M237.3 383.3h0M229.4 386.5h0M229.8 391.7h0M234.0 389.8h0M227.2 389.6h0M241.1 380.3h0M230.7 393.3h0M228.4 394.7h0M227.5 394.3h0M226.9 390.4h0M221.1 401.0h0M237.2 387.5h0M226.5 392.7h0M231.8 394.1h0M230.4 389.1h0M216.6 399.6h0M216.8 400.3h0M220.6 398.9h0M228.3 389.4h0M230.8 392.9h0M224.8 395.5h0M227.1 390.9h0M231.2 386.1h0M235.3 386.7h0M228.9 390.4h0M238.6 389.8h0M234.1 389.8h0M231.4 387.6h0M216.9 403.3h0M241.1 389.3h0M232.2 390.0h0M224.8 392.8h0M237.2 385.7h0M238.0 379.5h0M230.4 388.2h0M233.6 382.1h0M235.1 384.9h0M230.1 389.0h0M242.1 382.0h0M231.7 394.1h0M249.9 376.7h0M228.1 395.6h0M238.5 383.3h0M215.7 403.2h0M243.9 380.3h0M226.0 384.0h0M229.3 393.2h0M230.6 381.9h0M236.9 392.3h0M230.0 392.6h0M236.8 387.5h0M234.1 393.3h0M221.5 398.7h0M244.3 383.5h0M217.0 398.1h0M232.0 387.0h0M229.0 391.7h0M230.0 391.7h0M244.4 381.3h0M227.8 393.6h0M226.2 388.4h0M228.8 391.3h0M220.8 397.4h0M234.1 385.7h0M220.3 402.3h0M208.5 403.3h0M226.9 388.0h0M242.7 377.1h0M226.5 395.5h0M240.2 390.9h0M237.9 379.4h0M237.6 386.5h0M236.4 392.6h0M224.7 397.9h0M222.1 391.9h0M238.6 393.9h0M238.1 383.0h0M230.4 394.2h0M245.2 378.0h0M235.7 393.2h0M224.8 392.6h0M232.5 391.4h0M231.5 396.7h0M211.9 404.9h0M223.2 403.6h0M231.2 387.1h0M226.1 390.8h0M237.0 398.1h0M244.6 383.8h0M242.7 382.3h0M231.1 392.7h0M222.2 396.0h0M240.3 378.1h0M225.7 393.4h0M237.2 383.5h0M217.3 394.4h0M226.9 397.6h0M231.3 389.8h0M229.2 397.6h0M221.8 398.7h0M214.9 400.1h0M235.0 386.8h0M233.8 392.0h0M224.9 392.6h0M223.9 390.7h0M236.8 383.4h0M230.7 394.8h0M231.4 394.4h0M228.7 394.3h0M224.4 392.0h0M225.7 398.4h0M238.8 383.4h0M235.5 389.6h0M230.5 386.2h0M230.0 390.1h0M238.4 382.4h0M242.0 386.4h0M220.1 404.5h0M235.1 390.2h0M212.6 399.4h0M241.2 384.5h0M227.2 396.9h0M235.0 385.8h0M229.0 387.2h0M227.0 399.0h0M230.8 391.4h0M230.6 389.7h0M216.4 397.0h0M217.0 401.4h0M231.6 387.2h0M233.9 391.8h0M231.9 395.6h0M229.9 392.8h0M212.8 397.6h0M225.2 393.7h0M240.2 383.4h0M229.8 396.3h0M226.7 397.4h0M228.0 390.4h0M229.2 386.7h0M233.1 388.3h0M208.7 410.3h0M235.4 393.1h0M231.5 393.3h0M229.2 392.7h0M228.7 393.1h0M232.6 388.4h0M224.0 393.3h0M230.3 390.1h0M240.1 376.8h0M246.9 378.5h0M232.7 387.7h0M231.7 391.0h0M234.5 383.6h0M247.6 379.1h0M235.5 390.2h0M233.2 398.3h0M249.1 382.0h0M234.9 394.7h0M230.2 395.7h0M217.4 406.5h0M229.2 393.0h0M215.3 401.7h0M230.5 395.8h0M243.0 383.7h0M229.4 386.4h0M231.2 391.2h0M238.4 386.5h0M231.4 391.2h0M226.4 391.9h0M229.9 386.4h0M236.2 392.2h0M234.0 389.6h0M226.9 390.6h0M236.7 392.5h0M245.5 379.4h0M219.4 402.0h0M236.3 391.0h0M227.8 400.7h0M233.6 390.9h0M241.1 381.4h0M233.5 391.3h0M240.4 388.5h0M231.7 388.5h0M227.2 398.9h0M235.5 380.1h0M229.9 384.8h0M234.3 389.0h0M230.0 396.6h0M238.4 387.1h0M225.2 394.4h0M235.5 390.1h0M232.4 390.5h0M231.8 390.9h0M232.2 399.5h0M224.0 392.3h0M227.8 393.0h0M236.9 390.0h0M231.6 391.6h0M232.0 387.8h0M231.5 391.4h0M237.3 385.3h0M217.4 397.5h0M235.0 390.0h0M232.0 393.9h0M234.4 393.9h0M237.0 384.2h0M222.4 396.3h0M221.0 401.5h0M222.0 395.9h0M238.2 390.3h0M230.9 389.2h0M223.4 387.9h0M216.6 398.0h0M242.2 383.1h0M220.0 395.6h0M212.6 406.6h0M220.2 400.2h0M228.9 397.9h0M232.4 385.4h0M219.3 398.3h0M232.5 392.4h0M225.6 393.4h0M239.2 385.3h0M211.1 404.7h0M237.2 393.5h0M226.7 394.7h0M227.8 392.6h0M222.8 395.4h0M209.8 407.4h0M226.4 395.4h0M232.6 384.4h0M223.3 398.0h0M223.0 397.7h0M228.5 397.9h0M237.9 383.9h0M227.9 388.5h0M217.8 400.7h0M242.9 382.5h0M225.7 398.7h0M237.4 381.6h0M231.0 387.4h0M226.3 396.5h0M238.3 388.7h0M232.1 390.3h0M223.9 396.3h0M222.4 400.9h0M218.5 406.6h0M223.3 396.2h0M232.9 394.4h0M224.2 388.0h0M230.2 390.2h0M216.0 405.7h0M241.5 388.0h0M225.3 398.9h0M228.3 391.1h0M216.3 400.8h0M212.9 409.9h0M235.6 391.9h0M225.2 398.1h0M244.0 384.3h0M233.6 381.3h0M229.1 396.0h0M232.3 394.1h0M229.7 396.6h0M222.5 404.7h0M238.3 387.8h0M219.8 396.5h0M229.6 393.8h0M224.7 396.5h0M228.8 394.8h0M227.5 391.2h0M226.3 390.1h0M239.4 388.3h0M225.6 400.9h0M223.3 395.0h0M228.7 395.2h0M235.2 396.4h0M232.9 390.4h0M235.7 388.6h0M235.4 383.4h0M226.9 392.5h0M225.0 399.2h0M222.5 399.2h0M223.4 402.0h0M231.4 396.8h0M236.3 390.6h0M229.0 394.3h0M236.4 384.4h0M229.5 394.9h0M236.7 387.1h0M222.2 398.2h0M234.8 388.3h0M227.7 388.3h0M224.8 393.5h0M238.3 378.5h0M220.7 397.9h0M226.5 385.7h0M237.5 381.9h0M237.8 383.5h0M218.2 393.3h0M216.2 400.7h0M235.5 386.8h0M237.6 385.8h0M235.6 386.5h0M222.9 394.2h0M224.8 394.0h0M222.1 397.9h0M232.0 386.0h0M223.3 400.0h0M232.1 394.4h0M230.0 382.8h0M234.0 386.3h0M223.0 395.8h0M230.3 384.1h0M225.2 391.3h0M228.2 394.8h0M226.5 393.9h0M220.0 402.0h0M244.6 387.0h0M235.2 384.7h0M228.6 396.4h0M239.3 385.7h0M232.9 390.6h0M220.0 396.4h0M236.9 390.1h0M240.8 388.0h0M219.2 397.8h0M227.1 394.6h0M244.0 384.6h0M235.5 389.1h0M231.4 391.8h0M224.3 396.7h0M223.4 397.6h0M223.8 398.5h0M233.9 394.4h0M228.4 390.7h0M229.3 389.0h0M221.8 396.7h0M237.9 396.4h0M228.5 389.9h0M229.7 392.2h0M229.6 393.1h0M223.9 399.9h0M210.1 400.6h0M229.7 391.5h0M233.8 386.9h0M232.7 396.0h0M218.2 395.4h0M232.0 387.8h0M223.4 399.5h0M233.7 392.1h0M240.5 386.3h0M229.3 397.3h0M230.3 386.8h0M231.8 390.6h0M226.0 392.3h0M226.8 387.9h0M229.0 394.4h0M230.1 399.6h0M231.7 390.2h0M220.8 404.4h0M223.0 399.2h0M221.3 396.4h0M240.2 386.1h0M232.5 394.2h0M242.0 386.4h0M224.4 396.8h0M219.1 390.7h0M229.3 393.7h0M223.1 398.2h0M226.6 396.6h0M238.6 387.2h0M234.5 390.8h0M239.0 387.5h0M223.6 398.4h0M240.1 385.2h0M224.1 397.6h0M224.5 395.7h0M224.6 395.4h0M235.8 385.3h0M240.6 382.0h0M241.2 377.7h0M226.7 391.8h0M225.2 396.9h0M231.1 394.3h0M232.6 390.2h0M243.2 378.0h0M229.7 395.0h0M227.6 396.8h0M224.8 396.5h0M221.0 400.9h0M234.9 390.3h0M223.0 399.9h0M237.9 388.5h0M244.7 386.3h0M223.2 395.4h0M240.4 384.2h0M218.8 402.7h0M225.0 399.0h0M227.3 397.6h0M229.2 392.1h0M231.3 400.4h0M234.7 401.9h0M231.9 392.8h0M214.0 394.7h0M245.6 372.1h0M233.8 391.6h0M231.2 382.8h0M229.4 393.5h0M223.5 398.0h0M241.9 386.9h0M241.8 381.6h0M255.1 370.1h0M247.0 383.0h0M257.5 368.7h0M225.3 388.3h0M235.0 394.4h0M235.7 384.6h0M231.1 393.7h0M207.3 402.5h0M224.1 395.2h0M226.2 399.0h0M235.6 392.1h0M244.9 388.0h0M233.9 382.7h0M224.5 395.6h0M240.7 385.4h0M228.0 394.8h0M263.4 368.4h0M229.3 395.0h0M226.2 400.1h0M222.2 397.8h0M239.3 375.9h0M218.0 407.3h0M232.3 395.3h0M221.9 400.1h0M225.9 399.9h0M234.6 392.3h0M226.3 393.6h0M237.8 384.5h0M242.2 381.1h0M209.6 401.6h0M260.7 362.2h0M245.7 373.2h0M223.6 394.3h0M223.8 400.3h0M236.4 386.3h0M226.3 402.5h0M239.4 384.2h0M234.1 393.2h0M221.5 399.5h0M205.9 406.1h0M227.7 388.4h0M242.6 384.5h0M238.9 390.4h0M216.4 396.6h0M226.1 399.4h0M235.6 387.3h0M244.6 386.4h0M230.1 397.6h0M231.2 392.4h0M224.0 406.2h0M212.4 402.0h0M228.8 398.7h0M235.1 393.6h0M238.5 380.4h0M232.2 393.2h0M208.2 407.9h0M252.9 371.8h0M222.1 394.6h0M228.9 399.3h0M227.5 391.1h0M206.7 406.2h0M248.9 376.3h0M228.4 400.8h0M237.1 387.5h0M240.2 375.4h0M244.0 379.4h0M206.1 405.3h0M226.0 397.9h0M241.3 380.1h0M219.2 402.9h0M227.4 395.0h0M213.0 398.6h0M227.1 391.1h0M236.8 375.1h0M240.4 387.1h0M223.1 393.3h0M252.9 380.4h0M253.6 375.1h0M229.2 394.9h0M237.6 386.7h0M232.2 395.0h0M246.0 376.7h0M224.4 385.7h0M234.2 381.3h0M226.9 393.9h0M226.4 390.6h0M237.9 394.1h0M237.5 386.9h0M230.8 386.4h0M225.6 392.4h0M230.8 391.8h0M224.8 396.9h0M224.8 392.3h0M202.7 412.0h0M232.2 395.6h0M239.4 384.3h0M233.3 382.3h0M236.9 394.4h0M212.3 407.1h0M211.2 396.7h0M233.9 398.0h0M207.0 414.1h0M201.6 413.3h0M201.9 411.1h0M222.0 392.9h0M218.2 404.2h0M247.0 386.1h0M234.3 380.9h0M219.4 401.7h0M245.6 371.3h0M249.2 376.4h0M226.7 395.7h0M224.0 392.7h0M238.7 382.0h0M220.6 395.8h0M235.5 386.2h0M245.4 381.0h0M229.1 387.0h0M219.6 396.1h0M235.1 379.9h0M246.7 380.9h0M252.1 375.8h0M217.6 403.8h0M228.8 397.6h0M240.4 380.6h0M241.0 389.8h0M250.1 372.6h0M242.9 379.3h0M232.8 385.6h0M228.9 385.7h0M229.9 402.6h0M226.5 394.9h0M235.0 387.2h0M234.3 386.0h0M227.2 391.4h0M238.9 388.5h0M210.0 407.6h0M233.5 383.4h0M242.5 379.9h0M245.3 382.0h0M221.8 391.8h0M217.1 402.9h0M221.7 405.1h0M259.3 376.4h0M252.0 375.8h0M226.2 403.6h0M231.5 387.4h0M239.6 388.6h0M248.8 375.0h0M235.1 384.6h0M237.8 386.9h0M236.5 390.1h0M236.0 391.8h0M215.9 406.8h0M230.6 394.9h0M228.6 395.9h0M226.7 385.6h0M235.1 383.2h0M239.7 379.2h0M233.2 384.8h0M243.2 381.6h0M227.6 394.0h0M228.9 390.4h0M226.7 396.8h0M232.0 387.6h0M233.2 396.8h0M225.7 391.1h0M224.9 389.7h0M225.5 396.9h0M236.7 380.2h0M223.6 389.7h0M231.8 388.3h0M248.9 371.7h0M228.4 393.5h0M217.6 396.5h0M230.0 382.3h0M244.4 379.6h0M224.6 398.0h0M245.2 379.7h0M240.5 376.7h0M246.9 376.3h0M242.0 388.3h0M234.5 387.9h0M245.6 387.7h0M221.4 387.2h0M233.8 391.1h0M232.2 390.6h0M225.4 392.6h0M230.9 385.2h0M257.2 365.2h0M231.0 383.4h0M210.6 398.9h0M219.1 403.3h0M234.8 394.6h0M223.3 396.6h0M238.9 391.4h0M195.4 417.5h0M211.1 405.8h0M234.0 384.3h0M225.9 398.3h0M265.7 362.3h0M222.5 404.8h0M223.5 388.5h0M240.8 387.3h0M216.6 406.2h0M229.7 390.5h0M233.4 383.2h0M219.6 408.5h0M228.2 390.3h0M223.7 395.7h0M226.8 388.6h0M229.5 394.6h0M233.9 383.4h0M223.6 397.7h0M225.4 401.5h0M259.7 370.0h0M227.9 395.3h0M221.7 399.4h0M228.7 391.0h0M227.9 400.8h0M227.4 390.4h0M245.2 379.5h0M229.5 396.0h0M249.1 378.9h0M225.0 396.3h0M227.9 393.2h0M231.1 382.1h0M235.3 385.2h0M208.5 398.5h0M234.3 383.7h0M227.2 394.6h0M226.8 395.3h0M224.1 392.7h0M242.9 381.2h0M225.2 391.5h0M226.9 391.5h0M219.8 393.2h0M224.0 393.9h0M249.1 373.7h0M225.8 391.5h0M253.5 383.4h0M226.7 395.3h0M244.3 387.5h0M239.7 383.3h0M239.7 388.9h0M238.6 371.1h0M230.6 388.2h0M226.0 409.7h0M230.4 392.6h0M238.2 384.6h0M221.3 410.6h0M240.7 377.8h0M229.8 393.2h0M239.9 386.2h0M212.9 399.7h0M215.9 405.7h0M244.2 377.4h0M239.3 376.3h0M236.7 393.8h0M216.8 414.3h0M242.8 388.5h0M229.0 392.1h0M234.7 388.0h0M244.5 377.9h0M243.1 381.2h0M230.6 390.4h0M234.2 384.2h0M223.5 394.0h0M269.2 372.8h0M238.3 385.5h0M229.7 395.1h0M216.6 401.7h0M218.4 393.3h0M229.9 382.8h0M235.7 394.4h0M235.1 386.4h0M246.6 390.3h0M227.8 386.0h0M236.8 396.7h0M234.3 385.7h0M245.3 376.0h0M216.2 397.2h0M235.7 380.7h0M226.0 389.7h0M210.1 415.5h0M233.5 380.4h0M236.8 385.2h0" stroke="#0a0a0a" stroke-width="1.2" stroke-linecap="round" fill="none"/>
<circle cx="202.60" cy="352.50" r="0.50" fill="#333" />
<circle cx="213.00" cy="356.00" r="0.50" fill="#333" />
<circle cx="219.00" cy="347.30" r="0.50" fill="#333" />
<circle cx="246.70" cy="359.40" r="0.50" fill="#333" />
<circle cx="271.00" cy="370.70" r="0.50" fill="#333" />
<circle cx="271.00" cy="375.30" r="0.50" fill="#333" />
<circle cx="233.70" cy="366.70" r="0.50" fill="#333" />
<circle cx="190.80" cy="377.00" r="0.50" fill="#333" />
<circle cx="197.70" cy="378.00" r="0.50" fill="#333" />
<circle cx="212.30" cy="376.60" r="0.50" fill="#333" />
<circle cx="206.00" cy="385.00" r="0.50" fill="#333" />
<circle cx="200.00" cy="395.00" r="0.50" fill="#333" />
<circle cx="203.00" cy="414.00" r="0.50" fill="#333" />
<line x1="186.90" y1="343.00" x2="186.90" y2="438.80" stroke="#111" stroke-width="1.3" />
<line x1="186.30" y1="438.20" x2="285.60" y2="438.20" stroke="#111" stroke-width="1.3" />
<line x1="184.00" y1="358.00" x2="186.90" y2="358.00" stroke="#111" stroke-width="0.9" />
<text x="182.60" y="360.02" font-size="5.6" text-anchor="end" fill="#333" >4</text>
<line x1="184.00" y1="375.00" x2="186.90" y2="375.00" stroke="#111" stroke-width="0.9" />
<text x="182.60" y="377.02" font-size="5.6" text-anchor="end" fill="#333" >2</text>
<line x1="184.00" y1="392.00" x2="186.90" y2="392.00" stroke="#111" stroke-width="0.9" />
<text x="182.60" y="394.02" font-size="5.6" text-anchor="end" fill="#333" >0</text>
<line x1="184.00" y1="409.00" x2="186.90" y2="409.00" stroke="#111" stroke-width="0.9" />
<text x="182.60" y="411.02" font-size="5.6" text-anchor="end" fill="#333" >−2</text>
<line x1="184.00" y1="426.00" x2="186.90" y2="426.00" stroke="#111" stroke-width="0.9" />
<text x="182.60" y="428.02" font-size="5.6" text-anchor="end" fill="#333" >−4</text>
<line x1="195.78" y1="438.20" x2="195.78" y2="441.00" stroke="#111" stroke-width="0.9" />
<text x="195.78" y="451.42" font-size="5.6" text-anchor="middle" fill="#333" >−4</text>
<line x1="212.44" y1="438.20" x2="212.44" y2="441.00" stroke="#111" stroke-width="0.9" />
<text x="212.44" y="451.42" font-size="5.6" text-anchor="middle" fill="#333" >−2</text>
<line x1="229.10" y1="438.20" x2="229.10" y2="441.00" stroke="#111" stroke-width="0.9" />
<text x="229.10" y="451.42" font-size="5.6" text-anchor="middle" fill="#333" >0</text>
<line x1="245.76" y1="438.20" x2="245.76" y2="441.00" stroke="#111" stroke-width="0.9" />
<text x="245.76" y="451.42" font-size="5.6" text-anchor="middle" fill="#333" >2</text>
<line x1="262.42" y1="438.20" x2="262.42" y2="441.00" stroke="#111" stroke-width="0.9" />
<text x="262.42" y="451.42" font-size="5.6" text-anchor="middle" fill="#333" >4</text>
<line x1="279.08" y1="438.20" x2="279.08" y2="441.00" stroke="#111" stroke-width="0.9" />
<text x="279.08" y="451.42" font-size="5.6" text-anchor="middle" fill="#333" >6</text>
<line x1="245.80" y1="393.10" x2="263.30" y2="395.10" stroke="#111" stroke-width="0.9" />
<text x="264.80" y="397.12" font-size="5.6" fill="#333" font-style="italic" >ALAS2</text>
<line x1="245.00" y1="396.00" x2="262.50" y2="401.90" stroke="#111" stroke-width="0.9" />
<text x="264.00" y="403.92" font-size="5.6" fill="#333" font-style="italic" >CDKN1A</text>
<line x1="243.00" y1="398.50" x2="260.30" y2="406.90" stroke="#111" stroke-width="0.9" />
<text x="261.80" y="408.92" font-size="5.6" fill="#333" font-style="italic" >CDKN2B</text>
<line x1="238.00" y1="401.00" x2="258.50" y2="412.20" stroke="#111" stroke-width="0.9" />
<text x="260.00" y="414.22" font-size="5.6" fill="#333" font-style="italic" >FRAS2</text>
<line x1="232.00" y1="405.00" x2="249.20" y2="418.10" stroke="#111" stroke-width="0.9" />
<text x="250.70" y="420.12" font-size="5.6" fill="#333" >CDKN2A</text>
<text x="220.80" y="428.02" font-size="5.6" textLength="82.40" lengthAdjust="spacingAndGlyphs" fill="#333" >changes enriched in AAVS controls</text>
<text x="243.30" y="434.02" font-size="5.6" textLength="32.70" lengthAdjust="spacingAndGlyphs" fill="#333" >•  (601 genes)</text>
<text x="309.20" y="352.32" font-size="5.6" textLength="65.80" lengthAdjust="spacingAndGlyphs" fill="#333" >adjusted <tspan font-style="italic">P</tspan> values vs control</text>
<text x="381.30" y="340.12" font-size="5.6" textLength="54.00" lengthAdjust="spacingAndGlyphs" fill="#333" >CD34 NUP98::KDM5A</text>
<path d="M441.2,338.1 L442.8,336.6 L444.4,338.1 L442.8,339.6 Z" fill="#d0284a"/>
<text x="448.70" y="340.12" font-size="5.6" textLength="32.30" lengthAdjust="spacingAndGlyphs" fill="#333" >CHRF-288-11</text>
<path d="M487.6,338.1 L489.2,336.6 L490.8,338.1 L489.2,339.6 Z" fill="#2a5a90"/>
<text x="493.20" y="340.12" font-size="5.6" textLength="17.50" lengthAdjust="spacingAndGlyphs" fill="#333" >ST1653</text>
<text x="379.20" y="348.62" font-size="5.6" textLength="15.40" lengthAdjust="spacingAndGlyphs" fill="#333" >0.1μM</text>
<text x="401.30" y="348.62" font-size="5.6" textLength="20.20" lengthAdjust="spacingAndGlyphs" fill="#333" >&lt;0.0012</text>
<text x="449.50" y="349.12" font-size="5.6" textLength="10.50" lengthAdjust="spacingAndGlyphs" fill="#333" >0.73</text>
<text x="492.70" y="348.42" font-size="5.6" textLength="17.20" lengthAdjust="spacingAndGlyphs" fill="#333" >&lt;0.031</text>
<text x="383.10" y="356.92" font-size="5.6" textLength="10.50" lengthAdjust="spacingAndGlyphs" fill="#333" >1μM</text>
<text x="401.30" y="356.92" font-size="5.6" textLength="20.20" lengthAdjust="spacingAndGlyphs" fill="#333" >&lt;0.0012</text>
<text x="449.50" y="357.22" font-size="5.6" textLength="10.50" lengthAdjust="spacingAndGlyphs" fill="#333" >0.15</text>
<text x="492.70" y="356.42" font-size="5.6" textLength="20.00" lengthAdjust="spacingAndGlyphs" fill="#333" >&lt;0.0015</text>
<text x="392.10" y="364.72" font-size="5.6" textLength="39.10" lengthAdjust="spacingAndGlyphs" fill="#333" >(positive control)</text>
<line x1="385.40" y1="375.60" x2="385.40" y2="431.60" stroke="#111" stroke-width="1.2" />
<line x1="382.60" y1="377.60" x2="385.40" y2="377.60" stroke="#111" stroke-width="0.9" />
<text x="381.00" y="379.62" font-size="5.6" text-anchor="end" fill="#333" >1.5</text>
<line x1="382.60" y1="395.40" x2="385.40" y2="395.40" stroke="#111" stroke-width="0.9" />
<text x="381.00" y="397.42" font-size="5.6" text-anchor="end" fill="#333" >1.0</text>
<line x1="382.60" y1="413.20" x2="385.40" y2="413.20" stroke="#111" stroke-width="0.9" />
<text x="381.00" y="415.22" font-size="5.6" text-anchor="end" fill="#333" >0.5</text>
<line x1="382.60" y1="431.00" x2="385.40" y2="431.00" stroke="#111" stroke-width="0.9" />
<text x="381.00" y="433.02" font-size="5.6" text-anchor="end" fill="#333" >0.0</text>
<text x="353.60" y="406.04" font-size="7.6" text-anchor="middle" textLength="39.80" lengthAdjust="spacingAndGlyphs" fill="#333" transform="rotate(-90 353.60 403.30)" >Relative growth</text>
<text x="362.20" y="406.04" font-size="7.6" text-anchor="middle" textLength="22.50" lengthAdjust="spacingAndGlyphs" fill="#333" transform="rotate(-90 362.20 403.30)" >to DMSO</text>
<line x1="385.40" y1="431.00" x2="438.00" y2="431.00" stroke="#111" stroke-width="1.2" />
<line x1="390.20" y1="431.00" x2="390.20" y2="433.60" stroke="#111" stroke-width="0.9" />
<text x="390.20" y="443.82" font-size="5.6" text-anchor="middle" fill="#333" >0</text>
<line x1="405.05" y1="431.00" x2="405.05" y2="433.60" stroke="#111" stroke-width="0.9" />
<text x="405.05" y="443.82" font-size="5.6" text-anchor="middle" fill="#333" >5</text>
<line x1="419.90" y1="431.00" x2="419.90" y2="433.60" stroke="#111" stroke-width="0.9" />
<text x="419.90" y="443.82" font-size="5.6" text-anchor="middle" fill="#333" >10</text>
<line x1="434.75" y1="431.00" x2="434.75" y2="433.60" stroke="#111" stroke-width="0.9" />
<text x="434.75" y="443.82" font-size="5.6" text-anchor="middle" fill="#333" >15</text>
<text x="386.70" y="374.59" font-size="5.8" textLength="42.30" lengthAdjust="spacingAndGlyphs" fill="#333" >revumenib 0.1μM</text>
<path d="M390.2,395.4 L414.0,395.0 L434.8,392.9" fill="none" stroke="#f3b2bf" stroke-width="0.7" />
<path d="M390.2,395.4 L414.0,398.6 L434.8,403.9" fill="none" stroke="#a6bccb" stroke-width="0.7" />
<path d="M390.2,395.4 L414.0,405.4 L434.8,408.6" fill="none" stroke="#8c8c8c" stroke-width="0.7" />
<rect x="389.00" y="394.50" width="4.20" height="1.80" fill="#444" />
<circle cx="413.00" cy="396.50" r="0.85" fill="#e07088" />
<circle cx="414.60" cy="398.80" r="0.85" fill="#333" />
<circle cx="413.00" cy="403.00" r="0.85" fill="#333" />
<circle cx="412.20" cy="405.50" r="0.85" fill="#333" />
<circle cx="411.50" cy="408.00" r="0.85" fill="#333" />
<circle cx="414.00" cy="400.50" r="0.85" fill="#333" />
<circle cx="434.50" cy="404.00" r="0.85" fill="#333" />
<circle cx="433.00" cy="406.50" r="0.85" fill="#333" />
<circle cx="433.50" cy="409.00" r="0.85" fill="#333" />
<circle cx="435.50" cy="412.00" r="0.85" fill="#333" />
<circle cx="436.50" cy="404.50" r="0.85" fill="#333" />
<circle cx="434.20" cy="382.00" r="0.85" fill="#e07088" />
<circle cx="434.20" cy="393.00" r="0.85" fill="#e07088" />
<line x1="434.20" y1="382.00" x2="434.20" y2="403.60" stroke="#eea0b0" stroke-width="0.6" />
<text x="413.20" y="392.34" font-size="4" text-anchor="middle" fill="#e07088" >**</text>
<line x1="440.60" y1="431.00" x2="491.90" y2="431.00" stroke="#111" stroke-width="1.2" />
<line x1="445.20" y1="431.00" x2="445.20" y2="433.60" stroke="#111" stroke-width="0.9" />
<text x="445.20" y="443.82" font-size="5.6" text-anchor="middle" fill="#333" >0</text>
<line x1="460.05" y1="431.00" x2="460.05" y2="433.60" stroke="#111" stroke-width="0.9" />
<text x="460.05" y="443.82" font-size="5.6" text-anchor="middle" fill="#333" >5</text>
<line x1="474.90" y1="431.00" x2="474.90" y2="433.60" stroke="#111" stroke-width="0.9" />
<text x="474.90" y="443.82" font-size="5.6" text-anchor="middle" fill="#333" >10</text>
<line x1="489.75" y1="431.00" x2="489.75" y2="433.60" stroke="#111" stroke-width="0.9" />
<text x="489.75" y="443.82" font-size="5.6" text-anchor="middle" fill="#333" >15</text>
<text x="445.20" y="374.59" font-size="5.8" textLength="37.20" lengthAdjust="spacingAndGlyphs" fill="#333" >revumenib 1μM</text>
<path d="M445.2,395.4 L469.0,389.3 L489.8,388.3" fill="none" stroke="#f3b2bf" stroke-width="0.7" />
<path d="M445.2,395.4 L469.0,402.9 L489.8,406.1" fill="none" stroke="#a6bccb" stroke-width="0.7" />
<path d="M445.2,395.4 L469.0,398.6 L489.8,413.9" fill="none" stroke="#8c8c8c" stroke-width="0.7" />
<rect x="444.00" y="394.50" width="4.20" height="1.80" fill="#444" />
<circle cx="468.50" cy="381.50" r="0.85" fill="#e07088" />
<circle cx="468.50" cy="388.00" r="0.85" fill="#e07088" />
<circle cx="468.50" cy="393.00" r="0.85" fill="#e07088" />
<circle cx="489.70" cy="384.00" r="0.85" fill="#e07088" />
<circle cx="489.70" cy="394.00" r="0.85" fill="#e07088" />
<circle cx="467.50" cy="397.00" r="0.85" fill="#333" />
<circle cx="468.50" cy="399.00" r="0.85" fill="#333" />
<circle cx="469.50" cy="398.00" r="0.85" fill="#333" />
<circle cx="468.00" cy="401.00" r="0.85" fill="#333" />
<circle cx="469.00" cy="404.00" r="0.85" fill="#333" />
<circle cx="468.50" cy="409.00" r="0.85" fill="#333" />
<circle cx="489.00" cy="404.00" r="0.85" fill="#333" />
<circle cx="487.00" cy="413.00" r="0.85" fill="#333" />
<circle cx="488.50" cy="415.00" r="0.85" fill="#333" />
<circle cx="490.50" cy="416.50" r="0.85" fill="#333" />
<circle cx="491.00" cy="407.00" r="0.85" fill="#333" />
<line x1="468.50" y1="381.50" x2="468.50" y2="395.00" stroke="#eea0b0" stroke-width="0.6" />
<line x1="489.70" y1="384.00" x2="489.70" y2="394.00" stroke="#eea0b0" stroke-width="0.6" />
<text x="443.70" y="455.62" font-size="8.4" text-anchor="middle" textLength="63.90" lengthAdjust="spacingAndGlyphs" fill="#333" stroke="#333" stroke-width="0.18">Treatment duration (day)</text>
<defs><marker id="ah" markerWidth="6" markerHeight="6" refX="4" refY="3" orient="auto" markerUnits="userSpaceOnUse"><path d="M0,0.5 L4.5,3 L0,5.5 Z" fill="#111"/></marker></defs>
<circle cx="105.50" cy="508.20" r="9.40" fill="#8fb1e2" />
<circle cx="105.50" cy="508.20" r="6.77" fill="#9dbdea" />
<circle cx="105.50" cy="508.20" r="4.50" fill="#a2c0eb" />
<circle cx="31.30" cy="548.80" r="10.00" fill="#a2c0ea" />
<circle cx="31.30" cy="548.80" r="7.20" fill="#a9c5ec" />
<circle cx="31.30" cy="548.80" r="4.00" fill="#8eaee2" />
<circle cx="77.00" cy="548.50" r="9.80" fill="#f4c2c2" />
<circle cx="77.00" cy="548.50" r="7.06" fill="#f6cccc" />
<circle cx="77.00" cy="548.50" r="3.60" fill="#eeadb3" />
<path d="M146.17,550.00 L146.76,551.50 L146.04,552.88 L146.02,554.44 L145.31,555.83 L143.34,556.40 L142.24,557.35 L142.24,559.59 L140.11,559.45 L138.65,560.03 L137.60,561.99 L135.66,561.24 L134.00,562.09 L132.34,561.25 L130.61,561.29 L129.42,559.87 L127.46,560.11 L125.71,559.64 L124.93,558.09 L123.43,557.24 L122.60,555.88 L123.13,554.02 L121.09,553.09 L121.13,551.51 L121.69,550.00 L122.41,548.64 L120.86,546.86 L122.26,545.66 L122.51,544.08 L123.18,542.59 L124.62,541.63 L125.64,540.27 L127.74,540.31 L128.85,538.90 L130.73,539.10 L132.20,537.81 L134.00,537.82 L135.55,539.52 L137.09,539.71 L138.64,540.00 L140.92,539.30 L141.68,541.06 L143.23,541.76 L143.77,543.31 L145.07,544.29 L145.55,545.73 L146.00,547.13 L146.85,548.49 Z" fill="#f3b0b0" stroke="none" stroke-width="1" />
<path d="M142.72,549.50 L142.77,551.26 L142.27,552.98 L141.52,554.70 L139.84,555.79 L138.43,557.13 L135.96,556.25 L134.43,557.39 L132.46,558.30 L130.63,557.38 L128.59,557.09 L128.06,554.89 L126.31,554.17 L125.81,552.56 L124.64,551.18 L124.38,549.50 L125.76,548.03 L125.87,546.47 L126.63,545.05 L126.91,542.96 L128.73,542.13 L130.96,542.51 L132.50,540.98 L134.36,542.23 L136.35,541.68 L137.58,543.19 L138.78,544.27 L141.39,544.38 L141.11,546.47 L141.67,547.95 Z" fill="#ea9090" stroke="none" stroke-width="1" />
<path d="M137.94,549.00 L138.82,550.69 L136.86,551.51 L136.35,553.12 L134.45,553.00 L133.00,553.44 L131.09,554.25 L130.12,552.54 L128.47,551.94 L127.95,550.47 L127.70,549.00 L127.89,547.52 L129.05,546.44 L129.53,544.73 L131.54,545.00 L133.00,544.58 L134.42,545.09 L135.94,545.39 L137.23,546.26 L138.73,547.34 Z" fill="#da6470" stroke="none" stroke-width="1" />
<path d="M85.21,592.00 L84.96,593.50 L84.26,594.88 L84.31,596.59 L82.50,597.32 L81.74,598.74 L80.56,599.99 L78.60,599.85 L77.12,600.72 L75.40,600.92 L73.78,600.19 L72.08,600.15 L70.35,599.81 L69.10,598.70 L67.65,597.81 L67.22,596.22 L66.43,594.92 L66.15,593.46 L65.54,592.00 L65.20,590.39 L66.04,588.96 L66.58,587.46 L67.96,586.42 L68.88,585.06 L70.71,584.74 L72.11,583.94 L73.65,583.15 L75.40,582.96 L77.10,583.42 L78.60,584.14 L80.19,584.59 L81.51,585.49 L82.75,586.49 L84.25,587.44 L84.33,589.10 L85.56,590.40 Z" fill="#b6b6e6" stroke="none" stroke-width="1" />
<circle cx="75.40" cy="592.00" r="4.30" fill="#a09ada" />
<path d="M147.76,591.80 L147.86,593.27 L147.44,594.70 L146.15,595.74 L145.13,596.77 L144.37,598.05 L143.00,598.76 L141.82,599.94 L140.16,600.19 L138.50,600.22 L136.87,600.04 L135.25,599.78 L134.08,598.63 L132.57,598.10 L131.72,596.88 L129.99,596.19 L130.30,594.46 L128.94,593.31 L129.76,591.80 L129.11,590.32 L129.96,589.03 L130.56,587.71 L131.04,586.21 L132.93,585.87 L134.14,585.05 L135.14,583.55 L136.88,583.62 L138.50,583.98 L140.22,583.07 L141.88,583.51 L142.90,585.00 L144.41,585.51 L145.26,586.74 L146.34,587.76 L147.38,588.91 L147.22,590.43 Z" fill="#a496d6" stroke="none" stroke-width="1" />
<path d="M143.20,591.50 L143.62,593.13 L142.78,594.60 L141.64,595.97 L139.57,595.81 L138.00,596.10 L136.45,595.75 L134.98,595.21 L133.15,594.65 L133.26,592.87 L132.35,591.50 L133.13,590.09 L133.75,588.74 L134.78,587.54 L136.09,586.26 L138.00,586.34 L139.48,587.44 L141.07,587.73 L142.05,588.87 L143.92,589.78 Z" fill="#6e5cb4" stroke="none" stroke-width="1" />
<path d="M140.63,591.30 L141.07,592.71 L140.02,593.79 L138.68,594.74 L137.12,593.96 L135.91,593.42 L134.49,592.72 L134.23,591.30 L135.01,590.10 L135.55,588.78 L137.08,588.50 L138.63,588.05 L139.58,589.31 L140.49,590.14 Z" fill="#4e3a9a" stroke="none" stroke-width="1" />
<text x="13.80" y="505.36" font-size="1" ></text>
<text x="120.00" y="506.59" font-size="5.8" textLength="20.00" lengthAdjust="spacingAndGlyphs" fill="#333" >HSC-like</text>
<text x="120.00" y="513.19" font-size="5.8" textLength="24.80" lengthAdjust="spacingAndGlyphs" fill="#333" >population</text>
<line x1="95.50" y1="520.00" x2="83.80" y2="531.40" stroke="#111" stroke-width="0.8" marker-end="url(#ah)"/>
<line x1="116.30" y1="519.50" x2="127.40" y2="530.60" stroke="#111" stroke-width="0.8" marker-end="url(#ah)"/>
<text x="91.50" y="531.69" font-size="5.8" textLength="23.90" lengthAdjust="spacingAndGlyphs" fill="#333" >Bipotency</text>
<text x="13.10" y="534.19" font-size="5.8" textLength="23.80" lengthAdjust="spacingAndGlyphs" fill="#333" >LMPP-like</text>
<text x="55.00" y="533.99" font-size="5.8" text-anchor="middle" textLength="10.00" lengthAdjust="spacingAndGlyphs" fill="#333" font-style="italic" >WT1</text>
<text x="55.40" y="540.59" font-size="5.8" text-anchor="middle" textLength="20.00" lengthAdjust="spacingAndGlyphs" fill="#333" >mutation</text>
<line x1="63.00" y1="548.00" x2="47.50" y2="548.00" stroke="#111" stroke-width="0.8" marker-end="url(#ah)"/>
<text x="88.90" y="551.69" font-size="5.8" textLength="18.00" lengthAdjust="spacingAndGlyphs" fill="#333" >GMP-like</text>
<text x="151.70" y="548.79" font-size="5.8" textLength="11.00" lengthAdjust="spacingAndGlyphs" fill="#333" >MEP</text>
<text x="151.70" y="554.89" font-size="5.8" textLength="36.20" lengthAdjust="spacingAndGlyphs" fill="#333" >Megakaryocyte</text>
<line x1="77.60" y1="563.50" x2="77.60" y2="578.50" stroke="#111" stroke-width="0.8" marker-end="url(#ah)"/>
<line x1="134.60" y1="563.50" x2="134.60" y2="578.50" stroke="#111" stroke-width="0.8" marker-end="url(#ah)"/>
<text x="15.80" y="574.59" font-size="5.8" textLength="34.50" lengthAdjust="spacingAndGlyphs" fill="#333" >KMT2A/Menin</text>
<line x1="60.00" y1="572.40" x2="72.80" y2="572.40" stroke="#111" stroke-width="0.7" />
<line x1="72.80" y1="570.00" x2="72.80" y2="574.80" stroke="#111" stroke-width="0.7" />
<line x1="139.00" y1="571.30" x2="151.90" y2="571.30" stroke="#111" stroke-width="0.7" />
<line x1="139.00" y1="568.80" x2="139.00" y2="573.80" stroke="#111" stroke-width="0.7" />
<text x="155.60" y="570.19" font-size="5.8" textLength="19.00" lengthAdjust="spacingAndGlyphs" fill="#333" font-style="italic" >RB1 loss</text>
<text x="155.60" y="576.09" font-size="5.8" textLength="26.80" lengthAdjust="spacingAndGlyphs" fill="#333" font-style="italic" >E2F activity</text>
<text x="38.50" y="594.09" font-size="5.8" textLength="18.40" lengthAdjust="spacingAndGlyphs" fill="#333" >Myeloid</text>
<text x="108.70" y="590.29" font-size="5.8" text-anchor="middle" textLength="20.20" lengthAdjust="spacingAndGlyphs" fill="#333" >Terminal</text>
<text x="108.80" y="596.49" font-size="5.8" text-anchor="middle" textLength="34.20" lengthAdjust="spacingAndGlyphs" fill="#333" >Differentiation</text>
<text x="151.90" y="594.29" font-size="5.8" textLength="17.20" lengthAdjust="spacingAndGlyphs" fill="#333" >Platelet</text>
</svg></div></body></html>
